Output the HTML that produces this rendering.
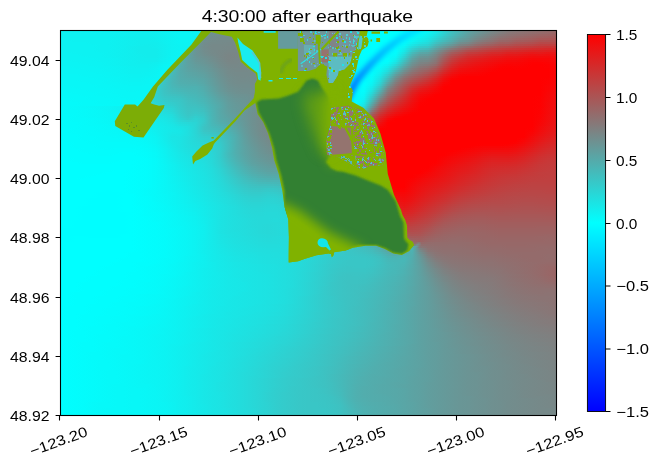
<!DOCTYPE html>
<html><head><meta charset="utf-8"><title>4:30:00 after earthquake</title>
<style>html,body{margin:0;padding:0;background:#fff}body{width:658px;height:469px;position:relative;overflow:hidden;font-family:"Liberation Sans", sans-serif}#w{position:absolute;left:60px;top:30px;width:497px;height:386px;overflow:hidden}#w i{display:block;height:2px;width:496px}</style></head><body>
<div id="w">
<i style="background:linear-gradient(90deg,#0ef1f1 0.0%,#0ef1f1 1.6%,#0ef1f1 3.2%,#0df2f2 4.8%,#0df2f2 6.5%,#0df2f2 8.1%,#0ef1f1 9.7%,#0ef1f1 11.3%,#0ff0f0 12.9%,#0ff0f0 14.5%,#10efef 16.1%,#10efef 17.7%,#0ff0f0 19.4%,#0df2f2 21.0%,#0bf4f4 22.6%,#09f6f6 24.2%,#09f6f6 25.8%,#0bf4f4 27.4%,#0ff0f0 29.0%,#10efef 29.4%,#6a9595 29.6%,#6d9292 30.6%,#708f8f 32.3%,#718e8e 33.9%,#718e8e 35.5%,#718e8e 37.1%,#718e8e 38.7%,#6f9090 40.3%,#6d9292 41.9%,#6a9595 43.5%,#669999 45.2%,#609f9f 46.8%,#58a7a7 48.4%,#4eb1b1 50.0%,#42bdbd 51.6%,#36c9c9 53.2%,#2ad5d5 54.8%,#1ee1e1 56.5%,#14ebeb 58.1%,#0bf4f4 59.7%,#05fafa 61.3%,#02fdfd 62.9%,#00ffff 64.5%,#00ffff 66.1%,#00ffff 67.7%,#00fdff 69.4%,#00ffff 71.0%,#02fdfd 72.6%,#08f7f7 74.2%,#15eaea 75.8%,#29d6d6 77.4%,#3cc3c3 79.0%,#4ab5b5 80.6%,#59a6a6 82.3%,#639c9c 83.9%,#6d9292 85.5%,#758a8a 87.1%,#7c8383 88.7%,#837c7c 90.3%,#867979 91.9%,#8a7575 93.5%,#8d7272 95.2%,#906f6f 96.8%,#936c6c 98.4%,#966969 100.0%)"></i>
<i style="background:linear-gradient(90deg,#0ef1f1 0.0%,#0ef1f1 1.6%,#0ef1f1 3.2%,#0ef1f1 4.8%,#0df2f2 6.5%,#0ef1f1 8.1%,#0ef1f1 9.7%,#0ef1f1 11.3%,#0ff0f0 12.9%,#10efef 14.5%,#10efef 16.1%,#10efef 17.7%,#0ff0f0 19.4%,#0df2f2 21.0%,#0bf4f4 22.6%,#0af5f5 24.2%,#0af5f5 25.8%,#0bf4f4 27.4%,#10efef 29.0%,#10efef 29.1%,#6b9494 29.3%,#6f9090 30.6%,#718e8e 32.3%,#728d8d 33.9%,#728d8d 35.5%,#728d8d 37.1%,#718e8e 38.7%,#708f8f 40.3%,#6e9191 41.9%,#6b9494 43.5%,#679898 45.2%,#619e9e 46.8%,#59a6a6 48.4%,#4fb0b0 50.0%,#43bcbc 51.6%,#36c9c9 53.2%,#2ad5d5 54.8%,#1ee1e1 56.5%,#13ecec 58.1%,#0bf4f4 59.7%,#05fafa 61.3%,#02fdfd 62.9%,#00ffff 64.5%,#00ffff 66.1%,#00ffff 67.7%,#00fdff 69.4%,#01fefe 71.0%,#04fbfb 72.6%,#0bf4f4 74.2%,#19e6e6 75.8%,#2dd2d2 77.4%,#40bfbf 79.0%,#4eb1b1 80.6%,#5da2a2 82.3%,#679898 83.9%,#708f8f 85.5%,#798686 87.1%,#807f7f 88.7%,#877878 90.3%,#8b7474 91.9%,#8e7171 93.5%,#916e6e 95.2%,#946b6b 96.8%,#976868 98.4%,#9a6565 100.0%)"></i>
<i style="background:linear-gradient(90deg,#0ef1f1 0.0%,#0ef1f1 1.6%,#0ef1f1 3.2%,#0ef1f1 4.8%,#0ef1f1 6.5%,#0ef1f1 8.1%,#0ef1f1 9.7%,#0ff0f0 11.3%,#0ff0f0 12.9%,#10efef 14.5%,#11eeee 16.1%,#11eeee 17.7%,#10efef 19.4%,#0ef1f1 21.0%,#0cf3f3 22.6%,#0af5f5 24.2%,#0af5f5 25.8%,#0cf3f3 27.4%,#0ff0f0 28.8%,#6b9494 29.0%,#6b9494 29.0%,#708f8f 30.6%,#728d8d 32.3%,#738c8c 33.9%,#738c8c 35.5%,#738c8c 37.1%,#728d8d 38.7%,#718e8e 40.3%,#6f9090 41.9%,#6c9393 43.5%,#689797 45.2%,#629d9d 46.8%,#5aa5a5 48.4%,#50afaf 50.0%,#44bbbb 51.6%,#37c8c8 53.2%,#2ad5d5 54.8%,#1ee1e1 56.5%,#13ecec 58.1%,#0af5f5 59.7%,#04fbfb 61.3%,#01fefe 62.9%,#00ffff 64.5%,#00ffff 66.1%,#00ffff 67.7%,#00feff 69.4%,#02fdfd 71.0%,#07f8f8 72.6%,#0ff0f0 74.2%,#1ee1e1 75.8%,#31cece 77.4%,#43bcbc 79.0%,#52adad 80.6%,#609f9f 82.3%,#6b9494 83.9%,#758a8a 85.5%,#7d8282 87.1%,#857a7a 88.7%,#8b7474 90.3%,#8f7070 91.9%,#926d6d 93.5%,#966969 95.2%,#9a6565 96.8%,#9c6363 98.4%,#9f6060 100.0%)"></i>
<i style="background:linear-gradient(90deg,#0ef1f1 0.0%,#0ef1f1 1.6%,#0ef1f1 3.2%,#0ef1f1 4.8%,#0ef1f1 6.5%,#0ef1f1 8.1%,#0ef1f1 9.7%,#0ff0f0 11.3%,#10efef 12.9%,#11eeee 14.5%,#11eeee 16.1%,#11eeee 17.7%,#10efef 19.4%,#0ef1f1 21.0%,#0cf3f3 22.6%,#0af5f5 24.2%,#0af5f5 25.8%,#0df2f2 27.4%,#0ff0f0 28.4%,#6b9494 28.7%,#6d9292 29.0%,#728d8d 30.6%,#738c8c 32.3%,#748b8b 33.9%,#748b8b 35.5%,#748b8b 37.1%,#738c8c 38.7%,#728d8d 40.3%,#708f8f 41.9%,#6e9191 43.5%,#699696 45.2%,#649b9b 46.8%,#5ba4a4 48.4%,#51aeae 50.0%,#45baba 51.6%,#37c8c8 53.2%,#2ad5d5 54.8%,#1ee1e1 56.5%,#13ecec 58.1%,#0af5f5 59.7%,#04fbfb 61.3%,#01fefe 62.9%,#00ffff 64.5%,#00ffff 66.1%,#00ffff 67.7%,#00feff 69.4%,#04fbfb 71.0%,#0af5f5 72.6%,#13ecec 74.2%,#24dbdb 75.8%,#37c8c8 77.4%,#48b7b7 79.0%,#57a8a8 80.6%,#639c9c 82.3%,#708f8f 83.9%,#798686 85.5%,#827d7d 87.1%,#8a7575 88.7%,#8f7070 90.3%,#946b6b 91.9%,#976868 93.5%,#9b6464 95.2%,#9f6060 96.8%,#a15e5e 98.4%,#a35c5c 100.0%)"></i>
<i style="background:linear-gradient(90deg,#0df2f2 0.0%,#0ef1f1 1.6%,#0ef1f1 3.2%,#0ef1f1 4.8%,#0ef1f1 6.5%,#0ef1f1 8.1%,#0ef1f1 9.7%,#0ff0f0 11.3%,#10efef 12.9%,#11eeee 14.5%,#12eded 16.1%,#12eded 17.7%,#11eeee 19.4%,#0ff0f0 21.0%,#0cf3f3 22.6%,#0bf4f4 24.2%,#0bf4f4 25.8%,#0df2f2 27.4%,#0ff0f0 28.1%,#6b9494 28.4%,#6f9090 29.0%,#738c8c 30.6%,#748b8b 32.3%,#748b8b 33.9%,#758a8a 35.5%,#758a8a 37.1%,#748b8b 38.7%,#738c8c 40.3%,#718e8e 41.9%,#6f9090 43.5%,#6b9494 45.2%,#659a9a 46.8%,#5da2a2 48.4%,#52adad 50.0%,#45baba 51.6%,#38c7c7 53.2%,#2ad5d5 54.8%,#1ee1e1 56.5%,#13ecec 58.1%,#0af5f5 59.7%,#04fbfb 61.3%,#01fefe 62.9%,#00ffff 64.5%,#00ffff 66.1%,#00ffff 67.7%,#00feff 69.4%,#06f9f9 71.0%,#0ff0f0 72.6%,#18e7e7 74.2%,#2bd4d4 75.8%,#3dc2c2 77.4%,#4db2b2 79.0%,#5ea1a1 80.6%,#689797 82.3%,#758a8a 83.9%,#7f8080 85.5%,#877878 87.1%,#906f6f 88.7%,#946b6b 90.3%,#9a6565 91.9%,#9d6262 93.5%,#a05f5f 95.2%,#a65959 96.8%,#a75858 98.4%,#a95656 100.0%)"></i>
<i style="background:linear-gradient(90deg,#0df2f2 0.0%,#0df2f2 1.6%,#0ef1f1 3.2%,#0ef1f1 4.8%,#0ef1f1 6.5%,#0ef1f1 8.1%,#0ef1f1 9.7%,#0ff0f0 11.3%,#10efef 12.9%,#11eeee 14.5%,#12eded 16.1%,#12eded 17.7%,#11eeee 19.4%,#0ff0f0 21.0%,#0df2f2 22.6%,#0bf4f4 24.2%,#0bf4f4 25.8%,#0ef1f1 27.4%,#0ff0f0 27.8%,#6a9595 28.0%,#708f8f 29.0%,#748b8b 30.6%,#758a8a 32.3%,#758a8a 33.9%,#758a8a 35.5%,#758a8a 37.1%,#758a8a 38.7%,#748b8b 40.3%,#728d8d 41.9%,#708f8f 43.5%,#6c9393 45.2%,#669999 46.8%,#5ea1a1 48.4%,#53acac 50.0%,#46b9b9 51.6%,#38c7c7 53.2%,#2ad5d5 54.8%,#1de2e2 56.5%,#12eded 58.1%,#09f6f6 59.7%,#03fcfc 61.3%,#00ffff 62.9%,#00ffff 64.5%,#00ffff 66.1%,#00ffff 67.7%,#00ffff 69.4%,#0af5f5 71.0%,#15eaea 72.6%,#1ee1e1 74.2%,#34cbcb 75.8%,#44bbbb 77.4%,#53acac 79.0%,#659a9a 80.6%,#6e9191 82.3%,#7d8282 83.9%,#867979 85.5%,#8d7272 87.1%,#976868 88.7%,#996666 90.3%,#a15e5e 91.9%,#a35c5c 93.5%,#a75858 95.2%,#ad5252 96.8%,#ae5151 98.4%,#af5050 100.0%)"></i>
<i style="background:linear-gradient(90deg,#0df2f2 0.0%,#0df2f2 1.6%,#0df2f2 3.2%,#0df2f2 4.8%,#0ef1f1 6.5%,#0ef1f1 8.1%,#0ef1f1 9.7%,#0ff0f0 11.3%,#10efef 12.9%,#11eeee 14.5%,#12eded 16.1%,#12eded 17.7%,#12eded 19.4%,#0ff0f0 21.0%,#0df2f2 22.6%,#0bf4f4 24.2%,#0cf3f3 25.8%,#0ff0f0 27.4%,#0ff0f0 27.4%,#699696 27.7%,#728d8d 29.0%,#758a8a 30.6%,#758a8a 32.3%,#768989 33.9%,#768989 35.5%,#768989 37.1%,#758a8a 38.7%,#748b8b 40.3%,#738c8c 41.9%,#718e8e 43.5%,#6d9292 45.2%,#679898 46.8%,#5fa0a0 48.4%,#54abab 50.0%,#47b8b8 51.6%,#38c7c7 53.2%,#2ad5d5 54.8%,#1de2e2 56.5%,#12eded 58.1%,#09f6f6 59.7%,#02fdfd 61.3%,#00ffff 62.9%,#00ffff 64.5%,#00feff 66.1%,#00ffff 67.7%,#02fdfd 69.4%,#10efef 71.0%,#1ce3e3 72.6%,#25dada 74.2%,#3dc2c2 75.8%,#4eb1b1 77.4%,#5ca3a3 79.0%,#6f9090 80.6%,#778888 82.3%,#867979 83.9%,#8f7070 85.5%,#966969 87.1%,#a05f5f 88.7%,#a15e5e 90.3%,#a95656 91.9%,#ac5353 93.5%,#af5050 95.2%,#b64949 96.8%,#b64949 98.4%,#b64949 100.0%)"></i>
<i style="background:linear-gradient(90deg,#0df2f2 0.0%,#0df2f2 1.6%,#0df2f2 3.2%,#0df2f2 4.8%,#0df2f2 6.5%,#0ef1f1 8.1%,#0ef1f1 9.7%,#0ff0f0 11.3%,#10efef 12.9%,#11eeee 14.5%,#12eded 16.1%,#13ecec 17.7%,#12eded 19.4%,#10efef 21.0%,#0df2f2 22.6%,#0cf3f3 24.2%,#0cf3f3 25.8%,#0ff0f0 27.0%,#669999 27.3%,#689797 27.4%,#728d8d 29.0%,#768989 30.6%,#768989 32.3%,#768989 33.9%,#778888 35.5%,#768989 37.1%,#768989 38.7%,#758a8a 40.3%,#748b8b 41.9%,#718e8e 43.5%,#6e9191 45.2%,#689797 46.8%,#609f9f 48.4%,#55aaaa 50.0%,#47b8b8 51.6%,#39c6c6 53.2%,#2ad5d5 54.8%,#1de2e2 56.5%,#11eeee 58.1%,#08f7f7 59.7%,#02fdfd 61.3%,#00ffff 62.9%,#00ffff 64.5%,#00feff 66.1%,#00feff 67.7%,#05fafa 69.4%,#18e7e7 71.0%,#26d9d9 72.6%,#2dd2d2 74.2%,#48b7b7 75.8%,#59a6a6 77.4%,#689797 79.0%,#7b8484 80.6%,#837c7c 82.3%,#916e6e 83.9%,#9a6565 85.5%,#a15e5e 87.1%,#aa5555 88.7%,#ac5353 90.3%,#b34c4c 91.9%,#b64949 93.5%,#b94646 95.2%,#bf4040 96.8%,#c03f3f 98.4%,#c03f3f 100.0%)"></i>
<i style="background:linear-gradient(90deg,#0df2f2 0.0%,#0df2f2 1.6%,#0df2f2 3.2%,#0df2f2 4.8%,#0df2f2 6.5%,#0ef1f1 8.1%,#0ef1f1 9.7%,#0ff0f0 11.3%,#10efef 12.9%,#12eded 14.5%,#13ecec 16.1%,#13ecec 17.7%,#12eded 19.4%,#10efef 21.0%,#0df2f2 22.6%,#0cf3f3 24.2%,#0df2f2 25.8%,#0ef1f1 26.6%,#649b9b 26.9%,#699696 27.4%,#738c8c 29.0%,#768989 30.6%,#768989 32.3%,#778888 33.9%,#778888 35.5%,#778888 37.1%,#768989 38.7%,#758a8a 40.3%,#748b8b 41.9%,#728d8d 43.5%,#6f9090 45.2%,#699696 46.8%,#619e9e 48.4%,#56a9a9 50.0%,#48b7b7 51.6%,#39c6c6 53.2%,#2ad5d5 54.8%,#1de2e2 56.5%,#11eeee 58.1%,#08f7f7 59.7%,#01fefe 61.3%,#00ffff 62.9%,#00ffff 64.5%,#00feff 66.1%,#00ffff 67.7%,#0af5f5 69.4%,#22dddd 71.0%,#32cdcd 72.6%,#38c7c7 74.2%,#52adad 75.8%,#659a9a 77.4%,#768989 79.0%,#887777 80.6%,#936c6c 82.3%,#9e6161 83.9%,#a75858 85.5%,#ae5151 87.1%,#b54a4a 88.7%,#b94646 90.3%,#be4141 91.9%,#c13e3e 93.5%,#c53a3a 95.2%,#c93636 96.8%,#cb3434 98.4%,#ca3535 100.0%)"></i>
<i style="background:linear-gradient(90deg,#0df2f2 0.0%,#0df2f2 1.6%,#0df2f2 3.2%,#0df2f2 4.8%,#0df2f2 6.5%,#0ef1f1 8.1%,#0ef1f1 9.7%,#0ff0f0 11.3%,#10efef 12.9%,#12eded 14.5%,#13ecec 16.1%,#13ecec 17.7%,#13ecec 19.4%,#10efef 21.0%,#0df2f2 22.6%,#0cf3f3 24.2%,#0df2f2 25.8%,#0ef1f1 26.2%,#619e9e 26.5%,#699696 27.4%,#728d8d 29.0%,#768989 30.6%,#768989 32.3%,#778888 33.9%,#788787 35.5%,#778888 37.1%,#768989 38.7%,#768989 40.3%,#758a8a 41.9%,#738c8c 43.5%,#708f8f 45.2%,#6a9595 46.8%,#629d9d 48.4%,#56a9a9 50.0%,#48b7b7 51.6%,#39c6c6 53.2%,#2ad5d5 54.8%,#1de2e2 56.5%,#11eeee 58.1%,#07f8f8 59.7%,#01fefe 61.3%,#00feff 62.9%,#00ffff 64.5%,#00fdff 66.1%,#00ffff 67.7%,#10efef 69.4%,#2dd2d2 71.0%,#3ec1c1 72.6%,#45baba 74.2%,#5ea1a1 75.8%,#728d8d 77.4%,#867979 79.0%,#956a6a 80.6%,#a35c5c 82.3%,#ac5353 83.9%,#b44b4b 85.5%,#bb4444 87.1%,#c13e3e 88.7%,#c63939 90.3%,#c93636 91.9%,#cd3232 93.5%,#d12e2e 95.2%,#d32c2c 96.8%,#d62929 98.4%,#d52a2a 100.0%)"></i>
<i style="background:linear-gradient(90deg,#0cf3f3 0.0%,#0df2f2 1.6%,#0df2f2 3.2%,#0df2f2 4.8%,#0df2f2 6.5%,#0ef1f1 8.1%,#0ef1f1 9.7%,#0ff0f0 11.3%,#10efef 12.9%,#11eeee 14.5%,#13ecec 16.1%,#13ecec 17.7%,#13ecec 19.4%,#10efef 21.0%,#0df2f2 22.6%,#0cf3f3 24.2%,#0ef1f1 25.8%,#0ef1f1 25.8%,#5ea1a1 26.1%,#6a9595 27.4%,#728d8d 29.0%,#758a8a 30.6%,#778888 32.3%,#788787 33.9%,#788787 35.5%,#778888 37.1%,#778888 38.7%,#768989 40.3%,#758a8a 41.9%,#738c8c 43.5%,#708f8f 45.2%,#6b9494 46.8%,#639c9c 48.4%,#57a8a8 50.0%,#49b6b6 51.6%,#39c6c6 53.2%,#2ad5d5 54.8%,#1ce3e3 56.5%,#10efef 58.1%,#07f8f8 59.7%,#01fefe 61.3%,#00feff 62.9%,#00ffff 64.5%,#00fdff 66.1%,#01fefe 67.7%,#16e9e9 69.4%,#38c7c7 71.0%,#4bb4b4 72.6%,#51aeae 74.2%,#689797 75.8%,#7f8080 77.4%,#956a6a 79.0%,#a35c5c 80.6%,#b34c4c 82.3%,#b94646 83.9%,#c13e3e 85.5%,#c83737 87.1%,#cc3333 88.7%,#d32c2c 90.3%,#d42b2b 91.9%,#d82727 93.5%,#dc2323 95.2%,#dd2222 96.8%,#e01f1f 98.4%,#df2020 100.0%)"></i>
<i style="background:linear-gradient(90deg,#0cf3f3 0.0%,#0cf3f3 1.6%,#0df2f2 3.2%,#0df2f2 4.8%,#0df2f2 6.5%,#0df2f2 8.1%,#0ef1f1 9.7%,#0ff0f0 11.3%,#10efef 12.9%,#11eeee 14.5%,#13ecec 16.1%,#13ecec 17.7%,#13ecec 19.4%,#10efef 21.0%,#0df2f2 22.6%,#0cf3f3 24.2%,#0df2f2 25.5%,#5ba4a4 25.7%,#5ca3a3 25.8%,#6a9595 27.4%,#718e8e 29.0%,#758a8a 30.6%,#778888 32.3%,#798686 33.9%,#798686 35.5%,#778888 37.1%,#778888 38.7%,#768989 40.3%,#768989 41.9%,#748b8b 43.5%,#718e8e 45.2%,#6c9393 46.8%,#649b9b 48.4%,#58a7a7 50.0%,#49b6b6 51.6%,#39c6c6 53.2%,#2ad5d5 54.8%,#1ce3e3 56.5%,#10efef 58.1%,#07f8f8 59.7%,#01fefe 61.3%,#00feff 62.9%,#00feff 64.5%,#00fcff 66.1%,#03fcfc 67.7%,#1de2e2 69.4%,#43bcbc 71.0%,#57a8a8 72.6%,#5ba4a4 74.2%,#718e8e 75.8%,#897676 77.4%,#a25d5d 79.0%,#af5050 80.6%,#c03f3f 82.3%,#c53a3a 83.9%,#cc3333 85.5%,#d42b2b 87.1%,#d62929 88.7%,#dd2222 90.3%,#de2121 91.9%,#e21d1d 93.5%,#e61919 95.2%,#e51a1a 96.8%,#e91616 98.4%,#e71818 100.0%)"></i>
<i style="background:linear-gradient(90deg,#0cf3f3 0.0%,#0cf3f3 1.6%,#0cf3f3 3.2%,#0df2f2 4.8%,#0df2f2 6.5%,#0df2f2 8.1%,#0ef1f1 9.7%,#0ff0f0 11.3%,#10efef 12.9%,#11eeee 14.5%,#12eded 16.1%,#13ecec 17.7%,#13ecec 19.4%,#10efef 21.0%,#0df2f2 22.6%,#0cf3f3 24.2%,#0df2f2 25.1%,#57a8a8 25.3%,#5da2a2 25.8%,#6a9595 27.4%,#708f8f 29.0%,#748b8b 30.6%,#778888 32.3%,#7a8585 33.9%,#798686 35.5%,#778888 37.1%,#778888 38.7%,#768989 40.3%,#768989 41.9%,#748b8b 43.5%,#728d8d 45.2%,#6d9292 46.8%,#659a9a 48.4%,#58a7a7 50.0%,#49b6b6 51.6%,#39c6c6 53.2%,#2ad5d5 54.8%,#1ce3e3 56.5%,#10efef 58.1%,#06f9f9 59.7%,#01fefe 61.3%,#00feff 62.9%,#00fdff 64.5%,#00fcff 66.1%,#05fafa 67.7%,#25dada 69.4%,#4cb3b3 71.0%,#609f9f 72.6%,#649b9b 74.2%,#788787 75.8%,#936c6c 77.4%,#ac5353 79.0%,#bb4444 80.6%,#ca3535 82.3%,#cf3030 83.9%,#d62929 85.5%,#dc2323 87.1%,#df2020 88.7%,#e61919 90.3%,#e61919 91.9%,#ea1515 93.5%,#ee1111 95.2%,#ed1212 96.8%,#ef1010 98.4%,#ec1313 100.0%)"></i>
<i style="background:linear-gradient(90deg,#0cf3f3 0.0%,#0cf3f3 1.6%,#0cf3f3 3.2%,#0cf3f3 4.8%,#0df2f2 6.5%,#0df2f2 8.1%,#0ef1f1 9.7%,#0ff0f0 11.3%,#10efef 12.9%,#11eeee 14.5%,#12eded 16.1%,#13ecec 17.7%,#13ecec 19.4%,#10efef 21.0%,#0cf3f3 22.6%,#0cf3f3 24.2%,#0df2f2 24.7%,#54abab 24.9%,#5da2a2 25.8%,#699696 27.4%,#6e9191 29.0%,#728d8d 30.6%,#778888 32.3%,#7a8585 33.9%,#798686 35.5%,#778888 37.1%,#778888 38.7%,#778888 40.3%,#768989 41.9%,#758a8a 43.5%,#728d8d 45.2%,#6d9292 46.8%,#659a9a 48.4%,#59a6a6 50.0%,#49b6b6 51.6%,#39c6c6 53.2%,#29d6d6 54.8%,#1be4e4 56.5%,#0ff0f0 58.1%,#06f9f9 59.7%,#01fefe 61.3%,#00feff 62.9%,#00fdff 64.5%,#00fcff 66.1%,#09f6f6 67.7%,#2cd3d3 69.4%,#54abab 71.0%,#689797 72.6%,#6c9393 74.2%,#7d8282 75.8%,#9b6464 77.4%,#b54a4a 79.0%,#c43b3b 80.6%,#d22d2d 82.3%,#d82727 83.9%,#dd2222 85.5%,#e41b1b 87.1%,#e71818 88.7%,#ec1313 90.3%,#ed1212 91.9%,#f00f0f 93.5%,#f30c0c 95.2%,#f30c0c 96.8%,#f40b0b 98.4%,#f00f0f 100.0%)"></i>
<i style="background:linear-gradient(90deg,#0bf4f4 0.0%,#0cf3f3 1.6%,#0cf3f3 3.2%,#0cf3f3 4.8%,#0cf3f3 6.5%,#0df2f2 8.1%,#0df2f2 9.7%,#0ef1f1 11.3%,#10efef 12.9%,#11eeee 14.5%,#12eded 16.1%,#12eded 17.7%,#12eded 19.4%,#0ff0f0 21.0%,#0cf3f3 22.6%,#0cf3f3 24.2%,#0cf3f3 24.3%,#50afaf 24.5%,#5da2a2 25.8%,#689797 27.4%,#6c9393 29.0%,#718e8e 30.6%,#768989 32.3%,#7a8585 33.9%,#788787 35.5%,#778888 37.1%,#778888 38.7%,#778888 40.3%,#768989 41.9%,#758a8a 43.5%,#728d8d 45.2%,#6e9191 46.8%,#669999 48.4%,#59a6a6 50.0%,#49b6b6 51.6%,#39c6c6 53.2%,#29d6d6 54.8%,#1be4e4 56.5%,#0ff0f0 58.1%,#06f9f9 59.7%,#01fefe 61.3%,#00ffff 62.9%,#00fdff 64.5%,#00feff 66.1%,#0ef1f1 67.7%,#35caca 69.4%,#5ca3a3 71.0%,#6f9090 72.6%,#728d8d 74.2%,#837c7c 75.8%,#a25d5d 77.4%,#bd4242 79.0%,#cd3232 80.6%,#d92626 82.3%,#df2020 83.9%,#e41b1b 85.5%,#e91616 87.1%,#ed1212 88.7%,#f10e0e 90.3%,#f20d0d 91.9%,#f50a0a 93.5%,#f80707 95.2%,#f80707 96.8%,#f80707 98.4%,#f30c0c 100.0%)"></i>
<i style="background:linear-gradient(90deg,#0bf4f4 0.0%,#0bf4f4 1.6%,#0cf3f3 3.2%,#0cf3f3 4.8%,#0cf3f3 6.5%,#0df2f2 8.1%,#0df2f2 9.7%,#0ef1f1 11.3%,#0ff0f0 12.9%,#10efef 14.5%,#11eeee 16.1%,#12eded 17.7%,#12eded 19.4%,#0ef1f1 21.0%,#0bf4f4 22.6%,#0cf3f3 23.9%,#4db2b2 24.1%,#4eb1b1 24.2%,#5ea1a1 25.8%,#679898 27.4%,#6a9595 29.0%,#708f8f 30.6%,#758a8a 32.3%,#798686 33.9%,#788787 35.5%,#778888 37.1%,#778888 38.7%,#778888 40.3%,#768989 41.9%,#758a8a 43.5%,#738c8c 45.2%,#6e9191 46.8%,#669999 48.4%,#59a6a6 50.0%,#49b6b6 51.6%,#39c6c6 53.2%,#29d6d6 54.8%,#1ae5e5 56.5%,#0ef1f1 58.1%,#06f9f9 59.7%,#01fefe 61.3%,#00ffff 62.9%,#00feff 64.5%,#02fdfd 66.1%,#16e9e9 67.7%,#3ec1c1 69.4%,#639c9c 71.0%,#758a8a 72.6%,#788787 74.2%,#887777 75.8%,#a95656 77.4%,#c43b3b 79.0%,#d42b2b 80.6%,#de2121 82.3%,#e41b1b 83.9%,#e91616 85.5%,#ee1111 87.1%,#f20d0d 88.7%,#f60909 90.3%,#f60909 91.9%,#f90606 93.5%,#fc0303 95.2%,#fb0404 96.8%,#fa0505 98.4%,#f50a0a 100.0%)"></i>
<i style="background:linear-gradient(90deg,#0bf4f4 0.0%,#0bf4f4 1.6%,#0bf4f4 3.2%,#0cf3f3 4.8%,#0cf3f3 6.5%,#0cf3f3 8.1%,#0df2f2 9.7%,#0ef1f1 11.3%,#0ff0f0 12.9%,#10efef 14.5%,#11eeee 16.1%,#11eeee 17.7%,#10efef 19.4%,#0df2f2 21.0%,#0bf4f4 22.6%,#0bf4f4 23.5%,#49b6b6 23.7%,#4fb0b0 24.2%,#5ea1a1 25.8%,#659a9a 27.4%,#699696 29.0%,#6e9191 30.6%,#748b8b 32.3%,#788787 33.9%,#788787 35.5%,#768989 37.1%,#768989 38.7%,#778888 40.3%,#768989 41.9%,#758a8a 43.5%,#738c8c 45.2%,#6e9191 46.8%,#669999 48.4%,#59a6a6 50.0%,#49b6b6 51.6%,#38c7c7 53.2%,#28d7d7 54.8%,#1ae5e5 56.5%,#0ef1f1 58.1%,#05fafa 59.7%,#01fefe 61.3%,#00ffff 62.9%,#00ffff 64.5%,#06f9f9 66.1%,#1ee1e1 67.7%,#47b8b8 69.4%,#6a9595 71.0%,#7a8585 72.6%,#7f8080 74.2%,#8d7272 75.8%,#b14e4e 77.4%,#cb3434 79.0%,#db2424 80.6%,#e31c1c 82.3%,#e91616 83.9%,#ee1111 85.5%,#f20d0d 87.1%,#f60909 88.7%,#f90606 90.3%,#f90606 91.9%,#fb0404 93.5%,#fe0101 95.2%,#fe0101 96.8%,#fc0303 98.4%,#f70808 100.0%)"></i>
<i style="background:linear-gradient(90deg,#0bf4f4 0.0%,#0bf4f4 1.6%,#0bf4f4 3.2%,#0bf4f4 4.8%,#0cf3f3 6.5%,#0cf3f3 8.1%,#0df2f2 9.7%,#0ef1f1 11.3%,#0ff0f0 12.9%,#10efef 14.5%,#10efef 16.1%,#10efef 17.7%,#0ff0f0 19.4%,#0bf4f4 21.0%,#0af5f5 22.6%,#0bf4f4 23.1%,#46b9b9 23.4%,#51aeae 24.2%,#5da2a2 25.8%,#639c9c 27.4%,#679898 29.0%,#6c9393 30.6%,#738c8c 32.3%,#778888 33.9%,#778888 35.5%,#768989 37.1%,#768989 38.7%,#768989 40.3%,#768989 41.9%,#758a8a 43.5%,#738c8c 45.2%,#6e9191 46.8%,#669999 48.4%,#59a6a6 50.0%,#49b6b6 51.6%,#38c7c7 53.2%,#28d7d7 54.8%,#19e6e6 56.5%,#0df2f2 58.1%,#05fafa 59.7%,#01fefe 61.3%,#00ffff 62.9%,#02fdfd 64.5%,#0cf3f3 66.1%,#28d7d7 67.7%,#50afaf 69.4%,#708f8f 71.0%,#807f7f 72.6%,#867979 74.2%,#956a6a 75.8%,#b84747 77.4%,#d22d2d 79.0%,#e11e1e 80.6%,#e81717 82.3%,#ed1212 83.9%,#f10e0e 85.5%,#f50a0a 87.1%,#fa0505 88.7%,#fc0303 90.3%,#fb0404 91.9%,#fd0202 93.5%,#ff0000 95.2%,#ff0000 96.8%,#fe0101 98.4%,#f80707 100.0%)"></i>
<i style="background:linear-gradient(90deg,#0af5f5 0.0%,#0af5f5 1.6%,#0bf4f4 3.2%,#0bf4f4 4.8%,#0bf4f4 6.5%,#0cf3f3 8.1%,#0cf3f3 9.7%,#0df2f2 11.3%,#0ef1f1 12.9%,#0ff0f0 14.5%,#10efef 16.1%,#10efef 17.7%,#0ef1f1 19.4%,#0af5f5 21.0%,#0af5f5 22.6%,#0af5f5 22.7%,#43bcbc 23.0%,#52adad 24.2%,#5da2a2 25.8%,#629d9d 27.4%,#659a9a 29.0%,#6b9494 30.6%,#728d8d 32.3%,#768989 33.9%,#778888 35.5%,#768989 37.1%,#768989 38.7%,#768989 40.3%,#768989 41.9%,#758a8a 43.5%,#738c8c 45.2%,#6e9191 46.8%,#659a9a 48.4%,#58a7a7 50.0%,#49b6b6 51.6%,#38c7c7 53.2%,#27d8d8 54.8%,#18e7e7 56.5%,#0df2f2 58.1%,#05fafa 59.7%,#00ffff 61.3%,#00ffff 62.9%,#04fbfb 64.5%,#13ecec 66.1%,#33cccc 67.7%,#5aa5a5 69.4%,#778888 71.0%,#877878 72.6%,#8e7171 74.2%,#9f6060 75.8%,#c03f3f 77.4%,#d82727 79.0%,#e61919 80.6%,#ec1313 82.3%,#f10e0e 83.9%,#f40b0b 85.5%,#f80707 87.1%,#fc0303 88.7%,#fe0101 90.3%,#fd0202 91.9%,#fe0101 93.5%,#ff0000 95.2%,#ff0000 96.8%,#fe0101 98.4%,#f90606 100.0%)"></i>
<i style="background:linear-gradient(90deg,#0af5f5 0.0%,#0af5f5 1.6%,#0af5f5 3.2%,#0bf4f4 4.8%,#0bf4f4 6.5%,#0bf4f4 8.1%,#0cf3f3 9.7%,#0df2f2 11.3%,#0ef1f1 12.9%,#0ff0f0 14.5%,#0ff0f0 16.1%,#0ff0f0 17.7%,#0df2f2 19.4%,#0af5f5 21.0%,#09f6f6 22.4%,#40bfbf 22.6%,#40bfbf 22.6%,#53acac 24.2%,#5ca3a3 25.8%,#609f9f 27.4%,#649b9b 29.0%,#699696 30.6%,#708f8f 32.3%,#758a8a 33.9%,#768989 35.5%,#768989 37.1%,#768989 38.7%,#768989 40.3%,#768989 41.9%,#758a8a 43.5%,#738c8c 45.2%,#6e9191 46.8%,#659a9a 48.4%,#58a7a7 50.0%,#48b7b7 51.6%,#37c8c8 53.2%,#27d8d8 54.8%,#18e7e7 56.5%,#0cf3f3 58.1%,#04fbfb 59.7%,#00ffff 61.3%,#00ffff 62.9%,#07f8f8 64.5%,#1ae5e5 66.1%,#3ec1c1 67.7%,#649b9b 69.4%,#7f8080 71.0%,#8e7171 72.6%,#966969 74.2%,#a95656 75.8%,#c83737 77.4%,#df2020 79.0%,#ec1313 80.6%,#f10e0e 82.3%,#f40b0b 83.9%,#f70808 85.5%,#fb0404 87.1%,#fe0101 88.7%,#ff0000 90.3%,#fe0101 91.9%,#ff0000 93.5%,#ff0000 95.2%,#ff0000 96.8%,#ff0000 98.4%,#f90606 100.0%)"></i>
<i style="background:linear-gradient(90deg,#0af5f5 0.0%,#0af5f5 1.6%,#0af5f5 3.2%,#0af5f5 4.8%,#0bf4f4 6.5%,#0bf4f4 8.1%,#0cf3f3 9.7%,#0cf3f3 11.3%,#0df2f2 12.9%,#0ef1f1 14.5%,#0ef1f1 16.1%,#0ef1f1 17.7%,#0cf3f3 19.4%,#09f6f6 21.0%,#09f6f6 22.0%,#3dc2c2 22.2%,#42bdbd 22.6%,#54abab 24.2%,#5ba4a4 25.8%,#5ea1a1 27.4%,#629d9d 29.0%,#689797 30.6%,#6f9090 32.3%,#748b8b 33.9%,#768989 35.5%,#768989 37.1%,#758a8a 38.7%,#768989 40.3%,#768989 41.9%,#758a8a 43.5%,#728d8d 45.2%,#6d9292 46.8%,#659a9a 48.4%,#58a7a7 50.0%,#48b7b7 51.6%,#37c8c8 53.2%,#26d9d9 54.8%,#17e8e8 56.5%,#0cf3f3 58.1%,#04fbfb 59.7%,#00ffff 61.3%,#01fefe 62.9%,#0bf4f4 64.5%,#22dddd 66.1%,#4ab5b5 67.7%,#6e9191 69.4%,#867979 71.0%,#956a6a 72.6%,#a05f5f 74.2%,#b34c4c 75.8%,#d12e2e 77.4%,#e61919 79.0%,#f10e0e 80.6%,#f50a0a 82.3%,#f70808 83.9%,#fa0505 85.5%,#fd0202 87.1%,#ff0000 88.7%,#ff0000 90.3%,#ff0000 91.9%,#ff0000 93.5%,#ff0000 95.2%,#ff0000 96.8%,#ff0000 98.4%,#fa0505 100.0%)"></i>
<i style="background:linear-gradient(90deg,#09f6f6 0.0%,#0af5f5 1.6%,#0af5f5 3.2%,#0af5f5 4.8%,#0af5f5 6.5%,#0bf4f4 8.1%,#0bf4f4 9.7%,#0cf3f3 11.3%,#0df2f2 12.9%,#0ef1f1 14.5%,#0ef1f1 16.1%,#0df2f2 17.7%,#0cf3f3 19.4%,#09f6f6 21.0%,#09f6f6 21.6%,#3bc4c4 21.9%,#44bbbb 22.6%,#54abab 24.2%,#59a6a6 25.8%,#5ca3a3 27.4%,#609f9f 29.0%,#669999 30.6%,#6e9191 32.3%,#748b8b 33.9%,#758a8a 35.5%,#758a8a 37.1%,#758a8a 38.7%,#768989 40.3%,#768989 41.9%,#758a8a 43.5%,#728d8d 45.2%,#6d9292 46.8%,#649b9b 48.4%,#57a8a8 50.0%,#48b7b7 51.6%,#36c9c9 53.2%,#25dada 54.8%,#17e8e8 56.5%,#0bf4f4 58.1%,#03fcfc 59.7%,#00ffff 61.3%,#01fefe 62.9%,#0ff0f0 64.5%,#2bd4d4 66.1%,#56a9a9 67.7%,#778888 69.4%,#8e7171 71.0%,#9c6363 72.6%,#a95656 74.2%,#be4141 75.8%,#d92626 77.4%,#ec1313 79.0%,#f50a0a 80.6%,#f80707 82.3%,#fa0505 83.9%,#fc0303 85.5%,#ff0000 87.1%,#ff0000 88.7%,#ff0000 90.3%,#ff0000 91.9%,#ff0000 93.5%,#ff0000 95.2%,#ff0000 96.8%,#ff0000 98.4%,#fa0505 100.0%)"></i>
<i style="background:linear-gradient(90deg,#09f6f6 0.0%,#09f6f6 1.6%,#09f6f6 3.2%,#0af5f5 4.8%,#0af5f5 6.5%,#0af5f5 8.1%,#0bf4f4 9.7%,#0cf3f3 11.3%,#0cf3f3 12.9%,#0df2f2 14.5%,#0df2f2 16.1%,#0df2f2 17.7%,#0bf4f4 19.4%,#09f6f6 21.0%,#09f6f6 21.2%,#39c6c6 21.5%,#45baba 22.6%,#53acac 24.2%,#58a7a7 25.8%,#5ba4a4 27.4%,#5ea1a1 29.0%,#659a9a 30.6%,#6d9292 32.3%,#738c8c 33.9%,#758a8a 35.5%,#758a8a 37.1%,#758a8a 38.7%,#758a8a 40.3%,#758a8a 41.9%,#758a8a 43.5%,#728d8d 45.2%,#6d9292 46.8%,#649b9b 48.4%,#57a8a8 50.0%,#47b8b8 51.6%,#36c9c9 53.2%,#25dada 54.8%,#16e9e9 56.5%,#0af5f5 58.1%,#03fcfc 59.7%,#00ffff 61.3%,#02fdfd 62.9%,#13ecec 64.5%,#35caca 66.1%,#619e9e 67.7%,#817e7e 69.4%,#966969 71.0%,#a45b5b 72.6%,#b24d4d 74.2%,#c73838 75.8%,#e21d1d 77.4%,#f20d0d 79.0%,#fa0505 80.6%,#fc0303 82.3%,#fc0303 83.9%,#fe0101 85.5%,#ff0000 87.1%,#ff0000 88.7%,#ff0000 90.3%,#ff0000 91.9%,#ff0000 93.5%,#ff0000 95.2%,#ff0000 96.8%,#ff0000 98.4%,#fa0505 100.0%)"></i>
<i style="background:linear-gradient(90deg,#09f6f6 0.0%,#09f6f6 1.6%,#09f6f6 3.2%,#09f6f6 4.8%,#0af5f5 6.5%,#0af5f5 8.1%,#0bf4f4 9.7%,#0bf4f4 11.3%,#0cf3f3 12.9%,#0df2f2 14.5%,#0df2f2 16.1%,#0cf3f3 17.7%,#0bf4f4 19.4%,#09f6f6 20.9%,#09f6f6 21.0%,#37c8c8 21.1%,#47b8b8 22.6%,#53acac 24.2%,#57a8a8 25.8%,#59a6a6 27.4%,#5da2a2 29.0%,#649b9b 30.6%,#6c9393 32.3%,#728d8d 33.9%,#748b8b 35.5%,#758a8a 37.1%,#748b8b 38.7%,#758a8a 40.3%,#758a8a 41.9%,#748b8b 43.5%,#728d8d 45.2%,#6c9393 46.8%,#639c9c 48.4%,#57a8a8 50.0%,#47b8b8 51.6%,#36c9c9 53.2%,#24dbdb 54.8%,#15eaea 56.5%,#0af5f5 58.1%,#02fdfd 59.7%,#00feff 61.3%,#04fbfb 62.9%,#18e7e7 64.5%,#3ec1c1 66.1%,#6b9494 67.7%,#8a7575 69.4%,#9e6161 71.0%,#ac5353 72.6%,#bb4444 74.2%,#d02f2f 75.8%,#e91616 77.4%,#f70808 79.0%,#fd0202 80.6%,#ff0000 82.3%,#ff0000 83.9%,#ff0000 85.5%,#ff0000 87.1%,#ff0000 88.7%,#ff0000 90.3%,#ff0000 91.9%,#ff0000 93.5%,#ff0000 95.2%,#ff0000 96.8%,#ff0000 98.4%,#f90606 100.0%)"></i>
<i style="background:linear-gradient(90deg,#08f7f7 0.0%,#09f6f6 1.6%,#09f6f6 3.2%,#09f6f6 4.8%,#09f6f6 6.5%,#0af5f5 8.1%,#0af5f5 9.7%,#0bf4f4 11.3%,#0cf3f3 12.9%,#0cf3f3 14.5%,#0cf3f3 16.1%,#0bf4f4 17.7%,#0af5f5 19.4%,#09f6f6 20.5%,#36c9c9 20.8%,#38c7c7 21.0%,#48b7b7 22.6%,#52adad 24.2%,#55aaaa 25.8%,#57a8a8 27.4%,#5ba4a4 29.0%,#629d9d 30.6%,#6b9494 32.3%,#718e8e 33.9%,#748b8b 35.5%,#748b8b 37.1%,#748b8b 38.7%,#758a8a 40.3%,#758a8a 41.9%,#748b8b 43.5%,#728d8d 45.2%,#6c9393 46.8%,#639c9c 48.4%,#56a9a9 50.0%,#47b8b8 51.6%,#35caca 53.2%,#24dbdb 54.8%,#15eaea 56.5%,#09f6f6 58.1%,#02fdfd 59.7%,#00feff 61.3%,#05fafa 62.9%,#1de2e2 64.5%,#48b7b7 66.1%,#748b8b 67.7%,#926d6d 69.4%,#a65959 71.0%,#b54a4a 72.6%,#c43b3b 74.2%,#d92626 75.8%,#ef1010 77.4%,#fc0303 79.0%,#ff0000 80.6%,#ff0000 82.3%,#ff0000 83.9%,#ff0000 85.5%,#ff0000 87.1%,#ff0000 88.7%,#ff0000 90.3%,#ff0000 91.9%,#ff0000 93.5%,#ff0000 95.2%,#ff0000 96.8%,#fe0101 98.4%,#f90606 100.0%)"></i>
<i style="background:linear-gradient(90deg,#08f7f7 0.0%,#08f7f7 1.6%,#08f7f7 3.2%,#09f6f6 4.8%,#09f6f6 6.5%,#09f6f6 8.1%,#0af5f5 9.7%,#0bf4f4 11.3%,#0bf4f4 12.9%,#0cf3f3 14.5%,#0cf3f3 16.1%,#0bf4f4 17.7%,#0af5f5 19.4%,#0af5f5 20.1%,#34cbcb 20.4%,#3ac5c5 21.0%,#49b6b6 22.6%,#51aeae 24.2%,#53acac 25.8%,#55aaaa 27.4%,#59a6a6 29.0%,#619e9e 30.6%,#6a9595 32.3%,#718e8e 33.9%,#738c8c 35.5%,#748b8b 37.1%,#738c8c 38.7%,#748b8b 40.3%,#758a8a 41.9%,#748b8b 43.5%,#718e8e 45.2%,#6c9393 46.8%,#639c9c 48.4%,#56a9a9 50.0%,#47b8b8 51.6%,#35caca 53.2%,#23dcdc 54.8%,#14ebeb 56.5%,#08f7f7 58.1%,#01fefe 59.7%,#00feff 61.3%,#07f8f8 62.9%,#22dddd 64.5%,#51aeae 66.1%,#7c8383 67.7%,#9a6565 69.4%,#af5050 71.0%,#be4141 72.6%,#cd3232 74.2%,#e01f1f 75.8%,#f40b0b 77.4%,#ff0000 79.0%,#ff0000 80.6%,#ff0000 82.3%,#ff0000 83.9%,#ff0000 85.5%,#ff0000 87.1%,#ff0000 88.7%,#ff0000 90.3%,#ff0000 91.9%,#ff0000 93.5%,#ff0000 95.2%,#ff0000 96.8%,#fd0202 98.4%,#f80707 100.0%)"></i>
<i style="background:linear-gradient(90deg,#08f7f7 0.0%,#08f7f7 1.6%,#08f7f7 3.2%,#08f7f7 4.8%,#09f6f6 6.5%,#09f6f6 8.1%,#0af5f5 9.7%,#0af5f5 11.3%,#0bf4f4 12.9%,#0bf4f4 14.5%,#0bf4f4 16.1%,#0bf4f4 17.7%,#0af5f5 19.4%,#0af5f5 19.8%,#32cdcd 20.0%,#3bc4c4 21.0%,#49b6b6 22.6%,#50afaf 24.2%,#52adad 25.8%,#53acac 27.4%,#58a7a7 29.0%,#609f9f 30.6%,#699696 32.3%,#708f8f 33.9%,#738c8c 35.5%,#738c8c 37.1%,#738c8c 38.7%,#748b8b 40.3%,#748b8b 41.9%,#748b8b 43.5%,#718e8e 45.2%,#6c9393 46.8%,#639c9c 48.4%,#56a9a9 50.0%,#47b8b8 51.6%,#35caca 53.2%,#23dcdc 54.8%,#13ecec 56.5%,#08f7f7 58.1%,#01fefe 59.7%,#00ffff 61.3%,#0af5f5 62.9%,#28d7d7 64.5%,#5ba4a4 66.1%,#847b7b 67.7%,#a15e5e 69.4%,#b74848 71.0%,#c73838 72.6%,#d52a2a 74.2%,#e61919 75.8%,#f90606 77.4%,#ff0000 79.0%,#ff0000 80.6%,#ff0000 82.3%,#ff0000 83.9%,#ff0000 85.5%,#ff0000 87.1%,#ff0000 88.7%,#ff0000 90.3%,#ff0000 91.9%,#ff0000 93.5%,#ff0000 95.2%,#ff0000 96.8%,#fd0202 98.4%,#f70808 100.0%)"></i>
<i style="background:linear-gradient(90deg,#07f8f8 0.0%,#08f7f7 1.6%,#08f7f7 3.2%,#08f7f7 4.8%,#08f7f7 6.5%,#09f6f6 8.1%,#09f6f6 9.7%,#0af5f5 11.3%,#0af5f5 12.9%,#0bf4f4 14.5%,#0bf4f4 16.1%,#0af5f5 17.7%,#0af5f5 19.4%,#0af5f5 19.4%,#31cece 19.6%,#3cc3c3 21.0%,#48b7b7 22.6%,#4eb1b1 24.2%,#50afaf 25.8%,#51aeae 27.4%,#56a9a9 29.0%,#5fa0a0 30.6%,#689797 32.3%,#6f9090 33.9%,#728d8d 35.5%,#728d8d 37.1%,#728d8d 38.7%,#738c8c 40.3%,#748b8b 41.9%,#748b8b 43.5%,#718e8e 45.2%,#6c9393 46.8%,#639c9c 48.4%,#56a9a9 50.0%,#47b8b8 51.6%,#35caca 53.2%,#23dcdc 54.8%,#13ecec 56.5%,#07f8f8 58.1%,#00ffff 59.7%,#00ffff 61.3%,#0df2f2 62.9%,#2fd0d0 64.5%,#659a9a 66.1%,#8b7474 67.7%,#a85757 69.4%,#c03f3f 71.0%,#d02f2f 72.6%,#dd2222 74.2%,#ec1313 75.8%,#fc0303 77.4%,#ff0000 79.0%,#ff0000 80.6%,#ff0000 82.3%,#ff0000 83.9%,#ff0000 85.5%,#ff0000 87.1%,#ff0000 88.7%,#ff0000 90.3%,#ff0000 91.9%,#ff0000 93.5%,#ff0000 95.2%,#ff0000 96.8%,#fc0303 98.4%,#f70808 100.0%)"></i>
<i style="background:linear-gradient(90deg,#07f8f8 0.0%,#07f8f8 1.6%,#08f7f7 3.2%,#08f7f7 4.8%,#08f7f7 6.5%,#09f6f6 8.1%,#09f6f6 9.7%,#0af5f5 11.3%,#0af5f5 12.9%,#0af5f5 14.5%,#0af5f5 16.1%,#0af5f5 17.7%,#0af5f5 19.1%,#2fd0d0 19.3%,#2fd0d0 19.4%,#3cc3c3 21.0%,#47b8b8 22.6%,#4cb3b3 24.2%,#4eb1b1 25.8%,#4eb1b1 27.4%,#54abab 29.0%,#5da2a2 30.6%,#679898 32.3%,#6e9191 33.9%,#718e8e 35.5%,#728d8d 37.1%,#728d8d 38.7%,#738c8c 40.3%,#748b8b 41.9%,#748b8b 43.5%,#718e8e 45.2%,#6c9393 46.8%,#639c9c 48.4%,#57a8a8 50.0%,#47b8b8 51.6%,#35caca 53.2%,#23dcdc 54.8%,#12eded 56.5%,#06f9f9 58.1%,#00ffff 59.7%,#01fefe 61.3%,#12eded 62.9%,#38c7c7 64.5%,#708f8f 66.1%,#926d6d 67.7%,#af5050 69.4%,#c83737 71.0%,#d92626 72.6%,#e41b1b 74.2%,#f10e0e 75.8%,#ff0000 77.4%,#ff0000 79.0%,#ff0000 80.6%,#ff0000 82.3%,#ff0000 83.9%,#ff0000 85.5%,#ff0000 87.1%,#ff0000 88.7%,#ff0000 90.3%,#ff0000 91.9%,#ff0000 93.5%,#ff0000 95.2%,#ff0000 96.8%,#fb0404 98.4%,#f60909 100.0%)"></i>
<i style="background:linear-gradient(90deg,#07f8f8 0.0%,#07f8f8 1.6%,#07f8f8 3.2%,#08f7f7 4.8%,#08f7f7 6.5%,#08f7f7 8.1%,#09f6f6 9.7%,#09f6f6 11.3%,#0af5f5 12.9%,#0af5f5 14.5%,#0af5f5 16.1%,#0af5f5 17.7%,#0af5f5 18.8%,#2ed1d1 19.1%,#30cfcf 19.4%,#3dc2c2 21.0%,#45baba 22.6%,#49b6b6 24.2%,#4cb3b3 25.8%,#4db2b2 27.4%,#53acac 29.0%,#5ca3a3 30.6%,#669999 32.3%,#6d9292 33.9%,#708f8f 35.5%,#718e8e 37.1%,#718e8e 38.7%,#738c8c 40.3%,#748b8b 41.9%,#748b8b 43.5%,#718e8e 45.2%,#6c9393 46.8%,#639c9c 48.4%,#57a8a8 50.0%,#48b7b7 51.6%,#36c9c9 53.2%,#23dcdc 54.8%,#12eded 56.5%,#05fafa 58.1%,#00feff 59.7%,#02fdfd 61.3%,#17e8e8 62.9%,#41bebe 64.5%,#7a8585 66.1%,#986767 67.7%,#b54a4a 69.4%,#d02f2f 71.0%,#e11e1e 72.6%,#ea1515 74.2%,#f50a0a 75.8%,#ff0000 77.4%,#ff0000 79.0%,#ff0000 80.6%,#ff0000 82.3%,#ff0000 83.9%,#ff0000 85.5%,#ff0000 87.1%,#ff0000 88.7%,#ff0000 90.3%,#ff0000 91.9%,#ff0000 93.5%,#ff0000 95.2%,#ff0000 96.8%,#fb0404 98.4%,#f50a0a 100.0%)"></i>
<i style="background:linear-gradient(90deg,#06f9f9 0.0%,#07f8f8 1.6%,#07f8f8 3.2%,#07f8f8 4.8%,#08f7f7 6.5%,#08f7f7 8.1%,#08f7f7 9.7%,#09f6f6 11.3%,#09f6f6 12.9%,#0af5f5 14.5%,#09f6f6 16.1%,#09f6f6 17.7%,#09f6f6 18.6%,#2dd2d2 18.9%,#31cece 19.4%,#3cc3c3 21.0%,#43bcbc 22.6%,#47b8b8 24.2%,#4ab5b5 25.8%,#4bb4b4 27.4%,#51aeae 29.0%,#5ba4a4 30.6%,#659a9a 32.3%,#6c9393 33.9%,#6f9090 35.5%,#708f8f 37.1%,#708f8f 38.7%,#728d8d 40.3%,#748b8b 41.9%,#748b8b 43.5%,#718e8e 45.2%,#6c9393 46.8%,#649b9b 48.4%,#58a7a7 50.0%,#48b7b7 51.6%,#36c9c9 53.2%,#23dcdc 54.8%,#12eded 56.5%,#05fafa 58.1%,#00fdff 59.7%,#03fcfc 61.3%,#1ee1e1 62.9%,#4cb3b3 64.5%,#827d7d 66.1%,#9f6060 67.7%,#bb4444 69.4%,#d72828 71.0%,#e81717 72.6%,#f00f0f 74.2%,#f90606 75.8%,#ff0000 77.4%,#ff0000 79.0%,#ff0000 80.6%,#ff0000 82.3%,#ff0000 83.9%,#ff0000 85.5%,#ff0000 87.1%,#ff0000 88.7%,#ff0000 90.3%,#ff0000 91.9%,#ff0000 93.5%,#ff0000 95.2%,#ff0000 96.8%,#fa0505 98.4%,#f40b0b 100.0%)"></i>
<i style="background:linear-gradient(90deg,#06f9f9 0.0%,#06f9f9 1.6%,#07f8f8 3.2%,#07f8f8 4.8%,#07f8f8 6.5%,#08f7f7 8.1%,#08f7f7 9.7%,#09f6f6 11.3%,#09f6f6 12.9%,#09f6f6 14.5%,#09f6f6 16.1%,#09f6f6 17.7%,#09f6f6 18.4%,#2bd4d4 18.6%,#31cece 19.4%,#3bc4c4 21.0%,#41bebe 22.6%,#44bbbb 24.2%,#48b7b7 25.8%,#4ab5b5 27.4%,#4fb0b0 29.0%,#59a6a6 30.6%,#639c9c 32.3%,#6a9595 33.9%,#6e9191 35.5%,#6f9090 37.1%,#708f8f 38.7%,#728d8d 40.3%,#738c8c 41.9%,#748b8b 43.5%,#718e8e 45.2%,#6c9393 46.8%,#649b9b 48.4%,#58a7a7 50.0%,#49b6b6 51.6%,#37c8c8 53.2%,#24dbdb 54.8%,#12eded 56.5%,#04fbfb 58.1%,#00fcff 59.7%,#05fafa 61.3%,#25dada 62.9%,#56a9a9 64.5%,#8a7575 66.1%,#a65959 67.7%,#c13e3e 69.4%,#dd2222 71.0%,#ee1111 72.6%,#f40b0b 74.2%,#fc0303 75.8%,#ff0000 77.4%,#ff0000 79.0%,#ff0000 80.6%,#ff0000 82.3%,#ff0000 83.9%,#ff0000 85.5%,#ff0000 87.1%,#ff0000 88.7%,#ff0000 90.3%,#ff0000 91.9%,#ff0000 93.5%,#ff0000 95.2%,#ff0000 96.8%,#f90606 98.4%,#f30c0c 100.0%)"></i>
<i style="background:linear-gradient(90deg,#06f9f9 0.0%,#06f9f9 1.6%,#06f9f9 3.2%,#07f8f8 4.8%,#07f8f8 6.5%,#08f7f7 8.1%,#08f7f7 9.7%,#08f7f7 11.3%,#09f6f6 12.9%,#09f6f6 14.5%,#09f6f6 16.1%,#09f6f6 17.7%,#09f6f6 18.2%,#29d6d6 18.4%,#30cfcf 19.4%,#3ac5c5 21.0%,#3ec1c1 22.6%,#41bebe 24.2%,#46b9b9 25.8%,#48b7b7 27.4%,#4eb1b1 29.0%,#57a8a8 30.6%,#619e9e 32.3%,#689797 33.9%,#6c9393 35.5%,#6d9292 37.1%,#6f9090 38.7%,#728d8d 40.3%,#738c8c 41.9%,#748b8b 43.5%,#728d8d 45.2%,#6d9292 46.8%,#659a9a 48.4%,#59a6a6 50.0%,#4ab5b5 51.6%,#38c7c7 53.2%,#25dada 54.8%,#12eded 56.5%,#03fcfc 58.1%,#00fbff 59.7%,#07f8f8 61.3%,#2dd2d2 62.9%,#619e9e 64.5%,#916e6e 66.1%,#ad5252 67.7%,#c83737 69.4%,#e21d1d 71.0%,#f30c0c 72.6%,#f90606 74.2%,#ff0000 75.8%,#ff0000 77.4%,#ff0000 79.0%,#ff0000 80.6%,#ff0000 82.3%,#ff0000 83.9%,#ff0000 85.5%,#ff0000 87.1%,#ff0000 88.7%,#ff0000 90.3%,#ff0000 91.9%,#ff0000 93.5%,#ff0000 95.2%,#ff0000 96.8%,#f80707 98.4%,#f20d0d 100.0%)"></i>
<i style="background:linear-gradient(90deg,#05fafa 0.0%,#06f9f9 1.6%,#06f9f9 3.2%,#06f9f9 4.8%,#07f8f8 6.5%,#07f8f8 8.1%,#08f7f7 9.7%,#08f7f7 11.3%,#09f6f6 12.9%,#09f6f6 14.5%,#09f6f6 16.1%,#09f6f6 17.7%,#09f6f6 17.9%,#27d8d8 18.2%,#2fd0d0 19.4%,#38c7c7 21.0%,#3bc4c4 22.6%,#3ec1c1 24.2%,#44bbbb 25.8%,#47b8b8 27.4%,#4cb3b3 29.0%,#55aaaa 30.6%,#5fa0a0 32.3%,#669999 33.9%,#6b9494 35.5%,#6c9393 37.1%,#6e9191 38.7%,#718e8e 40.3%,#738c8c 41.9%,#748b8b 43.5%,#728d8d 45.2%,#6d9292 46.8%,#669999 48.4%,#5aa5a5 50.0%,#4cb3b3 51.6%,#3ac5c5 53.2%,#26d9d9 54.8%,#13ecec 56.5%,#03fcfc 58.1%,#00faff 59.7%,#09f6f6 61.3%,#35caca 62.9%,#6b9494 64.5%,#996666 66.1%,#b54a4a 67.7%,#ce3131 69.4%,#e61919 71.0%,#f60909 72.6%,#fc0303 74.2%,#ff0000 75.8%,#ff0000 77.4%,#ff0000 79.0%,#ff0000 80.6%,#ff0000 82.3%,#ff0000 83.9%,#ff0000 85.5%,#ff0000 87.1%,#ff0000 88.7%,#ff0000 90.3%,#ff0000 91.9%,#ff0000 93.5%,#ff0000 95.2%,#fe0101 96.8%,#f80707 98.4%,#f10e0e 100.0%)"></i>
<i style="background:linear-gradient(90deg,#05fafa 0.0%,#05fafa 1.6%,#06f9f9 3.2%,#06f9f9 4.8%,#07f8f8 6.5%,#07f8f8 8.1%,#07f8f8 9.7%,#08f7f7 11.3%,#08f7f7 12.9%,#09f6f6 14.5%,#08f7f7 16.1%,#09f6f6 17.7%,#09f6f6 17.7%,#25dada 18.0%,#2ed1d1 19.4%,#36c9c9 21.0%,#39c6c6 22.6%,#3bc4c4 24.2%,#42bdbd 25.8%,#45baba 27.4%,#4ab5b5 29.0%,#53acac 30.6%,#5da2a2 32.3%,#659a9a 33.9%,#699696 35.5%,#6b9494 37.1%,#6e9191 38.7%,#718e8e 40.3%,#738c8c 41.9%,#748b8b 43.5%,#728d8d 45.2%,#6e9191 46.8%,#669999 48.4%,#5ca3a3 50.0%,#4db2b2 51.6%,#3cc3c3 53.2%,#28d7d7 54.8%,#15eaea 56.5%,#04fbfb 58.1%,#00fbff 59.7%,#0cf3f3 61.3%,#3dc2c2 62.9%,#768989 64.5%,#a15e5e 66.1%,#bc4343 67.7%,#d32c2c 69.4%,#ea1515 71.0%,#f90606 72.6%,#ff0000 74.2%,#ff0000 75.8%,#ff0000 77.4%,#ff0000 79.0%,#ff0000 80.6%,#ff0000 82.3%,#ff0000 83.9%,#ff0000 85.5%,#ff0000 87.1%,#ff0000 88.7%,#ff0000 90.3%,#ff0000 91.9%,#ff0000 93.5%,#ff0000 95.2%,#fe0101 96.8%,#f70808 98.4%,#f10e0e 100.0%)"></i>
<i style="background:linear-gradient(90deg,#05fafa 0.0%,#05fafa 1.6%,#06f9f9 3.2%,#06f9f9 4.8%,#06f9f9 6.5%,#07f8f8 8.1%,#07f8f8 9.7%,#08f7f7 11.3%,#08f7f7 12.9%,#08f7f7 14.5%,#08f7f7 16.1%,#09f6f6 17.6%,#23dcdc 17.7%,#24dbdb 17.8%,#2cd3d3 19.4%,#33cccc 21.0%,#36c9c9 22.6%,#39c6c6 24.2%,#40bfbf 25.8%,#44bbbb 27.4%,#49b6b6 29.0%,#51aeae 30.6%,#5aa5a5 32.3%,#639c9c 33.9%,#689797 35.5%,#6a9595 37.1%,#6d9292 38.7%,#718e8e 40.3%,#738c8c 41.9%,#748b8b 43.5%,#738c8c 45.2%,#6f9090 46.8%,#679898 48.4%,#5da2a2 50.0%,#4fb0b0 51.6%,#3ec1c1 53.2%,#2ad5d5 54.8%,#17e8e8 56.5%,#06f9f9 58.1%,#00fdff 59.7%,#10efef 61.3%,#46b9b9 62.9%,#817e7e 64.5%,#a95656 66.1%,#c33c3c 67.7%,#d92626 69.4%,#ed1212 71.0%,#fb0404 72.6%,#ff0000 74.2%,#ff0000 75.8%,#ff0000 77.4%,#ff0000 79.0%,#ff0000 80.6%,#ff0000 82.3%,#ff0000 83.9%,#ff0000 85.5%,#ff0000 87.1%,#ff0000 88.7%,#ff0000 90.3%,#ff0000 91.9%,#ff0000 93.5%,#ff0000 95.2%,#fe0101 96.8%,#f70808 98.4%,#f00f0f 100.0%)"></i>
<i style="background:linear-gradient(90deg,#05fafa 0.0%,#05fafa 1.6%,#05fafa 3.2%,#06f9f9 4.8%,#06f9f9 6.5%,#07f8f8 8.1%,#07f8f8 9.7%,#08f7f7 11.3%,#08f7f7 12.9%,#08f7f7 14.5%,#08f7f7 16.1%,#08f7f7 17.4%,#22dddd 17.7%,#22dddd 17.7%,#2ad5d5 19.4%,#30cfcf 21.0%,#33cccc 22.6%,#38c7c7 24.2%,#3fc0c0 25.8%,#42bdbd 27.4%,#47b8b8 29.0%,#50afaf 30.6%,#58a7a7 32.3%,#629d9d 33.9%,#679898 35.5%,#699696 37.1%,#6d9292 38.7%,#718e8e 40.3%,#748b8b 41.9%,#758a8a 43.5%,#738c8c 45.2%,#6f9090 46.8%,#699696 48.4%,#5fa0a0 50.0%,#51aeae 51.6%,#40bfbf 53.2%,#2dd2d2 54.8%,#19e6e6 56.5%,#09f6f6 58.1%,#01fefe 59.7%,#15eaea 61.3%,#50afaf 62.9%,#8c7373 64.5%,#b24d4d 66.1%,#ca3535 67.7%,#de2121 69.4%,#f00f0f 71.0%,#fd0202 72.6%,#ff0000 74.2%,#ff0000 75.8%,#ff0000 77.4%,#ff0000 79.0%,#ff0000 80.6%,#ff0000 82.3%,#ff0000 83.9%,#ff0000 85.5%,#ff0000 87.1%,#ff0000 88.7%,#ff0000 90.3%,#ff0000 91.9%,#ff0000 93.5%,#ff0000 95.2%,#fe0101 96.8%,#f60909 98.4%,#f00f0f 100.0%)"></i>
<i style="background:linear-gradient(90deg,#05fafa 0.0%,#05fafa 1.6%,#05fafa 3.2%,#06f9f9 4.8%,#06f9f9 6.5%,#06f9f9 8.1%,#07f8f8 9.7%,#07f8f8 11.3%,#08f7f7 12.9%,#08f7f7 14.5%,#08f7f7 16.1%,#08f7f7 17.3%,#20dfdf 17.5%,#20dfdf 17.7%,#28d7d7 19.4%,#2dd2d2 21.0%,#31cece 22.6%,#37c8c8 24.2%,#3ec1c1 25.8%,#40bfbf 27.4%,#45baba 29.0%,#4eb1b1 30.6%,#57a8a8 32.3%,#619e9e 33.9%,#669999 35.5%,#699696 37.1%,#6d9292 38.7%,#718e8e 40.3%,#748b8b 41.9%,#758a8a 43.5%,#748b8b 45.2%,#708f8f 46.8%,#6a9595 48.4%,#609f9f 50.0%,#54abab 51.6%,#43bcbc 53.2%,#30cfcf 54.8%,#1de2e2 56.5%,#0df2f2 58.1%,#06f9f9 59.7%,#1be4e4 61.3%,#5ba4a4 62.9%,#976868 64.5%,#ba4545 66.1%,#d12e2e 67.7%,#e31c1c 69.4%,#f30c0c 71.0%,#fe0101 72.6%,#ff0000 74.2%,#ff0000 75.8%,#ff0000 77.4%,#ff0000 79.0%,#ff0000 80.6%,#ff0000 82.3%,#ff0000 83.9%,#ff0000 85.5%,#ff0000 87.1%,#ff0000 88.7%,#ff0000 90.3%,#ff0000 91.9%,#ff0000 93.5%,#ff0000 95.2%,#fe0101 96.8%,#f60909 98.4%,#ef1010 100.0%)"></i>
<i style="background:linear-gradient(90deg,#04fbfb 0.0%,#05fafa 1.6%,#06f9f9 3.2%,#07f8f8 4.8%,#08f7f7 6.5%,#09f6f6 8.1%,#0af5f5 9.7%,#0cf3f3 11.3%,#0ff0f0 12.9%,#13ecec 14.5%,#19e6e6 16.1%,#1fe0e0 17.7%,#25dada 19.4%,#2ad5d5 21.0%,#2ed1d1 22.6%,#36c9c9 24.2%,#3dc2c2 25.8%,#3ec1c1 27.4%,#43bcbc 29.0%,#4db2b2 30.6%,#56a9a9 32.3%,#619e9e 33.9%,#669999 35.5%,#689797 37.1%,#6d9292 38.7%,#718e8e 40.3%,#748b8b 41.9%,#758a8a 43.5%,#748b8b 45.2%,#718e8e 46.8%,#6b9494 48.4%,#629d9d 50.0%,#56a9a9 51.6%,#46b9b9 53.2%,#34cbcb 54.8%,#21dede 56.5%,#12eded 58.1%,#0cf3f3 59.7%,#23dcdc 61.3%,#679898 62.9%,#a25d5d 64.5%,#c33c3c 66.1%,#d82727 67.7%,#e81717 69.4%,#f50a0a 71.0%,#ff0000 72.6%,#ff0000 74.2%,#ff0000 75.8%,#ff0000 77.4%,#ff0000 79.0%,#ff0000 80.6%,#ff0000 82.3%,#ff0000 83.9%,#ff0000 85.5%,#ff0000 87.1%,#ff0000 88.7%,#ff0000 90.3%,#ff0000 91.9%,#ff0000 93.5%,#ff0000 95.2%,#fe0101 96.8%,#f60909 98.4%,#ef1010 100.0%)"></i>
<i style="background:linear-gradient(90deg,#04fbfb 0.0%,#05fafa 1.6%,#06f9f9 3.2%,#06f9f9 4.8%,#07f8f8 6.5%,#09f6f6 8.1%,#0af5f5 9.7%,#0cf3f3 11.3%,#0ff0f0 12.9%,#13ecec 14.5%,#18e7e7 16.1%,#1de2e2 17.7%,#23dcdc 19.4%,#26d9d9 21.0%,#2bd4d4 22.6%,#35caca 24.2%,#3cc3c3 25.8%,#3cc3c3 27.4%,#41bebe 29.0%,#4cb3b3 30.6%,#57a8a8 32.3%,#609f9f 33.9%,#659a9a 35.5%,#689797 37.1%,#6d9292 38.7%,#718e8e 40.3%,#748b8b 41.9%,#768989 43.5%,#758a8a 45.2%,#728d8d 46.8%,#6c9393 48.4%,#649b9b 50.0%,#59a6a6 51.6%,#4ab5b5 53.2%,#38c7c7 54.8%,#26d9d9 56.5%,#18e7e7 58.1%,#14ebeb 59.7%,#2cd3d3 61.3%,#758a8a 62.9%,#ad5252 64.5%,#cc3333 66.1%,#df2020 67.7%,#ed1212 69.4%,#f80707 71.0%,#ff0000 72.6%,#ff0000 74.2%,#ff0000 75.8%,#ff0000 77.4%,#ff0000 79.0%,#ff0000 80.6%,#ff0000 82.3%,#ff0000 83.9%,#ff0000 85.5%,#ff0000 87.1%,#ff0000 88.7%,#ff0000 90.3%,#ff0000 91.9%,#ff0000 93.5%,#ff0000 95.2%,#fd0202 96.8%,#f50a0a 98.4%,#ee1111 100.0%)"></i>
<i style="background:linear-gradient(90deg,#04fbfb 0.0%,#05fafa 1.6%,#05fafa 3.2%,#06f9f9 4.8%,#07f8f8 6.5%,#08f7f7 8.1%,#0af5f5 9.7%,#0cf3f3 11.3%,#0ef1f1 12.9%,#12eded 14.5%,#16e9e9 16.1%,#1ce3e3 17.7%,#20dfdf 19.4%,#23dcdc 21.0%,#29d6d6 22.6%,#33cccc 24.2%,#3bc4c4 25.8%,#3ac5c5 27.4%,#3fc0c0 29.0%,#4bb4b4 30.6%,#57a8a8 32.3%,#609f9f 33.9%,#659a9a 35.5%,#689797 37.1%,#6d9292 38.7%,#728d8d 40.3%,#758a8a 41.9%,#768989 43.5%,#768989 45.2%,#738c8c 46.8%,#6e9191 48.4%,#669999 50.0%,#5ca3a3 51.6%,#4eb1b1 53.2%,#3dc2c2 54.8%,#2cd3d3 56.5%,#20dfdf 58.1%,#1fe0e0 59.7%,#38c7c7 61.3%,#857a7a 62.9%,#b84747 64.5%,#d52a2a 66.1%,#e61919 67.7%,#f20d0d 69.4%,#fb0404 71.0%,#ff0000 72.6%,#ff0000 74.2%,#ff0000 75.8%,#ff0000 77.4%,#ff0000 79.0%,#ff0000 80.6%,#ff0000 82.3%,#ff0000 83.9%,#ff0000 85.5%,#ff0000 87.1%,#ff0000 88.7%,#ff0000 90.3%,#ff0000 91.9%,#ff0000 93.5%,#ff0000 95.2%,#fd0202 96.8%,#f50a0a 98.4%,#ee1111 100.0%)"></i>
<i style="background:linear-gradient(90deg,#04fbfb 0.0%,#05fafa 1.6%,#05fafa 3.2%,#06f9f9 4.8%,#07f8f8 6.5%,#08f7f7 8.1%,#09f6f6 9.7%,#0bf4f4 11.3%,#0ef1f1 12.9%,#11eeee 14.5%,#15eaea 16.1%,#1ae5e5 17.7%,#1ee1e1 19.4%,#21dede 21.0%,#26d9d9 22.6%,#32cdcd 24.2%,#3ac5c5 25.8%,#38c7c7 27.4%,#3cc3c3 29.0%,#4ab5b5 30.6%,#57a8a8 32.3%,#5fa0a0 33.9%,#649b9b 35.5%,#689797 37.1%,#6e9191 38.7%,#728d8d 40.3%,#758a8a 41.9%,#778888 43.5%,#768989 45.2%,#748b8b 46.8%,#6f9090 48.4%,#699696 50.0%,#5fa0a0 51.6%,#52adad 53.2%,#42bdbd 54.8%,#32cdcd 56.5%,#28d7d7 58.1%,#2ad5d5 59.7%,#49b6b6 61.3%,#956a6a 62.9%,#c33c3c 64.5%,#dd2222 66.1%,#ed1212 67.7%,#f70808 69.4%,#fe0101 71.0%,#ff0000 72.6%,#ff0000 74.2%,#ff0000 75.8%,#ff0000 77.4%,#ff0000 79.0%,#ff0000 80.6%,#ff0000 82.3%,#ff0000 83.9%,#ff0000 85.5%,#ff0000 87.1%,#ff0000 88.7%,#ff0000 90.3%,#ff0000 91.9%,#ff0000 93.5%,#ff0000 95.2%,#fd0202 96.8%,#f50a0a 98.4%,#ed1212 100.0%)"></i>
<i style="background:linear-gradient(90deg,#04fbfb 0.0%,#04fbfb 1.6%,#05fafa 3.2%,#06f9f9 4.8%,#07f8f8 6.5%,#08f7f7 8.1%,#09f6f6 9.7%,#0bf4f4 11.3%,#0df2f2 12.9%,#10efef 14.5%,#14ebeb 16.1%,#18e7e7 17.7%,#1ce3e3 19.4%,#1ee1e1 21.0%,#23dcdc 22.6%,#30cfcf 24.2%,#39c6c6 25.8%,#35caca 27.4%,#3ac5c5 29.0%,#4ab5b5 30.6%,#56a9a9 32.3%,#5ea1a1 33.9%,#639c9c 35.5%,#689797 37.1%,#6e9191 38.7%,#728d8d 40.3%,#768989 41.9%,#778888 43.5%,#778888 45.2%,#758a8a 46.8%,#718e8e 48.4%,#6b9494 50.0%,#629d9d 51.6%,#56a9a9 53.2%,#47b8b8 54.8%,#39c6c6 56.5%,#31cece 58.1%,#37c8c8 59.7%,#5aa5a5 61.3%,#a35c5c 62.9%,#cd3232 64.5%,#e61919 66.1%,#f30c0c 67.7%,#fc0303 69.4%,#ff0000 71.0%,#ff0000 72.6%,#ff0000 74.2%,#ff0000 75.8%,#ff0000 77.4%,#ff0000 79.0%,#ff0000 80.6%,#ff0000 82.3%,#ff0000 83.9%,#ff0000 85.5%,#ff0000 87.1%,#ff0000 88.7%,#ff0000 90.3%,#ff0000 91.9%,#ff0000 93.5%,#ff0000 95.2%,#fc0303 96.8%,#f40b0b 98.4%,#ed1212 100.0%)"></i>
<i style="background:linear-gradient(90deg,#04fbfb 0.0%,#04fbfb 1.6%,#05fafa 3.2%,#06f9f9 4.8%,#07f8f8 6.5%,#08f7f7 8.1%,#09f6f6 9.7%,#0af5f5 11.3%,#0df2f2 12.9%,#0ff0f0 14.5%,#13ecec 16.1%,#16e9e9 17.7%,#19e6e6 19.4%,#1ce3e3 21.0%,#21dede 22.6%,#2ed1d1 24.2%,#37c8c8 25.8%,#31cece 27.4%,#38c7c7 29.0%,#49b6b6 30.6%,#56a9a9 32.3%,#5da2a2 33.9%,#629d9d 35.5%,#689797 37.1%,#6e9191 38.7%,#738c8c 40.3%,#768989 41.9%,#778888 43.5%,#778888 45.2%,#768989 46.8%,#728d8d 48.4%,#6d9292 50.0%,#659a9a 51.6%,#5aa5a5 53.2%,#4cb3b3 54.8%,#41bebe 56.5%,#3bc4c4 58.1%,#44bbbb 59.7%,#6b9494 61.3%,#ae5151 62.9%,#d62929 64.5%,#ed1212 66.1%,#fa0505 67.7%,#ff0000 69.4%,#ff0000 71.0%,#ff0000 72.6%,#ff0000 74.2%,#ff0000 75.8%,#ff0000 77.4%,#ff0000 79.0%,#ff0000 80.6%,#ff0000 82.3%,#ff0000 83.9%,#ff0000 85.5%,#ff0000 87.1%,#ff0000 88.7%,#ff0000 90.3%,#ff0000 91.9%,#ff0000 93.5%,#ff0000 95.2%,#fc0303 96.8%,#f30c0c 98.4%,#ec1313 100.0%)"></i>
<i style="background:linear-gradient(90deg,#04fbfb 0.0%,#04fbfb 1.6%,#05fafa 3.2%,#05fafa 4.8%,#06f9f9 6.5%,#07f8f8 8.1%,#09f6f6 9.7%,#0af5f5 11.3%,#0cf3f3 12.9%,#0ef1f1 14.5%,#11eeee 16.1%,#15eaea 17.7%,#18e7e7 19.4%,#1ae5e5 21.0%,#1fe0e0 22.6%,#2bd4d4 24.2%,#34cbcb 25.8%,#2ed1d1 27.4%,#36c9c9 29.0%,#49b6b6 30.6%,#55aaaa 32.3%,#5ba4a4 33.9%,#619e9e 35.5%,#689797 37.1%,#6e9191 38.7%,#738c8c 40.3%,#768989 41.9%,#788787 43.5%,#788787 45.2%,#778888 46.8%,#748b8b 48.4%,#6f9090 50.0%,#699696 51.6%,#5ea1a1 53.2%,#52adad 54.8%,#48b7b7 56.5%,#46b9b9 58.1%,#52adad 59.7%,#7a8585 61.3%,#b74848 62.9%,#de2121 64.5%,#f50a0a 66.1%,#ff0000 67.7%,#ff0000 69.4%,#ff0000 71.0%,#ff0000 72.6%,#ff0000 74.2%,#ff0000 75.8%,#ff0000 77.4%,#ff0000 79.0%,#ff0000 80.6%,#ff0000 82.3%,#ff0000 83.9%,#ff0000 85.5%,#ff0000 87.1%,#ff0000 88.7%,#ff0000 90.3%,#ff0000 91.9%,#ff0000 93.5%,#ff0000 95.2%,#fb0404 96.8%,#f30c0c 98.4%,#eb1414 100.0%)"></i>
<i style="background:linear-gradient(90deg,#03fcfc 0.0%,#04fbfb 1.6%,#05fafa 3.2%,#05fafa 4.8%,#06f9f9 6.5%,#07f8f8 8.1%,#08f7f7 9.7%,#0af5f5 11.3%,#0bf4f4 12.9%,#0ef1f1 14.5%,#10efef 16.1%,#13ecec 17.7%,#16e9e9 19.4%,#18e7e7 21.0%,#1de2e2 22.6%,#27d8d8 24.2%,#2dd2d2 25.8%,#2cd3d3 27.4%,#36c9c9 29.0%,#48b7b7 30.6%,#53acac 32.3%,#59a6a6 33.9%,#609f9f 35.5%,#679898 37.1%,#6e9191 38.7%,#738c8c 40.3%,#768989 41.9%,#788787 43.5%,#798686 45.2%,#778888 46.8%,#758a8a 48.4%,#718e8e 50.0%,#6b9494 51.6%,#639c9c 53.2%,#58a7a7 54.8%,#50afaf 56.5%,#50afaf 58.1%,#5fa0a0 59.7%,#887777 61.3%,#c03f3f 62.9%,#e61919 64.5%,#fc0303 66.1%,#ff0000 67.7%,#ff0000 69.4%,#ff0000 71.0%,#ff0000 72.6%,#ff0000 74.2%,#ff0000 75.8%,#ff0000 77.4%,#ff0000 79.0%,#ff0000 80.6%,#ff0000 82.3%,#ff0000 83.9%,#ff0000 85.5%,#ff0000 87.1%,#ff0000 88.7%,#ff0000 90.3%,#ff0000 91.9%,#ff0000 93.5%,#ff0000 95.2%,#fa0505 96.8%,#f20d0d 98.4%,#ea1515 100.0%)"></i>
<i style="background:linear-gradient(90deg,#03fcfc 0.0%,#04fbfb 1.6%,#04fbfb 3.2%,#05fafa 4.8%,#06f9f9 6.5%,#07f8f8 8.1%,#08f7f7 9.7%,#09f6f6 11.3%,#0bf4f4 12.9%,#0df2f2 14.5%,#0ff0f0 16.1%,#12eded 17.7%,#14ebeb 19.4%,#17e8e8 21.0%,#1be4e4 22.6%,#23dcdc 24.2%,#27d8d8 25.8%,#2ad5d5 27.4%,#37c8c8 29.0%,#47b8b8 30.6%,#51aeae 32.3%,#57a8a8 33.9%,#5ea1a1 35.5%,#669999 37.1%,#6e9191 38.7%,#738c8c 40.3%,#778888 41.9%,#788787 43.5%,#798686 45.2%,#788787 46.8%,#768989 48.4%,#738c8c 50.0%,#6e9191 51.6%,#679898 53.2%,#5ea1a1 54.8%,#58a7a7 56.5%,#5ba4a4 58.1%,#6c9393 59.7%,#946b6b 61.3%,#c83737 62.9%,#ed1212 64.5%,#ff0000 66.1%,#ff0000 67.7%,#ff0000 69.4%,#ff0000 71.0%,#ff0000 72.6%,#ff0000 74.2%,#ff0000 75.8%,#ff0000 77.4%,#ff0000 79.0%,#ff0000 80.6%,#ff0000 82.3%,#ff0000 83.9%,#ff0000 85.5%,#ff0000 87.1%,#ff0000 88.7%,#ff0000 90.3%,#ff0000 91.9%,#ff0000 93.5%,#ff0000 95.2%,#f90606 96.8%,#f10e0e 98.4%,#e91616 100.0%)"></i>
<i style="background:linear-gradient(90deg,#03fcfc 0.0%,#04fbfb 1.6%,#04fbfb 3.2%,#05fafa 4.8%,#06f9f9 6.5%,#06f9f9 8.1%,#07f8f8 9.7%,#09f6f6 11.3%,#0af5f5 12.9%,#0cf3f3 14.5%,#0ef1f1 16.1%,#10efef 17.7%,#13ecec 19.4%,#16e9e9 21.0%,#19e6e6 22.6%,#20dfdf 24.2%,#24dbdb 25.8%,#2ad5d5 27.4%,#39c6c6 29.0%,#46b9b9 30.6%,#4eb1b1 32.3%,#55aaaa 33.9%,#5ca3a3 35.5%,#669999 37.1%,#6e9191 38.7%,#738c8c 40.3%,#778888 41.9%,#798686 43.5%,#798686 45.2%,#798686 46.8%,#778888 48.4%,#758a8a 50.0%,#718e8e 51.6%,#6b9494 53.2%,#639c9c 54.8%,#609f9f 56.5%,#659a9a 58.1%,#788787 59.7%,#9f6060 61.3%,#cf3030 62.9%,#f30c0c 64.5%,#ff0000 66.1%,#ff0000 67.7%,#ff0000 69.4%,#ff0000 71.0%,#ff0000 72.6%,#ff0000 74.2%,#ff0000 75.8%,#ff0000 77.4%,#ff0000 79.0%,#ff0000 80.6%,#ff0000 82.3%,#ff0000 83.9%,#ff0000 85.5%,#ff0000 87.1%,#ff0000 88.7%,#ff0000 90.3%,#ff0000 91.9%,#ff0000 93.5%,#ff0000 95.2%,#f80707 96.8%,#f00f0f 98.4%,#e81717 100.0%)"></i>
<i style="background:linear-gradient(90deg,#03fcfc 0.0%,#04fbfb 1.6%,#04fbfb 3.2%,#05fafa 4.8%,#05fafa 6.5%,#06f9f9 8.1%,#07f8f8 9.7%,#08f7f7 11.3%,#09f6f6 12.9%,#0bf4f4 14.5%,#0df2f2 16.1%,#0ff0f0 17.7%,#12eded 19.4%,#15eaea 21.0%,#18e7e7 22.6%,#1ce3e3 24.2%,#21dede 25.8%,#2ad5d5 27.4%,#3bc4c4 29.0%,#44bbbb 30.6%,#4bb4b4 32.3%,#52adad 33.9%,#5ba4a4 35.5%,#659a9a 37.1%,#6d9292 38.7%,#738c8c 40.3%,#778888 41.9%,#798686 43.5%,#7a8585 45.2%,#798686 46.8%,#788787 48.4%,#768989 50.0%,#738c8c 51.6%,#6e9191 53.2%,#699696 54.8%,#689797 56.5%,#6f9090 58.1%,#847b7b 59.7%,#a95656 61.3%,#d62929 62.9%,#f90606 64.5%,#ff0000 66.1%,#ff0000 67.7%,#ff0000 69.4%,#ff0000 71.0%,#ff0000 72.6%,#ff0000 74.2%,#ff0000 75.8%,#ff0000 77.4%,#ff0000 79.0%,#ff0000 80.6%,#ff0000 82.3%,#ff0000 83.9%,#ff0000 85.5%,#ff0000 87.1%,#ff0000 88.7%,#ff0000 90.3%,#ff0000 91.9%,#ff0000 93.5%,#ff0000 95.2%,#f60909 96.8%,#ee1111 98.4%,#e71818 100.0%)"></i>
<i style="background:linear-gradient(90deg,#03fcfc 0.0%,#03fcfc 1.6%,#04fbfb 3.2%,#05fafa 4.8%,#05fafa 6.5%,#06f9f9 8.1%,#07f8f8 9.7%,#08f7f7 11.3%,#09f6f6 12.9%,#0af5f5 14.5%,#0bf4f4 16.1%,#0ef1f1 17.7%,#11eeee 19.4%,#15eaea 21.0%,#17e8e8 22.6%,#1ae5e5 24.2%,#20dfdf 25.8%,#2ad5d5 27.4%,#3bc4c4 29.0%,#42bdbd 30.6%,#48b7b7 32.3%,#50afaf 33.9%,#59a6a6 35.5%,#649b9b 37.1%,#6d9292 38.7%,#738c8c 40.3%,#778888 41.9%,#798686 43.5%,#7a8585 45.2%,#7a8585 46.8%,#798686 48.4%,#788787 50.0%,#758a8a 51.6%,#728d8d 53.2%,#6f9090 54.8%,#6f9090 56.5%,#798686 58.1%,#8f7070 59.7%,#b34c4c 61.3%,#dc2323 62.9%,#fe0101 64.5%,#ff0000 66.1%,#ff0000 67.7%,#ff0000 69.4%,#ff0000 71.0%,#ff0000 72.6%,#ff0000 74.2%,#ff0000 75.8%,#ff0000 77.4%,#ff0000 79.0%,#ff0000 80.6%,#ff0000 82.3%,#ff0000 83.9%,#ff0000 85.5%,#ff0000 87.1%,#ff0000 88.7%,#ff0000 90.3%,#ff0000 91.9%,#ff0000 93.5%,#fe0101 95.2%,#f50a0a 96.8%,#ed1212 98.4%,#e61919 100.0%)"></i>
<i style="background:linear-gradient(90deg,#03fcfc 0.0%,#03fcfc 1.6%,#04fbfb 3.2%,#04fbfb 4.8%,#05fafa 6.5%,#06f9f9 8.1%,#06f9f9 9.7%,#07f8f8 11.3%,#08f7f7 12.9%,#09f6f6 14.5%,#0af5f5 16.1%,#0cf3f3 17.7%,#10efef 19.4%,#14ebeb 21.0%,#17e8e8 22.6%,#19e6e6 24.2%,#20dfdf 25.8%,#2ad5d5 27.4%,#39c6c6 29.0%,#3ec1c1 30.6%,#45baba 32.3%,#4db2b2 33.9%,#57a8a8 35.5%,#639c9c 37.1%,#6c9393 38.7%,#738c8c 40.3%,#768989 41.9%,#798686 43.5%,#7a8585 45.2%,#7a8585 46.8%,#7a8585 48.4%,#798686 50.0%,#788787 51.6%,#758a8a 53.2%,#748b8b 54.8%,#778888 56.5%,#827d7d 58.1%,#986767 59.7%,#bb4444 61.3%,#e21d1d 62.9%,#ff0000 64.5%,#ff0000 66.1%,#ff0000 67.7%,#ff0000 69.4%,#ff0000 71.0%,#ff0000 72.6%,#ff0000 74.2%,#ff0000 75.8%,#ff0000 77.4%,#ff0000 79.0%,#ff0000 80.6%,#ff0000 82.3%,#ff0000 83.9%,#ff0000 85.5%,#ff0000 87.1%,#ff0000 88.7%,#ff0000 90.3%,#ff0000 91.9%,#ff0000 93.5%,#fc0303 95.2%,#f30c0c 96.8%,#eb1414 98.4%,#e41b1b 100.0%)"></i>
<i style="background:linear-gradient(90deg,#03fcfc 0.0%,#03fcfc 1.6%,#04fbfb 3.2%,#04fbfb 4.8%,#05fafa 6.5%,#05fafa 8.1%,#06f9f9 9.7%,#07f8f8 11.3%,#07f8f8 12.9%,#08f7f7 14.5%,#09f6f6 16.1%,#0bf4f4 17.7%,#0ff0f0 19.4%,#14ebeb 21.0%,#18e7e7 22.6%,#19e6e6 24.2%,#20dfdf 25.8%,#2ad5d5 27.4%,#36c9c9 29.0%,#3bc4c4 30.6%,#41bebe 32.3%,#4ab5b5 33.9%,#55aaaa 35.5%,#629d9d 37.1%,#6c9393 38.7%,#728d8d 40.3%,#768989 41.9%,#798686 43.5%,#7a8585 45.2%,#7b8484 46.8%,#7b8484 48.4%,#7a8585 50.0%,#7a8585 51.6%,#798686 53.2%,#798686 54.8%,#7d8282 56.5%,#8a7575 58.1%,#a15e5e 59.7%,#c33c3c 61.3%,#e71818 62.9%,#ff0000 64.5%,#ff0000 66.1%,#ff0000 67.7%,#ff0000 69.4%,#ff0000 71.0%,#ff0000 72.6%,#ff0000 74.2%,#ff0000 75.8%,#ff0000 77.4%,#ff0000 79.0%,#ff0000 80.6%,#ff0000 82.3%,#ff0000 83.9%,#ff0000 85.5%,#ff0000 87.1%,#ff0000 88.7%,#ff0000 90.3%,#ff0000 91.9%,#ff0000 93.5%,#fa0505 95.2%,#f10e0e 96.8%,#e91616 98.4%,#e21d1d 100.0%)"></i>
<i style="background:linear-gradient(90deg,#03fcfc 0.0%,#03fcfc 1.6%,#03fcfc 3.2%,#04fbfb 4.8%,#05fafa 6.5%,#05fafa 8.1%,#06f9f9 9.7%,#06f9f9 11.3%,#07f8f8 12.9%,#07f8f8 14.5%,#09f6f6 16.1%,#0af5f5 17.7%,#0ef1f1 19.4%,#14ebeb 21.0%,#19e6e6 22.6%,#1ae5e5 24.2%,#20dfdf 25.8%,#29d6d6 27.4%,#33cccc 29.0%,#37c8c8 30.6%,#3ec1c1 32.3%,#48b7b7 33.9%,#53acac 35.5%,#619e9e 37.1%,#6b9494 38.7%,#728d8d 40.3%,#768989 41.9%,#788787 43.5%,#7a8585 45.2%,#7b8484 46.8%,#7b8484 48.4%,#7b8484 50.0%,#7b8484 51.6%,#7c8383 53.2%,#7e8181 54.8%,#847b7b 56.5%,#926d6d 58.1%,#aa5555 59.7%,#ca3535 61.3%,#eb1414 62.9%,#ff0000 64.5%,#ff0000 66.1%,#ff0000 67.7%,#ff0000 69.4%,#ff0000 71.0%,#ff0000 72.6%,#ff0000 74.2%,#ff0000 75.8%,#ff0000 77.4%,#ff0000 79.0%,#ff0000 80.6%,#ff0000 82.3%,#ff0000 83.9%,#ff0000 85.5%,#ff0000 87.1%,#ff0000 88.7%,#ff0000 90.3%,#ff0000 91.9%,#ff0000 93.5%,#f80707 95.2%,#ef1010 96.8%,#e71818 98.4%,#e11e1e 100.0%)"></i>
<i style="background:linear-gradient(90deg,#02fdfd 0.0%,#03fcfc 1.6%,#03fcfc 3.2%,#04fbfb 4.8%,#04fbfb 6.5%,#05fafa 8.1%,#05fafa 9.7%,#06f9f9 11.3%,#06f9f9 12.9%,#07f8f8 14.5%,#08f7f7 16.1%,#09f6f6 17.7%,#0df2f2 19.4%,#13ecec 21.0%,#1ae5e5 22.6%,#1be4e4 24.2%,#21dede 25.8%,#29d6d6 27.4%,#30cfcf 29.0%,#33cccc 30.6%,#3bc4c4 32.3%,#46b9b9 33.9%,#52adad 35.5%,#609f9f 37.1%,#6a9595 38.7%,#718e8e 40.3%,#758a8a 41.9%,#788787 43.5%,#7a8585 45.2%,#7b8484 46.8%,#7c8383 48.4%,#7c8383 50.0%,#7d8282 51.6%,#7e8181 53.2%,#827d7d 54.8%,#8a7575 56.5%,#996666 58.1%,#b14e4e 59.7%,#d02f2f 61.3%,#ef1010 62.9%,#ff0000 64.5%,#ff0000 66.1%,#ff0000 67.7%,#ff0000 69.4%,#ff0000 71.0%,#ff0000 72.6%,#ff0000 74.2%,#ff0000 75.8%,#ff0000 77.4%,#ff0000 79.0%,#ff0000 80.6%,#ff0000 82.3%,#ff0000 83.9%,#ff0000 85.5%,#ff0000 87.1%,#ff0000 88.7%,#ff0000 90.3%,#ff0000 91.9%,#ff0000 93.5%,#f50a0a 95.2%,#ec1313 96.8%,#e51a1a 98.4%,#de2121 100.0%)"></i>
<i style="background:linear-gradient(90deg,#02fdfd 0.0%,#03fcfc 1.6%,#03fcfc 3.2%,#04fbfb 4.8%,#04fbfb 6.5%,#05fafa 8.1%,#05fafa 9.7%,#05fafa 11.3%,#06f9f9 12.9%,#06f9f9 14.5%,#07f8f8 16.1%,#09f6f6 17.7%,#0cf3f3 19.4%,#13ecec 21.0%,#19e6e6 22.6%,#1be4e4 24.2%,#21dede 25.8%,#28d7d7 27.4%,#2ed1d1 29.0%,#31cece 30.6%,#39c6c6 32.3%,#45baba 33.9%,#52adad 35.5%,#5fa0a0 37.1%,#699696 38.7%,#708f8f 40.3%,#748b8b 41.9%,#778888 43.5%,#798686 45.2%,#7b8484 46.8%,#7c8383 48.4%,#7d8282 50.0%,#7f8080 51.6%,#817e7e 53.2%,#867979 54.8%,#906f6f 56.5%,#a05f5f 58.1%,#b84747 59.7%,#d52a2a 61.3%,#f20d0d 62.9%,#ff0000 64.5%,#ff0000 66.1%,#ff0000 67.7%,#ff0000 69.4%,#ff0000 71.0%,#ff0000 72.6%,#ff0000 74.2%,#ff0000 75.8%,#ff0000 77.4%,#ff0000 79.0%,#ff0000 80.6%,#ff0000 82.3%,#ff0000 83.9%,#ff0000 85.5%,#ff0000 87.1%,#ff0000 88.7%,#ff0000 90.3%,#ff0000 91.9%,#fc0303 93.5%,#f30c0c 95.2%,#ea1515 96.8%,#e21d1d 98.4%,#dc2323 100.0%)"></i>
<i style="background:linear-gradient(90deg,#02fdfd 0.0%,#03fcfc 1.6%,#03fcfc 3.2%,#03fcfc 4.8%,#04fbfb 6.5%,#04fbfb 8.1%,#05fafa 9.7%,#05fafa 11.3%,#05fafa 12.9%,#05fafa 14.5%,#06f9f9 16.1%,#08f7f7 17.7%,#0bf4f4 19.4%,#12eded 21.0%,#19e6e6 22.6%,#1ce3e3 24.2%,#22dddd 25.8%,#27d8d8 27.4%,#2cd3d3 29.0%,#2fd0d0 30.6%,#37c8c8 32.3%,#43bcbc 33.9%,#51aeae 35.5%,#5ea1a1 37.1%,#689797 38.7%,#6f9090 40.3%,#748b8b 41.9%,#778888 43.5%,#798686 45.2%,#7a8585 46.8%,#7c8383 48.4%,#7d8282 50.0%,#807f7f 51.6%,#837c7c 53.2%,#8a7575 54.8%,#956a6a 56.5%,#a65959 58.1%,#be4141 59.7%,#da2525 61.3%,#f50a0a 62.9%,#ff0000 64.5%,#ff0000 66.1%,#ff0000 67.7%,#ff0000 69.4%,#ff0000 71.0%,#ff0000 72.6%,#ff0000 74.2%,#ff0000 75.8%,#ff0000 77.4%,#ff0000 79.0%,#ff0000 80.6%,#ff0000 82.3%,#ff0000 83.9%,#ff0000 85.5%,#ff0000 87.1%,#ff0000 88.7%,#ff0000 90.3%,#ff0000 91.9%,#f90606 93.5%,#f00f0f 95.2%,#e71818 96.8%,#e01f1f 98.4%,#da2525 100.0%)"></i>
<i style="background:linear-gradient(90deg,#02fdfd 0.0%,#02fdfd 1.6%,#03fcfc 3.2%,#03fcfc 4.8%,#04fbfb 6.5%,#04fbfb 8.1%,#04fbfb 9.7%,#04fbfb 11.3%,#04fbfb 12.9%,#05fafa 14.5%,#05fafa 16.1%,#07f8f8 17.7%,#0bf4f4 19.4%,#11eeee 21.0%,#18e7e7 22.6%,#1ce3e3 24.2%,#22dddd 25.8%,#26d9d9 27.4%,#2ad5d5 29.0%,#2dd2d2 30.6%,#35caca 32.3%,#43bcbc 33.9%,#51aeae 35.5%,#5ea1a1 37.1%,#679898 38.7%,#6e9191 40.3%,#738c8c 41.9%,#768989 43.5%,#788787 45.2%,#7a8585 46.8%,#7c8383 48.4%,#7e8181 50.0%,#817e7e 51.6%,#867979 53.2%,#8d7272 54.8%,#996666 56.5%,#ab5454 58.1%,#c33c3c 59.7%,#de2121 61.3%,#f70808 62.9%,#ff0000 64.5%,#ff0000 66.1%,#ff0000 67.7%,#ff0000 69.4%,#ff0000 71.0%,#ff0000 72.6%,#ff0000 74.2%,#ff0000 75.8%,#ff0000 77.4%,#ff0000 79.0%,#ff0000 80.6%,#ff0000 82.3%,#ff0000 83.9%,#ff0000 85.5%,#ff0000 87.1%,#ff0000 88.7%,#ff0000 90.3%,#fd0202 91.9%,#f60909 93.5%,#ed1212 95.2%,#e41b1b 96.8%,#dd2222 98.4%,#d82727 100.0%)"></i>
<i style="background:linear-gradient(90deg,#02fdfd 0.0%,#02fdfd 1.6%,#03fcfc 3.2%,#03fcfc 4.8%,#03fcfc 6.5%,#04fbfb 8.1%,#04fbfb 9.7%,#04fbfb 11.3%,#04fbfb 12.9%,#04fbfb 14.5%,#05fafa 16.1%,#06f9f9 17.7%,#0af5f5 19.4%,#10efef 21.0%,#17e8e8 22.6%,#1ce3e3 24.2%,#21dede 25.8%,#25dada 27.4%,#28d7d7 29.0%,#2cd3d3 30.6%,#34cbcb 32.3%,#42bdbd 33.9%,#51aeae 35.5%,#5da2a2 37.1%,#669999 38.7%,#6d9292 40.3%,#728d8d 41.9%,#758a8a 43.5%,#778888 45.2%,#798686 46.8%,#7b8484 48.4%,#7e8181 50.0%,#827d7d 51.6%,#877878 53.2%,#906f6f 54.8%,#9d6262 56.5%,#b04f4f 58.1%,#c83737 59.7%,#e21d1d 61.3%,#f90606 62.9%,#ff0000 64.5%,#ff0000 66.1%,#ff0000 67.7%,#ff0000 69.4%,#ff0000 71.0%,#ff0000 72.6%,#ff0000 74.2%,#ff0000 75.8%,#ff0000 77.4%,#ff0000 79.0%,#ff0000 80.6%,#ff0000 82.3%,#ff0000 83.9%,#fe0101 85.5%,#fe0101 87.1%,#fe0101 88.7%,#fd0202 90.3%,#f90606 91.9%,#f30c0c 93.5%,#ea1515 95.2%,#e11e1e 96.8%,#da2525 98.4%,#d62929 100.0%)"></i>
<i style="background:linear-gradient(90deg,#02fdfd 0.0%,#02fdfd 1.6%,#03fcfc 3.2%,#03fcfc 4.8%,#03fcfc 6.5%,#04fbfb 8.1%,#04fbfb 9.7%,#04fbfb 11.3%,#04fbfb 12.9%,#04fbfb 14.5%,#04fbfb 16.1%,#06f9f9 17.7%,#09f6f6 19.4%,#0ff0f0 21.0%,#16e9e9 22.6%,#1ce3e3 24.2%,#21dede 25.8%,#24dbdb 27.4%,#27d8d8 29.0%,#2bd4d4 30.6%,#33cccc 32.3%,#42bdbd 33.9%,#51aeae 35.5%,#5ca3a3 37.1%,#659a9a 38.7%,#6c9393 40.3%,#718e8e 41.9%,#748b8b 43.5%,#778888 45.2%,#798686 46.8%,#7b8484 48.4%,#7e8181 50.0%,#827d7d 51.6%,#897676 53.2%,#926d6d 54.8%,#a05f5f 56.5%,#b44b4b 58.1%,#cc3333 59.7%,#e51a1a 61.3%,#fa0505 62.9%,#ff0000 64.5%,#ff0000 66.1%,#ff0000 67.7%,#ff0000 69.4%,#ff0000 71.0%,#ff0000 72.6%,#ff0000 74.2%,#ff0000 75.8%,#ff0000 77.4%,#ff0000 79.0%,#ff0000 80.6%,#ff0000 82.3%,#fc0303 83.9%,#fa0505 85.5%,#fa0505 87.1%,#fa0505 88.7%,#f90606 90.3%,#f60909 91.9%,#ef1010 93.5%,#e71818 95.2%,#de2121 96.8%,#d82727 98.4%,#d32c2c 100.0%)"></i>
<i style="background:linear-gradient(90deg,#02fdfd 0.0%,#02fdfd 1.6%,#02fdfd 3.2%,#03fcfc 4.8%,#03fcfc 6.5%,#03fcfc 8.1%,#04fbfb 9.7%,#03fcfc 11.3%,#03fcfc 12.9%,#03fcfc 14.5%,#04fbfb 16.1%,#05fafa 17.7%,#08f7f7 19.4%,#0ef1f1 21.0%,#15eaea 22.6%,#1be4e4 24.2%,#20dfdf 25.8%,#23dcdc 27.4%,#26d9d9 29.0%,#2ad5d5 30.6%,#33cccc 32.3%,#42bdbd 33.9%,#51aeae 35.5%,#5ca3a3 37.1%,#649b9b 38.7%,#6b9494 40.3%,#708f8f 41.9%,#738c8c 43.5%,#768989 45.2%,#788787 46.8%,#7a8585 48.4%,#7e8181 50.0%,#837c7c 51.6%,#8a7575 53.2%,#946b6b 54.8%,#a35c5c 56.5%,#b74848 58.1%,#cf3030 59.7%,#e71818 61.3%,#fb0404 62.9%,#ff0000 64.5%,#ff0000 66.1%,#ff0000 67.7%,#ff0000 69.4%,#ff0000 71.0%,#ff0000 72.6%,#ff0000 74.2%,#ff0000 75.8%,#ff0000 77.4%,#ff0000 79.0%,#ff0000 80.6%,#fc0303 82.3%,#f90606 83.9%,#f70808 85.5%,#f60909 87.1%,#f60909 88.7%,#f50a0a 90.3%,#f20d0d 91.9%,#eb1414 93.5%,#e31c1c 95.2%,#db2424 96.8%,#d52a2a 98.4%,#d12e2e 100.0%)"></i>
<i style="background:linear-gradient(90deg,#02fdfd 0.0%,#02fdfd 1.6%,#02fdfd 3.2%,#03fcfc 4.8%,#03fcfc 6.5%,#03fcfc 8.1%,#03fcfc 9.7%,#03fcfc 11.3%,#03fcfc 12.9%,#03fcfc 14.5%,#03fcfc 16.1%,#05fafa 17.7%,#08f7f7 19.4%,#0df2f2 21.0%,#14ebeb 22.6%,#1ae5e5 24.2%,#1fe0e0 25.8%,#22dddd 27.4%,#25dada 29.0%,#2ad5d5 30.6%,#33cccc 32.3%,#43bcbc 33.9%,#51aeae 35.5%,#5ba4a4 37.1%,#639c9c 38.7%,#6a9595 40.3%,#6f9090 41.9%,#728d8d 43.5%,#748b8b 45.2%,#778888 46.8%,#798686 48.4%,#7d8282 50.0%,#837c7c 51.6%,#8b7474 53.2%,#966969 54.8%,#a65959 56.5%,#ba4545 58.1%,#d22d2d 59.7%,#e91616 61.3%,#fc0303 62.9%,#ff0000 64.5%,#ff0000 66.1%,#ff0000 67.7%,#ff0000 69.4%,#ff0000 71.0%,#ff0000 72.6%,#ff0000 74.2%,#ff0000 75.8%,#ff0000 77.4%,#ff0000 79.0%,#fc0303 80.6%,#f90606 82.3%,#f60909 83.9%,#f30c0c 85.5%,#f10e0e 87.1%,#f10e0e 88.7%,#f10e0e 90.3%,#ee1111 91.9%,#e81717 93.5%,#e01f1f 95.2%,#d82727 96.8%,#d22d2d 98.4%,#cf3030 100.0%)"></i>
<i style="background:linear-gradient(90deg,#02fdfd 0.0%,#02fdfd 1.6%,#02fdfd 3.2%,#02fdfd 4.8%,#03fcfc 6.5%,#03fcfc 8.1%,#03fcfc 9.7%,#03fcfc 11.3%,#02fdfd 12.9%,#02fdfd 14.5%,#03fcfc 16.1%,#04fbfb 17.7%,#07f8f8 19.4%,#0df2f2 21.0%,#13ecec 22.6%,#19e6e6 24.2%,#1ee1e1 25.8%,#21dede 27.4%,#24dbdb 29.0%,#29d6d6 30.6%,#33cccc 32.3%,#44bbbb 33.9%,#51aeae 35.5%,#5ba4a4 37.1%,#629d9d 38.7%,#699696 40.3%,#6e9191 41.9%,#718e8e 43.5%,#738c8c 45.2%,#758a8a 46.8%,#788787 48.4%,#7c8383 50.0%,#837c7c 51.6%,#8b7474 53.2%,#976868 54.8%,#a75858 56.5%,#bc4343 58.1%,#d32c2c 59.7%,#ea1515 61.3%,#fc0303 62.9%,#ff0000 64.5%,#ff0000 66.1%,#ff0000 67.7%,#ff0000 69.4%,#ff0000 71.0%,#ff0000 72.6%,#ff0000 74.2%,#ff0000 75.8%,#ff0000 77.4%,#fd0202 79.0%,#fa0505 80.6%,#f60909 82.3%,#f30c0c 83.9%,#ef1010 85.5%,#ed1212 87.1%,#ed1212 88.7%,#ed1212 90.3%,#ea1515 91.9%,#e41b1b 93.5%,#dc2323 95.2%,#d52a2a 96.8%,#d02f2f 98.4%,#cd3232 100.0%)"></i>
<i style="background:linear-gradient(90deg,#01fefe 0.0%,#02fdfd 1.6%,#02fdfd 3.2%,#02fdfd 4.8%,#02fdfd 6.5%,#03fcfc 8.1%,#03fcfc 9.7%,#02fdfd 11.3%,#02fdfd 12.9%,#02fdfd 14.5%,#03fcfc 16.1%,#04fbfb 17.7%,#07f8f8 19.4%,#0cf3f3 21.0%,#13ecec 22.6%,#18e7e7 24.2%,#1de2e2 25.8%,#20dfdf 27.4%,#23dcdc 29.0%,#28d7d7 30.6%,#33cccc 32.3%,#44bbbb 33.9%,#50afaf 35.5%,#5aa5a5 37.1%,#629d9d 38.7%,#689797 40.3%,#6c9393 41.9%,#6f9090 43.5%,#728d8d 45.2%,#748b8b 46.8%,#778888 48.4%,#7c8383 50.0%,#827d7d 51.6%,#8b7474 53.2%,#986767 54.8%,#a95656 56.5%,#bd4242 58.1%,#d52a2a 59.7%,#eb1414 61.3%,#fc0303 62.9%,#ff0000 64.5%,#ff0000 66.1%,#ff0000 67.7%,#ff0000 69.4%,#ff0000 71.0%,#ff0000 72.6%,#ff0000 74.2%,#ff0000 75.8%,#ff0000 77.4%,#fb0404 79.0%,#f70808 80.6%,#f40b0b 82.3%,#f00f0f 83.9%,#ec1313 85.5%,#e91616 87.1%,#e91616 88.7%,#e91616 90.3%,#e61919 91.9%,#e11e1e 93.5%,#d92626 95.2%,#d22d2d 96.8%,#cd3232 98.4%,#cb3434 100.0%)"></i>
<i style="background:linear-gradient(90deg,#01fefe 0.0%,#02fdfd 1.6%,#02fdfd 3.2%,#02fdfd 4.8%,#02fdfd 6.5%,#02fdfd 8.1%,#02fdfd 9.7%,#02fdfd 11.3%,#02fdfd 12.9%,#02fdfd 14.5%,#02fdfd 16.1%,#04fbfb 17.7%,#07f8f8 19.4%,#0cf3f3 21.0%,#12eded 22.6%,#18e7e7 24.2%,#1ce3e3 25.8%,#1fe0e0 27.4%,#22dddd 29.0%,#28d7d7 30.6%,#33cccc 32.3%,#43bcbc 33.9%,#4fb0b0 35.5%,#59a6a6 37.1%,#619e9e 38.7%,#679898 40.3%,#6b9494 41.9%,#6e9191 43.5%,#708f8f 45.2%,#728d8d 46.8%,#758a8a 48.4%,#7a8585 50.0%,#817e7e 51.6%,#8b7474 53.2%,#986767 54.8%,#a95656 56.5%,#be4141 58.1%,#d52a2a 59.7%,#eb1414 61.3%,#fc0303 62.9%,#ff0000 64.5%,#ff0000 66.1%,#ff0000 67.7%,#ff0000 69.4%,#ff0000 71.0%,#ff0000 72.6%,#ff0000 74.2%,#ff0000 75.8%,#fd0202 77.4%,#f80707 79.0%,#f50a0a 80.6%,#f10e0e 82.3%,#ed1212 83.9%,#e81717 85.5%,#e51a1a 87.1%,#e51a1a 88.7%,#e51a1a 90.3%,#e21d1d 91.9%,#dd2222 93.5%,#d62929 95.2%,#cf3030 96.8%,#cb3434 98.4%,#c93636 100.0%)"></i>
<i style="background:linear-gradient(90deg,#01fefe 0.0%,#01fefe 1.6%,#02fdfd 3.2%,#02fdfd 4.8%,#02fdfd 6.5%,#02fdfd 8.1%,#02fdfd 9.7%,#02fdfd 11.3%,#02fdfd 12.9%,#02fdfd 14.5%,#02fdfd 16.1%,#03fcfc 17.7%,#06f9f9 19.4%,#0bf4f4 21.0%,#11eeee 22.6%,#17e8e8 24.2%,#1be4e4 25.8%,#1ee1e1 27.4%,#22dddd 29.0%,#27d8d8 30.6%,#32cdcd 32.3%,#41bebe 33.9%,#4eb1b1 35.5%,#58a7a7 37.1%,#609f9f 38.7%,#659a9a 40.3%,#6a9595 41.9%,#6c9393 43.5%,#6e9191 45.2%,#708f8f 46.8%,#748b8b 48.4%,#798686 50.0%,#807f7f 51.6%,#8b7474 53.2%,#986767 54.8%,#aa5555 56.5%,#be4141 58.1%,#d52a2a 59.7%,#ea1515 61.3%,#fc0303 62.9%,#ff0000 64.5%,#ff0000 66.1%,#ff0000 67.7%,#ff0000 69.4%,#ff0000 71.0%,#ff0000 72.6%,#ff0000 74.2%,#ff0000 75.8%,#fb0404 77.4%,#f60909 79.0%,#f20d0d 80.6%,#ee1111 82.3%,#ea1515 83.9%,#e51a1a 85.5%,#e11e1e 87.1%,#e11e1e 88.7%,#e11e1e 90.3%,#df2020 91.9%,#da2525 93.5%,#d32c2c 95.2%,#cd3232 96.8%,#c93636 98.4%,#c73838 100.0%)"></i>
<i style="background:linear-gradient(90deg,#01fefe 0.0%,#01fefe 1.6%,#02fdfd 3.2%,#02fdfd 4.8%,#02fdfd 6.5%,#02fdfd 8.1%,#02fdfd 9.7%,#02fdfd 11.3%,#01fefe 12.9%,#01fefe 14.5%,#02fdfd 16.1%,#03fcfc 17.7%,#06f9f9 19.4%,#0bf4f4 21.0%,#11eeee 22.6%,#16e9e9 24.2%,#1ae5e5 25.8%,#1de2e2 27.4%,#21dede 29.0%,#26d9d9 30.6%,#31cece 32.3%,#40bfbf 33.9%,#4cb3b3 35.5%,#56a9a9 37.1%,#5ea1a1 38.7%,#649b9b 40.3%,#689797 41.9%,#6a9595 43.5%,#6c9393 45.2%,#6e9191 46.8%,#728d8d 48.4%,#778888 50.0%,#7f8080 51.6%,#8a7575 53.2%,#986767 54.8%,#a95656 56.5%,#be4141 58.1%,#d42b2b 59.7%,#e91616 61.3%,#fb0404 62.9%,#ff0000 64.5%,#ff0000 66.1%,#ff0000 67.7%,#ff0000 69.4%,#ff0000 71.0%,#ff0000 72.6%,#ff0000 74.2%,#ff0000 75.8%,#f80707 77.4%,#f40b0b 79.0%,#f00f0f 80.6%,#ec1313 82.3%,#e71818 83.9%,#e21d1d 85.5%,#de2121 87.1%,#de2121 88.7%,#de2121 90.3%,#db2424 91.9%,#d72828 93.5%,#d12e2e 95.2%,#cb3434 96.8%,#c73838 98.4%,#c63939 100.0%)"></i>
<i style="background:linear-gradient(90deg,#01fefe 0.0%,#01fefe 1.6%,#01fefe 3.2%,#02fdfd 4.8%,#02fdfd 6.5%,#02fdfd 8.1%,#02fdfd 9.7%,#01fefe 11.3%,#01fefe 12.9%,#01fefe 14.5%,#02fdfd 16.1%,#03fcfc 17.7%,#06f9f9 19.4%,#0bf4f4 21.0%,#10efef 22.6%,#15eaea 24.2%,#19e6e6 25.8%,#1de2e2 27.4%,#20dfdf 29.0%,#26d9d9 30.6%,#30cfcf 32.3%,#3ec1c1 33.9%,#4ab5b5 35.5%,#54abab 37.1%,#5da2a2 38.7%,#629d9d 40.3%,#669999 41.9%,#689797 43.5%,#6a9595 45.2%,#6c9393 46.8%,#708f8f 48.4%,#768989 50.0%,#7e8181 51.6%,#897676 53.2%,#976868 54.8%,#a95656 56.5%,#bd4242 58.1%,#d32c2c 59.7%,#e81717 61.3%,#fa0505 62.9%,#ff0000 64.5%,#ff0000 66.1%,#ff0000 67.7%,#ff0000 69.4%,#ff0000 71.0%,#ff0000 72.6%,#ff0000 74.2%,#fe0101 75.8%,#f70808 77.4%,#f20d0d 79.0%,#ee1111 80.6%,#e91616 82.3%,#e51a1a 83.9%,#df2020 85.5%,#db2424 87.1%,#db2424 88.7%,#da2525 90.3%,#d82727 91.9%,#d42b2b 93.5%,#ce3131 95.2%,#c93636 96.8%,#c63939 98.4%,#c43b3b 100.0%)"></i>
<i style="background:linear-gradient(90deg,#01fefe 0.0%,#01fefe 1.6%,#01fefe 3.2%,#01fefe 4.8%,#01fefe 6.5%,#01fefe 8.1%,#01fefe 9.7%,#01fefe 11.3%,#01fefe 12.9%,#01fefe 14.5%,#02fdfd 16.1%,#03fcfc 17.7%,#06f9f9 19.4%,#0af5f5 21.0%,#0ff0f0 22.6%,#14ebeb 24.2%,#19e6e6 25.8%,#1ce3e3 27.4%,#1fe0e0 29.0%,#25dada 30.6%,#2fd0d0 32.3%,#3cc3c3 33.9%,#48b7b7 35.5%,#52adad 37.1%,#5ba4a4 38.7%,#609f9f 40.3%,#649b9b 41.9%,#669999 43.5%,#679898 45.2%,#6a9595 46.8%,#6e9191 48.4%,#748b8b 50.0%,#7c8383 51.6%,#877878 53.2%,#966969 54.8%,#a85757 56.5%,#bc4343 58.1%,#d22d2d 59.7%,#e71818 61.3%,#f90606 62.9%,#ff0000 64.5%,#ff0000 66.1%,#ff0000 67.7%,#ff0000 69.4%,#ff0000 71.0%,#ff0000 72.6%,#ff0000 74.2%,#fc0303 75.8%,#f50a0a 77.4%,#f00f0f 79.0%,#eb1414 80.6%,#e71818 82.3%,#e21d1d 83.9%,#dd2222 85.5%,#d92626 87.1%,#d82727 88.7%,#d72828 90.3%,#d52a2a 91.9%,#d12e2e 93.5%,#cc3333 95.2%,#c73838 96.8%,#c53a3a 98.4%,#c33c3c 100.0%)"></i>
<i style="background:linear-gradient(90deg,#01fefe 0.0%,#01fefe 1.6%,#01fefe 3.2%,#01fefe 4.8%,#01fefe 6.5%,#01fefe 8.1%,#01fefe 9.7%,#01fefe 11.3%,#01fefe 12.9%,#01fefe 14.5%,#02fdfd 16.1%,#03fcfc 17.7%,#06f9f9 19.4%,#0af5f5 21.0%,#0ff0f0 22.6%,#14ebeb 24.2%,#18e7e7 25.8%,#1be4e4 27.4%,#1fe0e0 29.0%,#24dbdb 30.6%,#2ed1d1 32.3%,#3ac5c5 33.9%,#46b9b9 35.5%,#50afaf 37.1%,#58a7a7 38.7%,#5ea1a1 40.3%,#629d9d 41.9%,#649b9b 43.5%,#659a9a 45.2%,#679898 46.8%,#6b9494 48.4%,#718e8e 50.0%,#7a8585 51.6%,#867979 53.2%,#946b6b 54.8%,#a65959 56.5%,#bb4444 58.1%,#d02f2f 59.7%,#e51a1a 61.3%,#f70808 62.9%,#ff0000 64.5%,#ff0000 66.1%,#ff0000 67.7%,#ff0000 69.4%,#ff0000 71.0%,#ff0000 72.6%,#ff0000 74.2%,#f90606 75.8%,#f30c0c 77.4%,#ee1111 79.0%,#e91616 80.6%,#e51a1a 82.3%,#e01f1f 83.9%,#db2424 85.5%,#d72828 87.1%,#d52a2a 88.7%,#d42b2b 90.3%,#d22d2d 91.9%,#cf3030 93.5%,#ca3535 95.2%,#c63939 96.8%,#c43b3b 98.4%,#c33c3c 100.0%)"></i>
<i style="background:linear-gradient(90deg,#01fefe 0.0%,#01fefe 1.6%,#01fefe 3.2%,#01fefe 4.8%,#01fefe 6.5%,#01fefe 8.1%,#01fefe 9.7%,#01fefe 11.3%,#01fefe 12.9%,#01fefe 14.5%,#02fdfd 16.1%,#03fcfc 17.7%,#06f9f9 19.4%,#0af5f5 21.0%,#0ff0f0 22.6%,#13ecec 24.2%,#17e8e8 25.8%,#1be4e4 27.4%,#1ee1e1 29.0%,#23dcdc 30.6%,#2cd3d3 32.3%,#38c7c7 33.9%,#44bbbb 35.5%,#4eb1b1 37.1%,#56a9a9 38.7%,#5ca3a3 40.3%,#609f9f 41.9%,#619e9e 43.5%,#629d9d 45.2%,#649b9b 46.8%,#699696 48.4%,#6f9090 50.0%,#788787 51.6%,#847b7b 53.2%,#936c6c 54.8%,#a55a5a 56.5%,#b94646 58.1%,#ce3131 59.7%,#e31c1c 61.3%,#f50a0a 62.9%,#ff0000 64.5%,#ff0000 66.1%,#ff0000 67.7%,#ff0000 69.4%,#ff0000 71.0%,#ff0000 72.6%,#fe0101 74.2%,#f70808 75.8%,#f10e0e 77.4%,#ec1313 79.0%,#e71818 80.6%,#e31c1c 82.3%,#de2121 83.9%,#d82727 85.5%,#d42b2b 87.1%,#d32c2c 88.7%,#d12e2e 90.3%,#d02f2f 91.9%,#cc3333 93.5%,#c83737 95.2%,#c53a3a 96.8%,#c33c3c 98.4%,#c23d3d 100.0%)"></i>
<i style="background:linear-gradient(90deg,#01fefe 0.0%,#01fefe 1.6%,#01fefe 3.2%,#01fefe 4.8%,#01fefe 6.5%,#01fefe 8.1%,#01fefe 9.7%,#00ffff 11.3%,#00ffff 12.9%,#01fefe 14.5%,#02fdfd 16.1%,#03fcfc 17.7%,#06f9f9 19.4%,#0af5f5 21.0%,#0ef1f1 22.6%,#13ecec 24.2%,#17e8e8 25.8%,#1ae5e5 27.4%,#1ee1e1 29.0%,#22dddd 30.6%,#2bd4d4 32.3%,#36c9c9 33.9%,#41bebe 35.5%,#4bb4b4 37.1%,#53acac 38.7%,#59a6a6 40.3%,#5da2a2 41.9%,#5ea1a1 43.5%,#5fa0a0 45.2%,#619e9e 46.8%,#669999 48.4%,#6c9393 50.0%,#758a8a 51.6%,#817e7e 53.2%,#906f6f 54.8%,#a25d5d 56.5%,#b74848 58.1%,#cc3333 59.7%,#e11e1e 61.3%,#f30c0c 62.9%,#ff0000 64.5%,#ff0000 66.1%,#ff0000 67.7%,#ff0000 69.4%,#ff0000 71.0%,#ff0000 72.6%,#fc0303 74.2%,#f50a0a 75.8%,#ef1010 77.4%,#ea1515 79.0%,#e51a1a 80.6%,#e11e1e 82.3%,#dc2323 83.9%,#d62929 85.5%,#d22d2d 87.1%,#d02f2f 88.7%,#cf3030 90.3%,#cd3232 91.9%,#ca3535 93.5%,#c73838 95.2%,#c43b3b 96.8%,#c23d3d 98.4%,#c13e3e 100.0%)"></i>
<i style="background:linear-gradient(90deg,#01fefe 0.0%,#01fefe 1.6%,#01fefe 3.2%,#01fefe 4.8%,#01fefe 6.5%,#01fefe 8.1%,#00ffff 9.7%,#00ffff 11.3%,#00ffff 12.9%,#01fefe 14.5%,#02fdfd 16.1%,#03fcfc 17.7%,#06f9f9 19.4%,#0af5f5 21.0%,#0ef1f1 22.6%,#12eded 24.2%,#16e9e9 25.8%,#1ae5e5 27.4%,#1de2e2 29.0%,#22dddd 30.6%,#2ad5d5 32.3%,#35caca 33.9%,#3fc0c0 35.5%,#49b6b6 37.1%,#51aeae 38.7%,#56a9a9 40.3%,#5aa5a5 41.9%,#5ba4a4 43.5%,#5ca3a3 45.2%,#5ea1a1 46.8%,#639c9c 48.4%,#6a9595 50.0%,#738c8c 51.6%,#7f8080 53.2%,#8e7171 54.8%,#a05f5f 56.5%,#b44b4b 58.1%,#c93636 59.7%,#de2121 61.3%,#f10e0e 62.9%,#ff0000 64.5%,#ff0000 66.1%,#ff0000 67.7%,#ff0000 69.4%,#ff0000 71.0%,#ff0000 72.6%,#f90606 74.2%,#f30c0c 75.8%,#ee1111 77.4%,#e81717 79.0%,#e31c1c 80.6%,#df2020 82.3%,#da2525 83.9%,#d52a2a 85.5%,#d02f2f 87.1%,#ce3131 88.7%,#cd3232 90.3%,#cb3434 91.9%,#c83737 93.5%,#c53a3a 95.2%,#c23d3d 96.8%,#c13e3e 98.4%,#c13e3e 100.0%)"></i>
<i style="background:linear-gradient(90deg,#01fefe 0.0%,#01fefe 1.6%,#01fefe 3.2%,#01fefe 4.8%,#01fefe 6.5%,#00ffff 8.1%,#00ffff 9.7%,#00ffff 11.3%,#00ffff 12.9%,#01fefe 14.5%,#02fdfd 16.1%,#03fcfc 17.7%,#06f9f9 19.4%,#09f6f6 21.0%,#0ef1f1 22.6%,#12eded 24.2%,#16e9e9 25.8%,#19e6e6 27.4%,#1de2e2 29.0%,#21dede 30.6%,#29d6d6 32.3%,#33cccc 33.9%,#3dc2c2 35.5%,#46b9b9 37.1%,#4eb1b1 38.7%,#53acac 40.3%,#57a8a8 41.9%,#57a8a8 43.5%,#58a7a7 45.2%,#5ba4a4 46.8%,#609f9f 48.4%,#679898 50.0%,#708f8f 51.6%,#7c8383 53.2%,#8b7474 54.8%,#9d6262 56.5%,#b14e4e 58.1%,#c63939 59.7%,#db2424 61.3%,#ee1111 62.9%,#ff0000 64.5%,#ff0000 66.1%,#ff0000 67.7%,#ff0000 69.4%,#ff0000 71.0%,#fc0303 72.6%,#f70808 74.2%,#f20d0d 75.8%,#ec1313 77.4%,#e71818 79.0%,#e11e1e 80.6%,#dc2323 82.3%,#d82727 83.9%,#d32c2c 85.5%,#cf3030 87.1%,#cc3333 88.7%,#ca3535 90.3%,#c93636 91.9%,#c63939 93.5%,#c43b3b 95.2%,#c23d3d 96.8%,#c13e3e 98.4%,#c03f3f 100.0%)"></i>
<i style="background:linear-gradient(90deg,#01fefe 0.0%,#01fefe 1.6%,#01fefe 3.2%,#01fefe 4.8%,#00ffff 6.5%,#00ffff 8.1%,#00ffff 9.7%,#00ffff 11.3%,#00ffff 12.9%,#01fefe 14.5%,#02fdfd 16.1%,#03fcfc 17.7%,#06f9f9 19.4%,#09f6f6 21.0%,#0df2f2 22.6%,#11eeee 24.2%,#15eaea 25.8%,#19e6e6 27.4%,#1ce3e3 29.0%,#21dede 30.6%,#28d7d7 32.3%,#31cece 33.9%,#3bc4c4 35.5%,#43bcbc 37.1%,#4bb4b4 38.7%,#50afaf 40.3%,#53acac 41.9%,#54abab 43.5%,#55aaaa 45.2%,#58a7a7 46.8%,#5da2a2 48.4%,#649b9b 50.0%,#6d9292 51.6%,#798686 53.2%,#897676 54.8%,#9a6565 56.5%,#ae5151 58.1%,#c33c3c 59.7%,#d82727 61.3%,#eb1414 62.9%,#fc0303 64.5%,#ff0000 66.1%,#ff0000 67.7%,#ff0000 69.4%,#ff0000 71.0%,#fa0505 72.6%,#f50a0a 74.2%,#f00f0f 75.8%,#ea1515 77.4%,#e51a1a 79.0%,#df2020 80.6%,#da2525 82.3%,#d62929 83.9%,#d12e2e 85.5%,#cd3232 87.1%,#ca3535 88.7%,#c83737 90.3%,#c73838 91.9%,#c43b3b 93.5%,#c23d3d 95.2%,#c13e3e 96.8%,#c03f3f 98.4%,#c03f3f 100.0%)"></i>
<i style="background:linear-gradient(90deg,#00ffff 0.0%,#01fefe 1.6%,#01fefe 3.2%,#00ffff 4.8%,#00ffff 6.5%,#00ffff 8.1%,#00ffff 9.7%,#00ffff 11.3%,#00ffff 12.9%,#01fefe 14.5%,#02fdfd 16.1%,#03fcfc 17.7%,#06f9f9 19.4%,#09f6f6 21.0%,#0df2f2 22.6%,#11eeee 24.2%,#15eaea 25.8%,#19e6e6 27.4%,#1ce3e3 29.0%,#20dfdf 30.6%,#27d8d8 32.3%,#30cfcf 33.9%,#38c7c7 35.5%,#41bebe 37.1%,#48b7b7 38.7%,#4cb3b3 40.3%,#4fb0b0 41.9%,#50afaf 43.5%,#51aeae 45.2%,#55aaaa 46.8%,#5aa5a5 48.4%,#619e9e 50.0%,#6a9595 51.6%,#768989 53.2%,#857a7a 54.8%,#976868 56.5%,#ab5454 58.1%,#c03f3f 59.7%,#d42b2b 61.3%,#e81717 62.9%,#f90606 64.5%,#ff0000 66.1%,#ff0000 67.7%,#ff0000 69.4%,#fd0202 71.0%,#f70808 72.6%,#f20d0d 74.2%,#ed1212 75.8%,#e81717 77.4%,#e31c1c 79.0%,#dd2222 80.6%,#d82727 82.3%,#d42b2b 83.9%,#cf3030 85.5%,#cb3434 87.1%,#c83737 88.7%,#c63939 90.3%,#c53a3a 91.9%,#c33c3c 93.5%,#c13e3e 95.2%,#c03f3f 96.8%,#bf4040 98.4%,#bf4040 100.0%)"></i>
<i style="background:linear-gradient(90deg,#00ffff 0.0%,#00ffff 1.6%,#00ffff 3.2%,#00ffff 4.8%,#00ffff 6.5%,#00ffff 8.1%,#00ffff 9.7%,#00ffff 11.3%,#00ffff 12.9%,#01fefe 14.5%,#02fdfd 16.1%,#03fcfc 17.7%,#06f9f9 19.4%,#09f6f6 21.0%,#0df2f2 22.6%,#11eeee 24.2%,#15eaea 25.8%,#18e7e7 27.4%,#1ce3e3 29.0%,#20dfdf 30.6%,#26d9d9 32.3%,#2ed1d1 33.9%,#36c9c9 35.5%,#3ec1c1 37.1%,#44bbbb 38.7%,#49b6b6 40.3%,#4bb4b4 41.9%,#4bb4b4 43.5%,#4db2b2 45.2%,#51aeae 46.8%,#56a9a9 48.4%,#5da2a2 50.0%,#679898 51.6%,#738c8c 53.2%,#827d7d 54.8%,#946b6b 56.5%,#a75858 58.1%,#bc4343 59.7%,#d12e2e 61.3%,#e51a1a 62.9%,#f60909 64.5%,#ff0000 66.1%,#ff0000 67.7%,#ff0000 69.4%,#fb0404 71.0%,#f50a0a 72.6%,#f00f0f 74.2%,#eb1414 75.8%,#e71818 77.4%,#e11e1e 79.0%,#db2424 80.6%,#d62929 82.3%,#d22d2d 83.9%,#cd3232 85.5%,#c93636 87.1%,#c63939 88.7%,#c43b3b 90.3%,#c33c3c 91.9%,#c13e3e 93.5%,#c03f3f 95.2%,#bf4040 96.8%,#bf4040 98.4%,#bf4040 100.0%)"></i>
<i style="background:linear-gradient(90deg,#00ffff 0.0%,#00ffff 1.6%,#00ffff 3.2%,#00ffff 4.8%,#00ffff 6.5%,#00ffff 8.1%,#00ffff 9.7%,#00ffff 11.3%,#00ffff 12.9%,#01fefe 14.5%,#02fdfd 16.1%,#03fcfc 17.7%,#06f9f9 19.4%,#09f6f6 21.0%,#0df2f2 22.6%,#10efef 24.2%,#14ebeb 25.8%,#18e7e7 27.4%,#1ce3e3 29.0%,#20dfdf 30.6%,#25dada 32.3%,#2dd2d2 33.9%,#35caca 35.5%,#3cc3c3 37.1%,#41bebe 38.7%,#45baba 40.3%,#46b9b9 41.9%,#47b8b8 43.5%,#4ab5b5 45.2%,#4eb1b1 46.8%,#53acac 48.4%,#5aa5a5 50.0%,#649b9b 51.6%,#708f8f 53.2%,#7f8080 54.8%,#906f6f 56.5%,#a35c5c 58.1%,#b84747 59.7%,#cd3232 61.3%,#e11e1e 62.9%,#f30c0c 64.5%,#ff0000 66.1%,#ff0000 67.7%,#ff0000 69.4%,#f90606 71.0%,#f30c0c 72.6%,#ee1111 74.2%,#e91616 75.8%,#e41b1b 77.4%,#df2020 79.0%,#d92626 80.6%,#d42b2b 82.3%,#d02f2f 83.9%,#cb3434 85.5%,#c73838 87.1%,#c53a3a 88.7%,#c33c3c 90.3%,#c13e3e 91.9%,#c03f3f 93.5%,#be4141 95.2%,#be4141 96.8%,#be4141 98.4%,#be4141 100.0%)"></i>
<i style="background:linear-gradient(90deg,#00ffff 0.0%,#00ffff 1.6%,#00ffff 3.2%,#00ffff 4.8%,#00ffff 6.5%,#00ffff 8.1%,#00ffff 9.7%,#00ffff 11.3%,#00ffff 12.9%,#01fefe 14.5%,#02fdfd 16.1%,#03fcfc 17.7%,#06f9f9 19.4%,#09f6f6 21.0%,#0cf3f3 22.6%,#10efef 24.2%,#14ebeb 25.8%,#18e7e7 27.4%,#1be4e4 29.0%,#1fe0e0 30.6%,#25dada 32.3%,#2bd4d4 33.9%,#33cccc 35.5%,#39c6c6 37.1%,#3ec1c1 38.7%,#41bebe 40.3%,#41bebe 41.9%,#43bcbc 43.5%,#46b9b9 45.2%,#4ab5b5 46.8%,#50afaf 48.4%,#57a8a8 50.0%,#609f9f 51.6%,#6c9393 53.2%,#7b8484 54.8%,#8c7373 56.5%,#a05f5f 58.1%,#b44b4b 59.7%,#c83737 61.3%,#dd2222 62.9%,#ef1010 64.5%,#fd0202 66.1%,#ff0000 67.7%,#ff0000 69.4%,#f80707 71.0%,#f10e0e 72.6%,#ec1313 74.2%,#e71818 75.8%,#e21d1d 77.4%,#dc2323 79.0%,#d72828 80.6%,#d22d2d 82.3%,#cd3232 83.9%,#c93636 85.5%,#c63939 87.1%,#c33c3c 88.7%,#c13e3e 90.3%,#bf4040 91.9%,#be4141 93.5%,#bd4242 95.2%,#bd4242 96.8%,#bd4242 98.4%,#bd4242 100.0%)"></i>
<i style="background:linear-gradient(90deg,#00ffff 0.0%,#00ffff 1.6%,#00ffff 3.2%,#00ffff 4.8%,#00ffff 6.5%,#00ffff 8.1%,#00ffff 9.7%,#00ffff 11.3%,#00ffff 12.9%,#01fefe 14.5%,#02fdfd 16.1%,#03fcfc 17.7%,#06f9f9 19.4%,#09f6f6 21.0%,#0cf3f3 22.6%,#10efef 24.2%,#13ecec 25.8%,#17e8e8 27.4%,#1be4e4 29.0%,#1fe0e0 30.6%,#24dbdb 32.3%,#2ad5d5 33.9%,#31cece 35.5%,#37c8c8 37.1%,#3cc3c3 38.7%,#3dc2c2 40.3%,#3dc2c2 41.9%,#3ec1c1 43.5%,#42bdbd 45.2%,#47b8b8 46.8%,#4db2b2 48.4%,#54abab 50.0%,#5da2a2 51.6%,#699696 53.2%,#788787 54.8%,#897676 56.5%,#9b6464 58.1%,#af5050 59.7%,#c43b3b 61.3%,#d82727 62.9%,#eb1414 64.5%,#fa0505 66.1%,#ff0000 67.7%,#ff0000 69.4%,#f60909 71.0%,#ef1010 72.6%,#ea1515 74.2%,#e51a1a 75.8%,#e01f1f 77.4%,#da2525 79.0%,#d42b2b 80.6%,#cf3030 82.3%,#cb3434 83.9%,#c73838 85.5%,#c43b3b 87.1%,#c13e3e 88.7%,#bf4040 90.3%,#be4141 91.9%,#bd4242 93.5%,#bc4343 95.2%,#bc4343 96.8%,#bc4343 98.4%,#bc4343 100.0%)"></i>
<i style="background:linear-gradient(90deg,#00ffff 0.0%,#00ffff 1.6%,#00ffff 3.2%,#00ffff 4.8%,#00ffff 6.5%,#00ffff 8.1%,#00ffff 9.7%,#00ffff 11.3%,#00ffff 12.9%,#01fefe 14.5%,#02fdfd 16.1%,#04fbfb 17.7%,#06f9f9 19.4%,#09f6f6 21.0%,#0cf3f3 22.6%,#0ff0f0 24.2%,#13ecec 25.8%,#17e8e8 27.4%,#1ae5e5 29.0%,#1ee1e1 30.6%,#23dcdc 32.3%,#29d6d6 33.9%,#2fd0d0 35.5%,#35caca 37.1%,#39c6c6 38.7%,#3ac5c5 40.3%,#38c7c7 41.9%,#3ac5c5 43.5%,#3fc0c0 45.2%,#44bbbb 46.8%,#49b6b6 48.4%,#50afaf 50.0%,#59a6a6 51.6%,#659a9a 53.2%,#748b8b 54.8%,#857a7a 56.5%,#976868 58.1%,#ab5454 59.7%,#bf4040 61.3%,#d42b2b 62.9%,#e71818 64.5%,#f60909 66.1%,#fe0101 67.7%,#fd0202 69.4%,#f50a0a 71.0%,#ed1212 72.6%,#e81717 74.2%,#e21d1d 75.8%,#dd2222 77.4%,#d82727 79.0%,#d22d2d 80.6%,#cd3232 82.3%,#c93636 83.9%,#c53a3a 85.5%,#c23d3d 87.1%,#bf4040 88.7%,#be4141 90.3%,#bc4343 91.9%,#bb4444 93.5%,#bb4444 95.2%,#bb4444 96.8%,#bb4444 98.4%,#bb4444 100.0%)"></i>
<i style="background:linear-gradient(90deg,#00ffff 0.0%,#00ffff 1.6%,#00ffff 3.2%,#00ffff 4.8%,#00ffff 6.5%,#00ffff 8.1%,#00feff 9.7%,#00ffff 11.3%,#00ffff 12.9%,#01fefe 14.5%,#02fdfd 16.1%,#04fbfb 17.7%,#06f9f9 19.4%,#09f6f6 21.0%,#0cf3f3 22.6%,#0ff0f0 24.2%,#13ecec 25.8%,#16e9e9 27.4%,#1ae5e5 29.0%,#1de2e2 30.6%,#22dddd 32.3%,#28d7d7 33.9%,#2dd2d2 35.5%,#33cccc 37.1%,#36c9c9 38.7%,#37c8c8 40.3%,#35caca 41.9%,#37c8c8 43.5%,#3bc4c4 45.2%,#41bebe 46.8%,#46b9b9 48.4%,#4db2b2 50.0%,#56a9a9 51.6%,#629d9d 53.2%,#708f8f 54.8%,#817e7e 56.5%,#936c6c 58.1%,#a65959 59.7%,#ba4545 61.3%,#cf3030 62.9%,#e31c1c 64.5%,#f30c0c 66.1%,#fb0404 67.7%,#fb0404 69.4%,#f30c0c 71.0%,#ec1313 72.6%,#e51a1a 74.2%,#e01f1f 75.8%,#db2424 77.4%,#d52a2a 79.0%,#cf3030 80.6%,#ca3535 82.3%,#c63939 83.9%,#c33c3c 85.5%,#c03f3f 87.1%,#be4141 88.7%,#bc4343 90.3%,#bb4444 91.9%,#ba4545 93.5%,#b94646 95.2%,#b94646 96.8%,#ba4545 98.4%,#ba4545 100.0%)"></i>
<i style="background:linear-gradient(90deg,#00ffff 0.0%,#00ffff 1.6%,#00ffff 3.2%,#00ffff 4.8%,#00ffff 6.5%,#00feff 8.1%,#00feff 9.7%,#00feff 11.3%,#00ffff 12.9%,#01fefe 14.5%,#02fdfd 16.1%,#04fbfb 17.7%,#06f9f9 19.4%,#09f6f6 21.0%,#0bf4f4 22.6%,#0ff0f0 24.2%,#12eded 25.8%,#16e9e9 27.4%,#19e6e6 29.0%,#1de2e2 30.6%,#21dede 32.3%,#26d9d9 33.9%,#2cd3d3 35.5%,#31cece 37.1%,#34cbcb 38.7%,#34cbcb 40.3%,#32cdcd 41.9%,#34cbcb 43.5%,#38c7c7 45.2%,#3ec1c1 46.8%,#43bcbc 48.4%,#4ab5b5 50.0%,#53acac 51.6%,#5ea1a1 53.2%,#6c9393 54.8%,#7d8282 56.5%,#8e7171 58.1%,#a15e5e 59.7%,#b54a4a 61.3%,#ca3535 62.9%,#de2121 64.5%,#ef1010 66.1%,#f80707 67.7%,#f80707 69.4%,#f20d0d 71.0%,#ea1515 72.6%,#e31c1c 74.2%,#de2121 75.8%,#d82727 77.4%,#d22d2d 79.0%,#cc3333 80.6%,#c73838 82.3%,#c43b3b 83.9%,#c13e3e 85.5%,#be4141 87.1%,#bc4343 88.7%,#ba4545 90.3%,#b94646 91.9%,#b84747 93.5%,#b84747 95.2%,#b84747 96.8%,#b94646 98.4%,#b94646 100.0%)"></i>
<i style="background:linear-gradient(90deg,#00ffff 0.0%,#00ffff 1.6%,#00ffff 3.2%,#00ffff 4.8%,#00ffff 6.5%,#00feff 8.1%,#00feff 9.7%,#00feff 11.3%,#00ffff 12.9%,#00ffff 14.5%,#02fdfd 16.1%,#04fbfb 17.7%,#06f9f9 19.4%,#08f7f7 21.0%,#0bf4f4 22.6%,#0ef1f1 24.2%,#12eded 25.8%,#15eaea 27.4%,#19e6e6 29.0%,#1ce3e3 30.6%,#21dede 32.3%,#25dada 33.9%,#2ad5d5 35.5%,#2fd0d0 37.1%,#32cdcd 38.7%,#32cdcd 40.3%,#30cfcf 41.9%,#31cece 43.5%,#36c9c9 45.2%,#3bc4c4 46.8%,#40bfbf 48.4%,#47b8b8 50.0%,#4fb0b0 51.6%,#5ba4a4 53.2%,#699696 54.8%,#788787 56.5%,#8a7575 58.1%,#9c6363 59.7%,#b04f4f 61.3%,#c53a3a 62.9%,#d92626 64.5%,#eb1414 66.1%,#f50a0a 67.7%,#f60909 69.4%,#f00f0f 71.0%,#e81717 72.6%,#e11e1e 74.2%,#db2424 75.8%,#d52a2a 77.4%,#cf3030 79.0%,#c93636 80.6%,#c53a3a 82.3%,#c13e3e 83.9%,#bf4040 85.5%,#bc4343 87.1%,#ba4545 88.7%,#b94646 90.3%,#b84747 91.9%,#b74848 93.5%,#b74848 95.2%,#b74848 96.8%,#b74848 98.4%,#b74848 100.0%)"></i>
<i style="background:linear-gradient(90deg,#00ffff 0.0%,#00ffff 1.6%,#00ffff 3.2%,#00ffff 4.8%,#00ffff 6.5%,#00feff 8.1%,#00feff 9.7%,#00feff 11.3%,#00ffff 12.9%,#00ffff 14.5%,#02fdfd 16.1%,#03fcfc 17.7%,#06f9f9 19.4%,#08f7f7 21.0%,#0bf4f4 22.6%,#0ef1f1 24.2%,#11eeee 25.8%,#15eaea 27.4%,#18e7e7 29.0%,#1ce3e3 30.6%,#20dfdf 32.3%,#24dbdb 33.9%,#29d6d6 35.5%,#2dd2d2 37.1%,#30cfcf 38.7%,#30cfcf 40.3%,#2ed1d1 41.9%,#2fd0d0 43.5%,#33cccc 45.2%,#38c7c7 46.8%,#3ec1c1 48.4%,#44bbbb 50.0%,#4cb3b3 51.6%,#57a8a8 53.2%,#659a9a 54.8%,#748b8b 56.5%,#857a7a 58.1%,#976868 59.7%,#ab5454 61.3%,#c03f3f 62.9%,#d52a2a 64.5%,#e71818 66.1%,#f20d0d 67.7%,#f40b0b 69.4%,#ee1111 71.0%,#e61919 72.6%,#df2020 74.2%,#d82727 75.8%,#d32c2c 77.4%,#cc3333 79.0%,#c63939 80.6%,#c23d3d 82.3%,#bf4040 83.9%,#bc4343 85.5%,#ba4545 87.1%,#b94646 88.7%,#b74848 90.3%,#b64949 91.9%,#b64949 93.5%,#b54a4a 95.2%,#b64949 96.8%,#b64949 98.4%,#b64949 100.0%)"></i>
<i style="background:linear-gradient(90deg,#00ffff 0.0%,#00ffff 1.6%,#00ffff 3.2%,#00ffff 4.8%,#00feff 6.5%,#00feff 8.1%,#00feff 9.7%,#00feff 11.3%,#00ffff 12.9%,#00ffff 14.5%,#02fdfd 16.1%,#03fcfc 17.7%,#06f9f9 19.4%,#08f7f7 21.0%,#0bf4f4 22.6%,#0ef1f1 24.2%,#11eeee 25.8%,#14ebeb 27.4%,#18e7e7 29.0%,#1be4e4 30.6%,#1fe0e0 32.3%,#23dcdc 33.9%,#28d7d7 35.5%,#2cd3d3 37.1%,#2ed1d1 38.7%,#2ed1d1 40.3%,#2cd3d3 41.9%,#2dd2d2 43.5%,#31cece 45.2%,#36c9c9 46.8%,#3bc4c4 48.4%,#41bebe 50.0%,#49b6b6 51.6%,#54abab 53.2%,#619e9e 54.8%,#708f8f 56.5%,#817e7e 58.1%,#926d6d 59.7%,#a65959 61.3%,#ba4545 62.9%,#d02f2f 64.5%,#e21d1d 66.1%,#ef1010 67.7%,#f20d0d 69.4%,#ec1313 71.0%,#e31c1c 72.6%,#dc2323 74.2%,#d62929 75.8%,#d02f2f 77.4%,#c93636 79.0%,#c33c3c 80.6%,#bf4040 82.3%,#bc4343 83.9%,#ba4545 85.5%,#b84747 87.1%,#b74848 88.7%,#b64949 90.3%,#b54a4a 91.9%,#b44b4b 93.5%,#b44b4b 95.2%,#b44b4b 96.8%,#b54a4a 98.4%,#b54a4a 100.0%)"></i>
<i style="background:linear-gradient(90deg,#00ffff 0.0%,#00ffff 1.6%,#00ffff 3.2%,#00ffff 4.8%,#00feff 6.5%,#00feff 8.1%,#00feff 9.7%,#00feff 11.3%,#00ffff 12.9%,#00ffff 14.5%,#02fdfd 16.1%,#03fcfc 17.7%,#06f9f9 19.4%,#08f7f7 21.0%,#0af5f5 22.6%,#0df2f2 24.2%,#10efef 25.8%,#14ebeb 27.4%,#17e8e8 29.0%,#1be4e4 30.6%,#1fe0e0 32.3%,#22dddd 33.9%,#26d9d9 35.5%,#2ad5d5 37.1%,#2dd2d2 38.7%,#2dd2d2 40.3%,#2bd4d4 41.9%,#2cd3d3 43.5%,#2fd0d0 45.2%,#34cbcb 46.8%,#39c6c6 48.4%,#3fc0c0 50.0%,#46b9b9 51.6%,#51aeae 53.2%,#5ea1a1 54.8%,#6c9393 56.5%,#7c8383 58.1%,#8d7272 59.7%,#a05f5f 61.3%,#b54a4a 62.9%,#cb3434 64.5%,#de2121 66.1%,#ec1313 67.7%,#f00f0f 69.4%,#ea1515 71.0%,#e11e1e 72.6%,#da2525 74.2%,#d32c2c 75.8%,#cd3232 77.4%,#c63939 79.0%,#c03f3f 80.6%,#bc4343 82.3%,#b94646 83.9%,#b84747 85.5%,#b64949 87.1%,#b54a4a 88.7%,#b44b4b 90.3%,#b34c4c 91.9%,#b34c4c 93.5%,#b34c4c 95.2%,#b34c4c 96.8%,#b34c4c 98.4%,#b44b4b 100.0%)"></i>
<i style="background:linear-gradient(90deg,#00ffff 0.0%,#00ffff 1.6%,#00ffff 3.2%,#00ffff 4.8%,#00feff 6.5%,#00feff 8.1%,#00feff 9.7%,#00feff 11.3%,#00ffff 12.9%,#00ffff 14.5%,#02fdfd 16.1%,#03fcfc 17.7%,#05fafa 19.4%,#08f7f7 21.0%,#0af5f5 22.6%,#0df2f2 24.2%,#10efef 25.8%,#13ecec 27.4%,#16e9e9 29.0%,#1ae5e5 30.6%,#1ee1e1 32.3%,#22dddd 33.9%,#25dada 35.5%,#29d6d6 37.1%,#2bd4d4 38.7%,#2bd4d4 40.3%,#2ad5d5 41.9%,#2bd4d4 43.5%,#2dd2d2 45.2%,#32cdcd 46.8%,#37c8c8 48.4%,#3cc3c3 50.0%,#44bbbb 51.6%,#4eb1b1 53.2%,#5aa5a5 54.8%,#689797 56.5%,#788787 58.1%,#887777 59.7%,#9b6464 61.3%,#af5050 62.9%,#c53a3a 64.5%,#da2525 66.1%,#e81717 67.7%,#ed1212 69.4%,#e71818 71.0%,#de2121 72.6%,#d72828 74.2%,#d02f2f 75.8%,#ca3535 77.4%,#c33c3c 79.0%,#bd4242 80.6%,#b94646 82.3%,#b74848 83.9%,#b54a4a 85.5%,#b44b4b 87.1%,#b44b4b 88.7%,#b34c4c 90.3%,#b24d4d 91.9%,#b14e4e 93.5%,#b14e4e 95.2%,#b24d4d 96.8%,#b24d4d 98.4%,#b24d4d 100.0%)"></i>
<i style="background:linear-gradient(90deg,#00ffff 0.0%,#00ffff 1.6%,#00ffff 3.2%,#00ffff 4.8%,#00feff 6.5%,#00feff 8.1%,#00feff 9.7%,#00feff 11.3%,#00ffff 12.9%,#00ffff 14.5%,#02fdfd 16.1%,#03fcfc 17.7%,#05fafa 19.4%,#07f8f8 21.0%,#0af5f5 22.6%,#0cf3f3 24.2%,#0ff0f0 25.8%,#12eded 27.4%,#16e9e9 29.0%,#1ae5e5 30.6%,#1de2e2 32.3%,#21dede 33.9%,#24dbdb 35.5%,#28d7d7 37.1%,#2ad5d5 38.7%,#2ad5d5 40.3%,#29d6d6 41.9%,#29d6d6 43.5%,#2cd3d3 45.2%,#30cfcf 46.8%,#35caca 48.4%,#3ac5c5 50.0%,#41bebe 51.6%,#4bb4b4 53.2%,#57a8a8 54.8%,#659a9a 56.5%,#738c8c 58.1%,#837c7c 59.7%,#956a6a 61.3%,#aa5555 62.9%,#c03f3f 64.5%,#d52a2a 66.1%,#e51a1a 67.7%,#eb1414 69.4%,#e41b1b 71.0%,#dc2323 72.6%,#d42b2b 74.2%,#cd3232 75.8%,#c63939 77.4%,#bf4040 79.0%,#ba4545 80.6%,#b64949 82.3%,#b44b4b 83.9%,#b34c4c 85.5%,#b24d4d 87.1%,#b24d4d 88.7%,#b14e4e 90.3%,#b04f4f 91.9%,#b04f4f 93.5%,#b04f4f 95.2%,#b04f4f 96.8%,#b14e4e 98.4%,#b14e4e 100.0%)"></i>
<i style="background:linear-gradient(90deg,#00ffff 0.0%,#00ffff 1.6%,#00ffff 3.2%,#00feff 4.8%,#00feff 6.5%,#00feff 8.1%,#00feff 9.7%,#00feff 11.3%,#00ffff 12.9%,#00ffff 14.5%,#01fefe 16.1%,#03fcfc 17.7%,#05fafa 19.4%,#07f8f8 21.0%,#09f6f6 22.6%,#0cf3f3 24.2%,#0ff0f0 25.8%,#12eded 27.4%,#15eaea 29.0%,#19e6e6 30.6%,#1de2e2 32.3%,#20dfdf 33.9%,#23dcdc 35.5%,#27d8d8 37.1%,#29d6d6 38.7%,#29d6d6 40.3%,#28d7d7 41.9%,#28d7d7 43.5%,#2bd4d4 45.2%,#2ed1d1 46.8%,#33cccc 48.4%,#38c7c7 50.0%,#3fc0c0 51.6%,#48b7b7 53.2%,#54abab 54.8%,#619e9e 56.5%,#6f9090 58.1%,#7e8181 59.7%,#906f6f 61.3%,#a45b5b 62.9%,#bb4444 64.5%,#d12e2e 66.1%,#e11e1e 67.7%,#e81717 69.4%,#e11e1e 71.0%,#d92626 72.6%,#d12e2e 74.2%,#ca3535 75.8%,#c33c3c 77.4%,#bc4343 79.0%,#b74848 80.6%,#b44b4b 82.3%,#b24d4d 83.9%,#b14e4e 85.5%,#b04f4f 87.1%,#b04f4f 88.7%,#b04f4f 90.3%,#af5050 91.9%,#ae5151 93.5%,#ae5151 95.2%,#af5050 96.8%,#af5050 98.4%,#af5050 100.0%)"></i>
<i style="background:linear-gradient(90deg,#00ffff 0.0%,#00ffff 1.6%,#00ffff 3.2%,#00feff 4.8%,#00feff 6.5%,#00feff 8.1%,#00feff 9.7%,#00feff 11.3%,#00ffff 12.9%,#00ffff 14.5%,#01fefe 16.1%,#03fcfc 17.7%,#05fafa 19.4%,#07f8f8 21.0%,#09f6f6 22.6%,#0cf3f3 24.2%,#0ef1f1 25.8%,#11eeee 27.4%,#15eaea 29.0%,#19e6e6 30.6%,#1de2e2 32.3%,#20dfdf 33.9%,#23dcdc 35.5%,#26d9d9 37.1%,#28d7d7 38.7%,#28d7d7 40.3%,#27d8d8 41.9%,#28d7d7 43.5%,#29d6d6 45.2%,#2dd2d2 46.8%,#31cece 48.4%,#36c9c9 50.0%,#3dc2c2 51.6%,#46b9b9 53.2%,#51aeae 54.8%,#5da2a2 56.5%,#6b9494 58.1%,#7a8585 59.7%,#8a7575 61.3%,#9e6161 62.9%,#b54a4a 64.5%,#cc3333 66.1%,#dd2222 67.7%,#e41b1b 69.4%,#de2121 71.0%,#d62929 72.6%,#ce3131 74.2%,#c73838 75.8%,#c03f3f 77.4%,#b94646 79.0%,#b44b4b 80.6%,#b14e4e 82.3%,#af5050 83.9%,#af5050 85.5%,#ae5151 87.1%,#ae5151 88.7%,#ae5151 90.3%,#ad5252 91.9%,#ad5252 93.5%,#ad5252 95.2%,#ad5252 96.8%,#ae5151 98.4%,#ae5151 100.0%)"></i>
<i style="background:linear-gradient(90deg,#00ffff 0.0%,#00ffff 1.6%,#00ffff 3.2%,#00feff 4.8%,#00feff 6.5%,#00feff 8.1%,#00feff 9.7%,#00feff 11.3%,#00ffff 12.9%,#00ffff 14.5%,#01fefe 16.1%,#03fcfc 17.7%,#05fafa 19.4%,#07f8f8 21.0%,#09f6f6 22.6%,#0bf4f4 24.2%,#0ef1f1 25.8%,#11eeee 27.4%,#14ebeb 29.0%,#18e7e7 30.6%,#1ce3e3 32.3%,#1fe0e0 33.9%,#22dddd 35.5%,#25dada 37.1%,#27d8d8 38.7%,#28d7d7 40.3%,#27d8d8 41.9%,#27d8d8 43.5%,#28d7d7 45.2%,#2bd4d4 46.8%,#2fd0d0 48.4%,#35caca 50.0%,#3bc4c4 51.6%,#44bbbb 53.2%,#4eb1b1 54.8%,#5aa5a5 56.5%,#679898 58.1%,#758a8a 59.7%,#857a7a 61.3%,#986767 62.9%,#b04f4f 64.5%,#c73838 66.1%,#d92626 67.7%,#e01f1f 69.4%,#db2424 71.0%,#d32c2c 72.6%,#cb3434 74.2%,#c43b3b 75.8%,#bc4343 77.4%,#b64949 79.0%,#b14e4e 80.6%,#ae5151 82.3%,#ad5252 83.9%,#ac5353 85.5%,#ac5353 87.1%,#ad5252 88.7%,#ac5353 90.3%,#ac5353 91.9%,#ab5454 93.5%,#ab5454 95.2%,#ac5353 96.8%,#ac5353 98.4%,#ac5353 100.0%)"></i>
<i style="background:linear-gradient(90deg,#00ffff 0.0%,#00ffff 1.6%,#00ffff 3.2%,#00feff 4.8%,#00feff 6.5%,#00feff 8.1%,#00feff 9.7%,#00feff 11.3%,#00feff 12.9%,#00ffff 14.5%,#01fefe 16.1%,#03fcfc 17.7%,#04fbfb 19.4%,#06f9f9 21.0%,#08f7f7 22.6%,#0bf4f4 24.2%,#0df2f2 25.8%,#10efef 27.4%,#14ebeb 29.0%,#18e7e7 30.6%,#1ce3e3 32.3%,#1fe0e0 33.9%,#22dddd 35.5%,#25dada 37.1%,#27d8d8 38.7%,#27d8d8 40.3%,#26d9d9 41.9%,#26d9d9 43.5%,#28d7d7 45.2%,#2ad5d5 46.8%,#2ed1d1 48.4%,#33cccc 50.0%,#39c6c6 51.6%,#41bebe 53.2%,#4bb4b4 54.8%,#57a8a8 56.5%,#639c9c 58.1%,#708f8f 59.7%,#807f7f 61.3%,#936c6c 62.9%,#ab5454 64.5%,#c23d3d 66.1%,#d42b2b 67.7%,#dc2323 69.4%,#d82727 71.0%,#cf3030 72.6%,#c83737 74.2%,#c13e3e 75.8%,#b94646 77.4%,#b24d4d 79.0%,#ae5151 80.6%,#ac5353 82.3%,#aa5555 83.9%,#aa5555 85.5%,#aa5555 87.1%,#ab5454 88.7%,#aa5555 90.3%,#aa5555 91.9%,#aa5555 93.5%,#aa5555 95.2%,#aa5555 96.8%,#aa5555 98.4%,#ab5454 100.0%)"></i>
<i style="background:linear-gradient(90deg,#00ffff 0.0%,#00ffff 1.6%,#00ffff 3.2%,#00feff 4.8%,#00feff 6.5%,#00feff 8.1%,#00feff 9.7%,#00feff 11.3%,#00feff 12.9%,#00ffff 14.5%,#01fefe 16.1%,#03fcfc 17.7%,#04fbfb 19.4%,#06f9f9 21.0%,#08f7f7 22.6%,#0af5f5 24.2%,#0df2f2 25.8%,#10efef 27.4%,#14ebeb 29.0%,#18e7e7 30.6%,#1ce3e3 32.3%,#1fe0e0 33.9%,#22dddd 35.5%,#24dbdb 37.1%,#26d9d9 38.7%,#27d8d8 40.3%,#26d9d9 41.9%,#26d9d9 43.5%,#27d8d8 45.2%,#29d6d6 46.8%,#2dd2d2 48.4%,#31cece 50.0%,#37c8c8 51.6%,#3fc0c0 53.2%,#49b6b6 54.8%,#53acac 56.5%,#5fa0a0 58.1%,#6c9393 59.7%,#7b8484 61.3%,#8d7272 62.9%,#a55a5a 64.5%,#bd4242 66.1%,#d02f2f 67.7%,#d82727 69.4%,#d42b2b 71.0%,#cc3333 72.6%,#c53a3a 74.2%,#bd4242 75.8%,#b54a4a 77.4%,#af5050 79.0%,#ab5454 80.6%,#a95656 82.3%,#a85757 83.9%,#a85757 85.5%,#a95656 87.1%,#a95656 88.7%,#a95656 90.3%,#a85757 91.9%,#a85757 93.5%,#a85757 95.2%,#a85757 96.8%,#a95656 98.4%,#a95656 100.0%)"></i>
<i style="background:linear-gradient(90deg,#00ffff 0.0%,#00ffff 1.6%,#00ffff 3.2%,#00feff 4.8%,#00feff 6.5%,#00feff 8.1%,#00feff 9.7%,#00feff 11.3%,#00feff 12.9%,#00ffff 14.5%,#01fefe 16.1%,#02fdfd 17.7%,#04fbfb 19.4%,#06f9f9 21.0%,#08f7f7 22.6%,#0af5f5 24.2%,#0cf3f3 25.8%,#0ff0f0 27.4%,#13ecec 29.0%,#18e7e7 30.6%,#1ce3e3 32.3%,#1fe0e0 33.9%,#21dede 35.5%,#24dbdb 37.1%,#26d9d9 38.7%,#26d9d9 40.3%,#26d9d9 41.9%,#26d9d9 43.5%,#26d9d9 45.2%,#29d6d6 46.8%,#2cd3d3 48.4%,#30cfcf 50.0%,#36c9c9 51.6%,#3dc2c2 53.2%,#46b9b9 54.8%,#50afaf 56.5%,#5ca3a3 58.1%,#689797 59.7%,#768989 61.3%,#897676 62.9%,#a05f5f 64.5%,#b84747 66.1%,#cb3434 67.7%,#d42b2b 69.4%,#d02f2f 71.0%,#c93636 72.6%,#c23d3d 74.2%,#ba4545 75.8%,#b24d4d 77.4%,#ac5353 79.0%,#a95656 80.6%,#a75858 82.3%,#a65959 83.9%,#a65959 85.5%,#a75858 87.1%,#a75858 88.7%,#a75858 90.3%,#a75858 91.9%,#a75858 93.5%,#a75858 95.2%,#a75858 96.8%,#a75858 98.4%,#a75858 100.0%)"></i>
<i style="background:linear-gradient(90deg,#00ffff 0.0%,#00ffff 1.6%,#00ffff 3.2%,#00feff 4.8%,#00feff 6.5%,#00feff 8.1%,#00feff 9.7%,#00feff 11.3%,#00feff 12.9%,#00ffff 14.5%,#01fefe 16.1%,#02fdfd 17.7%,#04fbfb 19.4%,#06f9f9 21.0%,#08f7f7 22.6%,#0af5f5 24.2%,#0cf3f3 25.8%,#0ff0f0 27.4%,#13ecec 29.0%,#17e8e8 30.6%,#1ce3e3 32.3%,#1fe0e0 33.9%,#21dede 35.5%,#23dcdc 37.1%,#25dada 38.7%,#26d9d9 40.3%,#26d9d9 41.9%,#25dada 43.5%,#26d9d9 45.2%,#28d7d7 46.8%,#2bd4d4 48.4%,#2fd0d0 50.0%,#34cbcb 51.6%,#3bc4c4 53.2%,#44bbbb 54.8%,#4eb1b1 56.5%,#58a7a7 58.1%,#649b9b 59.7%,#728d8d 61.3%,#847b7b 62.9%,#9b6464 64.5%,#b34c4c 66.1%,#c63939 67.7%,#d02f2f 69.4%,#cc3333 71.0%,#c53a3a 72.6%,#be4141 74.2%,#b64949 75.8%,#ae5151 77.4%,#a95656 79.0%,#a65959 80.6%,#a55a5a 82.3%,#a45b5b 83.9%,#a45b5b 85.5%,#a55a5a 87.1%,#a65959 88.7%,#a65959 90.3%,#a55a5a 91.9%,#a55a5a 93.5%,#a55a5a 95.2%,#a55a5a 96.8%,#a65959 98.4%,#a65959 100.0%)"></i>
<i style="background:linear-gradient(90deg,#00ffff 0.0%,#00ffff 1.6%,#00feff 3.2%,#00feff 4.8%,#00feff 6.5%,#00feff 8.1%,#00feff 9.7%,#00feff 11.3%,#00feff 12.9%,#00ffff 14.5%,#01fefe 16.1%,#02fdfd 17.7%,#04fbfb 19.4%,#05fafa 21.0%,#07f8f8 22.6%,#09f6f6 24.2%,#0cf3f3 25.8%,#0ef1f1 27.4%,#12eded 29.0%,#17e8e8 30.6%,#1ce3e3 32.3%,#1fe0e0 33.9%,#21dede 35.5%,#23dcdc 37.1%,#25dada 38.7%,#26d9d9 40.3%,#26d9d9 41.9%,#25dada 43.5%,#26d9d9 45.2%,#27d8d8 46.8%,#2ad5d5 48.4%,#2ed1d1 50.0%,#33cccc 51.6%,#3ac5c5 53.2%,#42bdbd 54.8%,#4bb4b4 56.5%,#55aaaa 58.1%,#609f9f 59.7%,#6e9191 61.3%,#807f7f 62.9%,#966969 64.5%,#ad5252 66.1%,#c13e3e 67.7%,#cb3434 69.4%,#c83737 71.0%,#c13e3e 72.6%,#bb4444 74.2%,#b34c4c 75.8%,#ab5454 77.4%,#a75858 79.0%,#a45b5b 80.6%,#a25d5d 82.3%,#a25d5d 83.9%,#a25d5d 85.5%,#a35c5c 87.1%,#a45b5b 88.7%,#a45b5b 90.3%,#a45b5b 91.9%,#a45b5b 93.5%,#a45b5b 95.2%,#a45b5b 96.8%,#a45b5b 98.4%,#a45b5b 100.0%)"></i>
<i style="background:linear-gradient(90deg,#00ffff 0.0%,#00ffff 1.6%,#00feff 3.2%,#00feff 4.8%,#00feff 6.5%,#00feff 8.1%,#00feff 9.7%,#00feff 11.3%,#00feff 12.9%,#00ffff 14.5%,#01fefe 16.1%,#02fdfd 17.7%,#03fcfc 19.4%,#05fafa 21.0%,#07f8f8 22.6%,#09f6f6 24.2%,#0bf4f4 25.8%,#0ef1f1 27.4%,#12eded 29.0%,#17e8e8 30.6%,#1ce3e3 32.3%,#1fe0e0 33.9%,#21dede 35.5%,#23dcdc 37.1%,#25dada 38.7%,#26d9d9 40.3%,#26d9d9 41.9%,#26d9d9 43.5%,#26d9d9 45.2%,#27d8d8 46.8%,#29d6d6 48.4%,#2dd2d2 50.0%,#32cdcd 51.6%,#38c7c7 53.2%,#40bfbf 54.8%,#48b7b7 56.5%,#52adad 58.1%,#5da2a2 59.7%,#6a9595 61.3%,#7b8484 62.9%,#916e6e 64.5%,#a85757 66.1%,#bc4343 67.7%,#c73838 69.4%,#c33c3c 71.0%,#be4141 72.6%,#b84747 74.2%,#af5050 75.8%,#a85757 77.4%,#a45b5b 79.0%,#a25d5d 80.6%,#a15e5e 82.3%,#a05f5f 83.9%,#a15e5e 85.5%,#a25d5d 87.1%,#a25d5d 88.7%,#a25d5d 90.3%,#a25d5d 91.9%,#a25d5d 93.5%,#a25d5d 95.2%,#a25d5d 96.8%,#a25d5d 98.4%,#a35c5c 100.0%)"></i>
<i style="background:linear-gradient(90deg,#00ffff 0.0%,#00ffff 1.6%,#00feff 3.2%,#00feff 4.8%,#00feff 6.5%,#00feff 8.1%,#00feff 9.7%,#00feff 11.3%,#00feff 12.9%,#00ffff 14.5%,#01fefe 16.1%,#02fdfd 17.7%,#03fcfc 19.4%,#05fafa 21.0%,#07f8f8 22.6%,#09f6f6 24.2%,#0bf4f4 25.8%,#0ef1f1 27.4%,#11eeee 29.0%,#17e8e8 30.6%,#1ce3e3 32.3%,#1fe0e0 33.9%,#21dede 35.5%,#23dcdc 37.1%,#25dada 38.7%,#26d9d9 40.3%,#27d8d8 41.9%,#26d9d9 43.5%,#25dada 45.2%,#26d9d9 46.8%,#29d6d6 48.4%,#2cd3d3 50.0%,#31cece 51.6%,#37c8c8 53.2%,#3ec1c1 54.8%,#46b9b9 56.5%,#4fb0b0 58.1%,#59a6a6 59.7%,#669999 61.3%,#778888 62.9%,#8c7373 64.5%,#a35c5c 66.1%,#b74848 67.7%,#c33c3c 69.4%,#bf4040 71.0%,#ba4545 72.6%,#b44b4b 74.2%,#ac5353 75.8%,#a55a5a 77.4%,#a25d5d 79.0%,#a05f5f 80.6%,#9f6060 82.3%,#9f6060 83.9%,#9f6060 85.5%,#a05f5f 87.1%,#a15e5e 88.7%,#a15e5e 90.3%,#a15e5e 91.9%,#a15e5e 93.5%,#a15e5e 95.2%,#a15e5e 96.8%,#a15e5e 98.4%,#a15e5e 100.0%)"></i>
<i style="background:linear-gradient(90deg,#00feff 0.0%,#00ffff 1.6%,#00feff 3.2%,#00feff 4.8%,#00feff 6.5%,#00feff 8.1%,#00feff 9.7%,#00feff 11.3%,#00feff 12.9%,#00ffff 14.5%,#01fefe 16.1%,#02fdfd 17.7%,#03fcfc 19.4%,#05fafa 21.0%,#07f8f8 22.6%,#08f7f7 24.2%,#0bf4f4 25.8%,#0df2f2 27.4%,#11eeee 29.0%,#17e8e8 30.6%,#1ce3e3 32.3%,#1fe0e0 33.9%,#21dede 35.5%,#23dcdc 37.1%,#25dada 38.7%,#26d9d9 40.3%,#27d8d8 41.9%,#26d9d9 43.5%,#25dada 45.2%,#26d9d9 46.8%,#28d7d7 48.4%,#2bd4d4 50.0%,#30cfcf 51.6%,#36c9c9 53.2%,#3cc3c3 54.8%,#44bbbb 56.5%,#4cb3b3 58.1%,#56a9a9 59.7%,#629d9d 61.3%,#738c8c 62.9%,#877878 64.5%,#9d6262 66.1%,#b14e4e 67.7%,#be4141 69.4%,#bb4444 71.0%,#b74848 72.6%,#b14e4e 74.2%,#a85757 75.8%,#a35c5c 77.4%,#a05f5f 79.0%,#9e6161 80.6%,#9d6262 82.3%,#9d6262 83.9%,#9e6161 85.5%,#9f6060 87.1%,#a05f5f 88.7%,#a05f5f 90.3%,#a05f5f 91.9%,#a05f5f 93.5%,#a05f5f 95.2%,#9f6060 96.8%,#9f6060 98.4%,#a05f5f 100.0%)"></i>
<i style="background:linear-gradient(90deg,#00feff 0.0%,#00feff 1.6%,#00feff 3.2%,#00feff 4.8%,#00feff 6.5%,#00feff 8.1%,#00feff 9.7%,#00feff 11.3%,#00feff 12.9%,#00ffff 14.5%,#01fefe 16.1%,#02fdfd 17.7%,#03fcfc 19.4%,#05fafa 21.0%,#06f9f9 22.6%,#08f7f7 24.2%,#0bf4f4 25.8%,#0df2f2 27.4%,#11eeee 29.0%,#17e8e8 30.6%,#1ce3e3 32.3%,#1fe0e0 33.9%,#21dede 35.5%,#23dcdc 37.1%,#24dbdb 38.7%,#26d9d9 40.3%,#27d8d8 41.9%,#26d9d9 43.5%,#25dada 45.2%,#26d9d9 46.8%,#27d8d8 48.4%,#2bd4d4 50.0%,#2fd0d0 51.6%,#34cbcb 53.2%,#3bc4c4 54.8%,#42bdbd 56.5%,#4ab5b5 58.1%,#53acac 59.7%,#5fa0a0 61.3%,#6e9191 62.9%,#827d7d 64.5%,#986767 66.1%,#ab5454 67.7%,#b94646 69.4%,#b84747 71.0%,#b44b4b 72.6%,#ad5252 74.2%,#a55a5a 75.8%,#a05f5f 77.4%,#9e6161 79.0%,#9c6363 80.6%,#9b6464 82.3%,#9c6363 83.9%,#9d6262 85.5%,#9e6161 87.1%,#9e6161 88.7%,#9e6161 90.3%,#9e6161 91.9%,#9e6161 93.5%,#9e6161 95.2%,#9e6161 96.8%,#9e6161 98.4%,#9e6161 100.0%)"></i>
<i style="background:linear-gradient(90deg,#00feff 0.0%,#00feff 1.6%,#00feff 3.2%,#00feff 4.8%,#00feff 6.5%,#00feff 8.1%,#00feff 9.7%,#00feff 11.3%,#00feff 12.9%,#00ffff 14.5%,#01fefe 16.1%,#02fdfd 17.7%,#03fcfc 19.4%,#04fbfb 21.0%,#06f9f9 22.6%,#08f7f7 24.2%,#0af5f5 25.8%,#0df2f2 27.4%,#10efef 29.0%,#16e9e9 30.6%,#1ce3e3 32.3%,#1fe0e0 33.9%,#21dede 35.5%,#22dddd 37.1%,#24dbdb 38.7%,#26d9d9 40.3%,#27d8d8 41.9%,#26d9d9 43.5%,#25dada 45.2%,#25dada 46.8%,#27d8d8 48.4%,#2ad5d5 50.0%,#2ed1d1 51.6%,#33cccc 53.2%,#39c6c6 54.8%,#40bfbf 56.5%,#47b8b8 58.1%,#50afaf 59.7%,#5ba4a4 61.3%,#6a9595 62.9%,#7d8282 64.5%,#926d6d 66.1%,#a55a5a 67.7%,#b34c4c 69.4%,#b44b4b 71.0%,#b14e4e 72.6%,#aa5555 74.2%,#a25d5d 75.8%,#9e6161 77.4%,#9c6363 79.0%,#9a6565 80.6%,#9a6565 82.3%,#9b6464 83.9%,#9b6464 85.5%,#9c6363 87.1%,#9d6262 88.7%,#9d6262 90.3%,#9d6262 91.9%,#9d6262 93.5%,#9d6262 95.2%,#9d6262 96.8%,#9d6262 98.4%,#9d6262 100.0%)"></i>
<i style="background:linear-gradient(90deg,#00feff 0.0%,#00feff 1.6%,#00feff 3.2%,#00feff 4.8%,#00feff 6.5%,#00feff 8.1%,#00feff 9.7%,#00feff 11.3%,#00feff 12.9%,#00ffff 14.5%,#01fefe 16.1%,#02fdfd 17.7%,#03fcfc 19.4%,#04fbfb 21.0%,#06f9f9 22.6%,#08f7f7 24.2%,#0af5f5 25.8%,#0df2f2 27.4%,#10efef 29.0%,#16e9e9 30.6%,#1ce3e3 32.3%,#1fe0e0 33.9%,#20dfdf 35.5%,#22dddd 37.1%,#24dbdb 38.7%,#26d9d9 40.3%,#27d8d8 41.9%,#26d9d9 43.5%,#25dada 45.2%,#25dada 46.8%,#27d8d8 48.4%,#29d6d6 50.0%,#2ed1d1 51.6%,#32cdcd 53.2%,#38c7c7 54.8%,#3ec1c1 56.5%,#45baba 58.1%,#4db2b2 59.7%,#58a7a7 61.3%,#669999 62.9%,#788787 64.5%,#8c7373 66.1%,#9f6060 67.7%,#ad5252 69.4%,#b04f4f 71.0%,#ae5151 72.6%,#a65959 74.2%,#a05f5f 75.8%,#9c6363 77.4%,#9a6565 79.0%,#996666 80.6%,#996666 82.3%,#996666 83.9%,#9a6565 85.5%,#9b6464 87.1%,#9c6363 88.7%,#9c6363 90.3%,#9c6363 91.9%,#9c6363 93.5%,#9c6363 95.2%,#9c6363 96.8%,#9c6363 98.4%,#9c6363 100.0%)"></i>
<i style="background:linear-gradient(90deg,#00feff 0.0%,#00feff 1.6%,#00feff 3.2%,#00feff 4.8%,#00feff 6.5%,#00feff 8.1%,#00feff 9.7%,#00feff 11.3%,#00ffff 12.9%,#00ffff 14.5%,#01fefe 16.1%,#02fdfd 17.7%,#03fcfc 19.4%,#04fbfb 21.0%,#06f9f9 22.6%,#08f7f7 24.2%,#0af5f5 25.8%,#0df2f2 27.4%,#10efef 29.0%,#16e9e9 30.6%,#1be4e4 32.3%,#1ee1e1 33.9%,#20dfdf 35.5%,#22dddd 37.1%,#24dbdb 38.7%,#25dada 40.3%,#26d9d9 41.9%,#26d9d9 43.5%,#25dada 45.2%,#25dada 46.8%,#26d9d9 48.4%,#29d6d6 50.0%,#2dd2d2 51.6%,#32cdcd 53.2%,#37c8c8 54.8%,#3dc2c2 56.5%,#43bcbc 58.1%,#4bb4b4 59.7%,#54abab 61.3%,#629d9d 62.9%,#738c8c 64.5%,#867979 66.1%,#996666 67.7%,#a65959 69.4%,#ac5353 71.0%,#aa5555 72.6%,#a35c5c 74.2%,#9d6262 75.8%,#9a6565 77.4%,#986767 79.0%,#986767 80.6%,#986767 82.3%,#996666 83.9%,#996666 85.5%,#9a6565 87.1%,#9b6464 88.7%,#9b6464 90.3%,#9b6464 91.9%,#9b6464 93.5%,#9b6464 95.2%,#9b6464 96.8%,#9a6565 98.4%,#9b6464 100.0%)"></i>
<i style="background:linear-gradient(90deg,#00feff 0.0%,#00feff 1.6%,#00ffff 3.2%,#00ffff 4.8%,#00feff 6.5%,#00feff 8.1%,#00feff 9.7%,#00feff 11.3%,#00ffff 12.9%,#00ffff 14.5%,#01fefe 16.1%,#02fdfd 17.7%,#03fcfc 19.4%,#04fbfb 21.0%,#06f9f9 22.6%,#08f7f7 24.2%,#0af5f5 25.8%,#0df2f2 27.4%,#10efef 29.0%,#16e9e9 30.6%,#1be4e4 32.3%,#1ee1e1 33.9%,#20dfdf 35.5%,#21dede 37.1%,#23dcdc 38.7%,#25dada 40.3%,#26d9d9 41.9%,#25dada 43.5%,#24dbdb 45.2%,#24dbdb 46.8%,#26d9d9 48.4%,#29d6d6 50.0%,#2cd3d3 51.6%,#31cece 53.2%,#36c9c9 54.8%,#3cc3c3 56.5%,#41bebe 58.1%,#48b7b7 59.7%,#51aeae 61.3%,#5da2a2 62.9%,#6e9191 64.5%,#807f7f 66.1%,#936c6c 67.7%,#a05f5f 69.4%,#a65959 71.0%,#a55a5a 72.6%,#9f6060 74.2%,#9b6464 75.8%,#986767 77.4%,#976868 79.0%,#966969 80.6%,#976868 82.3%,#986767 83.9%,#996666 85.5%,#996666 87.1%,#9a6565 88.7%,#9a6565 90.3%,#9a6565 91.9%,#9a6565 93.5%,#9a6565 95.2%,#996666 96.8%,#996666 98.4%,#9a6565 100.0%)"></i>
<i style="background:linear-gradient(90deg,#00feff 0.0%,#00feff 1.6%,#00ffff 3.2%,#00ffff 4.8%,#00ffff 6.5%,#00ffff 8.1%,#00ffff 9.7%,#00ffff 11.3%,#00ffff 12.9%,#00ffff 14.5%,#01fefe 16.1%,#02fdfd 17.7%,#03fcfc 19.4%,#04fbfb 21.0%,#06f9f9 22.6%,#08f7f7 24.2%,#0af5f5 25.8%,#0df2f2 27.4%,#10efef 29.0%,#16e9e9 30.6%,#1be4e4 32.3%,#1de2e2 33.9%,#1fe0e0 35.5%,#21dede 37.1%,#23dcdc 38.7%,#24dbdb 40.3%,#25dada 41.9%,#25dada 43.5%,#24dbdb 45.2%,#24dbdb 46.8%,#26d9d9 48.4%,#28d7d7 50.0%,#2cd3d3 51.6%,#30cfcf 53.2%,#35caca 54.8%,#3ac5c5 56.5%,#40bfbf 58.1%,#46b9b9 59.7%,#4eb1b1 61.3%,#59a6a6 62.9%,#689797 64.5%,#7a8585 66.1%,#8c7373 67.7%,#996666 69.4%,#a05f5f 71.0%,#a15e5e 72.6%,#9c6363 74.2%,#986767 75.8%,#976868 77.4%,#956a6a 79.0%,#956a6a 80.6%,#966969 82.3%,#976868 83.9%,#986767 85.5%,#986767 87.1%,#996666 88.7%,#996666 90.3%,#996666 91.9%,#996666 93.5%,#996666 95.2%,#996666 96.8%,#986767 98.4%,#996666 100.0%)"></i>
<i style="background:linear-gradient(90deg,#00feff 0.0%,#00feff 1.6%,#00ffff 3.2%,#00ffff 4.8%,#00ffff 6.5%,#00ffff 8.1%,#00ffff 9.7%,#00ffff 11.3%,#00ffff 12.9%,#00ffff 14.5%,#01fefe 16.1%,#02fdfd 17.7%,#03fcfc 19.4%,#04fbfb 21.0%,#06f9f9 22.6%,#08f7f7 24.2%,#0af5f5 25.8%,#0df2f2 27.4%,#11eeee 29.0%,#15eaea 30.6%,#1ae5e5 32.3%,#1de2e2 33.9%,#1fe0e0 35.5%,#21dede 37.1%,#22dddd 38.7%,#24dbdb 40.3%,#25dada 41.9%,#24dbdb 43.5%,#24dbdb 45.2%,#24dbdb 46.8%,#25dada 48.4%,#28d7d7 50.0%,#2cd3d3 51.6%,#30cfcf 53.2%,#35caca 54.8%,#39c6c6 56.5%,#3ec1c1 58.1%,#44bbbb 59.7%,#4bb4b4 61.3%,#55aaaa 62.9%,#639c9c 64.5%,#758a8a 66.1%,#867979 67.7%,#936c6c 69.4%,#996666 71.0%,#9e6161 72.6%,#986767 74.2%,#966969 75.8%,#956a6a 77.4%,#946b6b 79.0%,#946b6b 80.6%,#956a6a 82.3%,#966969 83.9%,#976868 85.5%,#976868 87.1%,#986767 88.7%,#986767 90.3%,#986767 91.9%,#986767 93.5%,#986767 95.2%,#986767 96.8%,#976868 98.4%,#986767 100.0%)"></i>
<i style="background:linear-gradient(90deg,#00feff 0.0%,#00ffff 1.6%,#00ffff 3.2%,#00ffff 4.8%,#00ffff 6.5%,#00ffff 8.1%,#00ffff 9.7%,#00ffff 11.3%,#00ffff 12.9%,#00ffff 14.5%,#01fefe 16.1%,#02fdfd 17.7%,#03fcfc 19.4%,#04fbfb 21.0%,#06f9f9 22.6%,#08f7f7 24.2%,#0af5f5 25.8%,#0df2f2 27.4%,#11eeee 29.0%,#15eaea 30.6%,#1ae5e5 32.3%,#1de2e2 33.9%,#1fe0e0 35.5%,#20dfdf 37.1%,#22dddd 38.7%,#23dcdc 40.3%,#24dbdb 41.9%,#24dbdb 43.5%,#23dcdc 45.2%,#24dbdb 46.8%,#25dada 48.4%,#28d7d7 50.0%,#2bd4d4 51.6%,#30cfcf 53.2%,#34cbcb 54.8%,#38c7c7 56.5%,#3dc2c2 58.1%,#42bdbd 59.7%,#48b7b7 61.3%,#51aeae 62.9%,#5ea1a1 64.5%,#6f9090 66.1%,#7f8080 67.7%,#8c7373 69.4%,#926d6d 71.0%,#976868 72.6%,#946b6b 74.2%,#936c6c 75.8%,#936c6c 77.4%,#936c6c 79.0%,#936c6c 80.6%,#936c6c 82.3%,#956a6a 83.9%,#966969 85.5%,#976868 87.1%,#976868 88.7%,#976868 90.3%,#976868 91.9%,#976868 93.5%,#976868 95.2%,#976868 96.8%,#976868 98.4%,#976868 100.0%)"></i>
<i style="background:linear-gradient(90deg,#00feff 0.0%,#00ffff 1.6%,#00ffff 3.2%,#00ffff 4.8%,#00ffff 6.5%,#00ffff 8.1%,#00ffff 9.7%,#00ffff 11.3%,#00ffff 12.9%,#00ffff 14.5%,#01fefe 16.1%,#02fdfd 17.7%,#03fcfc 19.4%,#04fbfb 21.0%,#06f9f9 22.6%,#08f7f7 24.2%,#0af5f5 25.8%,#0df2f2 27.4%,#11eeee 29.0%,#15eaea 30.6%,#19e6e6 32.3%,#1ce3e3 33.9%,#1ee1e1 35.5%,#20dfdf 37.1%,#21dede 38.7%,#23dcdc 40.3%,#23dcdc 41.9%,#23dcdc 43.5%,#23dcdc 45.2%,#23dcdc 46.8%,#25dada 48.4%,#28d7d7 50.0%,#2bd4d4 51.6%,#2fd0d0 53.2%,#34cbcb 54.8%,#38c7c7 56.5%,#3cc3c3 58.1%,#40bfbf 59.7%,#45baba 61.3%,#4db2b2 62.9%,#59a6a6 64.5%,#699696 66.1%,#798686 67.7%,#857a7a 69.4%,#857a7a 71.0%,#906f6f 72.6%,#916e6e 74.2%,#926d6d 75.8%,#926d6d 77.4%,#916e6e 79.0%,#926d6d 80.6%,#936c6c 82.3%,#946b6b 83.9%,#956a6a 85.5%,#966969 87.1%,#966969 88.7%,#976868 90.3%,#976868 91.9%,#976868 93.5%,#966969 95.2%,#966969 96.8%,#966969 98.4%,#966969 100.0%)"></i>
<i style="background:linear-gradient(90deg,#00feff 0.0%,#00ffff 1.6%,#00ffff 3.2%,#00ffff 4.8%,#00ffff 6.5%,#00ffff 8.1%,#00ffff 9.7%,#00ffff 11.3%,#00ffff 12.9%,#00ffff 14.5%,#01fefe 16.1%,#02fdfd 17.7%,#03fcfc 19.4%,#04fbfb 21.0%,#06f9f9 22.6%,#08f7f7 24.2%,#0af5f5 25.8%,#0df2f2 27.4%,#11eeee 29.0%,#15eaea 30.6%,#19e6e6 32.3%,#1ce3e3 33.9%,#1ee1e1 35.5%,#1fe0e0 37.1%,#21dede 38.7%,#22dddd 40.3%,#23dcdc 41.9%,#23dcdc 43.5%,#22dddd 45.2%,#23dcdc 46.8%,#25dada 48.4%,#28d7d7 50.0%,#2bd4d4 51.6%,#2fd0d0 53.2%,#33cccc 54.8%,#37c8c8 56.5%,#3bc4c4 58.1%,#3ec1c1 59.7%,#43bcbc 61.3%,#4ab5b5 62.9%,#55aaaa 64.5%,#649b9b 66.1%,#738c8c 67.7%,#7d8282 69.4%,#52adad 71.0%,#877878 72.6%,#8f7070 74.2%,#906f6f 75.8%,#916e6e 77.4%,#916e6e 79.0%,#916e6e 80.6%,#926d6d 82.3%,#936c6c 83.9%,#946b6b 85.5%,#956a6a 87.1%,#956a6a 88.7%,#966969 90.3%,#966969 91.9%,#966969 93.5%,#966969 95.2%,#956a6a 96.8%,#956a6a 98.4%,#956a6a 100.0%)"></i>
<i style="background:linear-gradient(90deg,#00feff 0.0%,#00ffff 1.6%,#00ffff 3.2%,#00ffff 4.8%,#00ffff 6.5%,#00ffff 8.1%,#00ffff 9.7%,#00ffff 11.3%,#00ffff 12.9%,#00ffff 14.5%,#01fefe 16.1%,#02fdfd 17.7%,#03fcfc 19.4%,#04fbfb 21.0%,#06f9f9 22.6%,#08f7f7 24.2%,#0af5f5 25.8%,#0df2f2 27.4%,#11eeee 29.0%,#15eaea 30.6%,#18e7e7 32.3%,#1be4e4 33.9%,#1de2e2 35.5%,#1fe0e0 37.1%,#20dfdf 38.7%,#21dede 40.3%,#22dddd 41.9%,#22dddd 43.5%,#22dddd 45.2%,#23dcdc 46.8%,#25dada 48.4%,#28d7d7 50.0%,#2bd4d4 51.6%,#2fd0d0 53.2%,#33cccc 54.8%,#37c8c8 56.5%,#3ac5c5 58.1%,#3dc2c2 59.7%,#41bebe 61.3%,#46b9b9 62.9%,#50afaf 64.5%,#5fa0a0 66.1%,#6c9393 67.7%,#6d9292 69.4%,#49b6b6 71.0%,#7c8383 72.6%,#8c7373 74.2%,#8f7070 75.8%,#906f6f 77.4%,#906f6f 79.0%,#906f6f 80.6%,#916e6e 82.3%,#936c6c 83.9%,#936c6c 85.5%,#946b6b 87.1%,#946b6b 88.7%,#956a6a 90.3%,#956a6a 91.9%,#956a6a 93.5%,#956a6a 95.2%,#956a6a 96.8%,#946b6b 98.4%,#956a6a 100.0%)"></i>
<i style="background:linear-gradient(90deg,#00feff 0.0%,#00ffff 1.6%,#00ffff 3.2%,#00ffff 4.8%,#00ffff 6.5%,#00ffff 8.1%,#00ffff 9.7%,#00ffff 11.3%,#00ffff 12.9%,#00ffff 14.5%,#01fefe 16.1%,#02fdfd 17.7%,#03fcfc 19.4%,#04fbfb 21.0%,#06f9f9 22.6%,#08f7f7 24.2%,#0af5f5 25.8%,#0df2f2 27.4%,#11eeee 29.0%,#14ebeb 30.6%,#18e7e7 32.3%,#1be4e4 33.9%,#1de2e2 35.5%,#1ee1e1 37.1%,#20dfdf 38.7%,#21dede 40.3%,#21dede 41.9%,#22dddd 43.5%,#22dddd 45.2%,#23dcdc 46.8%,#25dada 48.4%,#28d7d7 50.0%,#2bd4d4 51.6%,#2fd0d0 53.2%,#33cccc 54.8%,#37c8c8 56.5%,#39c6c6 58.1%,#3cc3c3 59.7%,#3fc0c0 61.3%,#43bcbc 62.9%,#4cb3b3 64.5%,#59a6a6 66.1%,#639c9c 67.7%,#5da2a2 69.4%,#4cb3b3 71.0%,#748b8b 72.6%,#897676 74.2%,#8d7272 75.8%,#8f7070 77.4%,#8f7070 79.0%,#906f6f 80.6%,#906f6f 82.3%,#926d6d 83.9%,#936c6c 85.5%,#936c6c 87.1%,#946b6b 88.7%,#946b6b 90.3%,#956a6a 91.9%,#956a6a 93.5%,#956a6a 95.2%,#946b6b 96.8%,#946b6b 98.4%,#946b6b 100.0%)"></i>
<i style="background:linear-gradient(90deg,#00feff 0.0%,#00ffff 1.6%,#00ffff 3.2%,#00ffff 4.8%,#00ffff 6.5%,#00ffff 8.1%,#00ffff 9.7%,#00ffff 11.3%,#00ffff 12.9%,#01fefe 14.5%,#01fefe 16.1%,#02fdfd 17.7%,#03fcfc 19.4%,#04fbfb 21.0%,#06f9f9 22.6%,#08f7f7 24.2%,#0af5f5 25.8%,#0df2f2 27.4%,#11eeee 29.0%,#14ebeb 30.6%,#18e7e7 32.3%,#1ae5e5 33.9%,#1ce3e3 35.5%,#1ee1e1 37.1%,#1fe0e0 38.7%,#20dfdf 40.3%,#21dede 41.9%,#21dede 43.5%,#22dddd 45.2%,#23dcdc 46.8%,#25dada 48.4%,#28d7d7 50.0%,#2bd4d4 51.6%,#2fd0d0 53.2%,#33cccc 54.8%,#36c9c9 56.5%,#39c6c6 58.1%,#3bc4c4 59.7%,#3dc2c2 61.3%,#41bebe 62.9%,#48b7b7 64.5%,#54abab 66.1%,#5ba4a4 67.7%,#52adad 69.4%,#4eb1b1 71.0%,#6e9191 72.6%,#847b7b 74.2%,#8b7474 75.8%,#8e7171 77.4%,#8e7171 79.0%,#8f7070 80.6%,#906f6f 82.3%,#916e6e 83.9%,#926d6d 85.5%,#926d6d 87.1%,#936c6c 88.7%,#946b6b 90.3%,#946b6b 91.9%,#946b6b 93.5%,#946b6b 95.2%,#946b6b 96.8%,#946b6b 98.4%,#946b6b 100.0%)"></i>
<i style="background:linear-gradient(90deg,#00feff 0.0%,#00ffff 1.6%,#00ffff 3.2%,#00ffff 4.8%,#00ffff 6.5%,#00ffff 8.1%,#00ffff 9.7%,#00ffff 11.3%,#00ffff 12.9%,#01fefe 14.5%,#01fefe 16.1%,#02fdfd 17.7%,#03fcfc 19.4%,#04fbfb 21.0%,#06f9f9 22.6%,#08f7f7 24.2%,#0af5f5 25.8%,#0df2f2 27.4%,#10efef 29.0%,#14ebeb 30.6%,#17e8e8 32.3%,#1ae5e5 33.9%,#1ce3e3 35.5%,#1de2e2 37.1%,#1ee1e1 38.7%,#20dfdf 40.3%,#20dfdf 41.9%,#21dede 43.5%,#21dede 45.2%,#23dcdc 46.8%,#25dada 48.4%,#28d7d7 50.0%,#2bd4d4 51.6%,#2fd0d0 53.2%,#33cccc 54.8%,#36c9c9 56.5%,#39c6c6 58.1%,#3ac5c5 59.7%,#3bc4c4 61.3%,#3ec1c1 62.9%,#44bbbb 64.5%,#4fb0b0 66.1%,#54abab 67.7%,#4cb3b3 69.4%,#50afaf 71.0%,#699696 72.6%,#807f7f 74.2%,#897676 75.8%,#8c7373 77.4%,#8d7272 79.0%,#8e7171 80.6%,#8f7070 82.3%,#906f6f 83.9%,#916e6e 85.5%,#916e6e 87.1%,#926d6d 88.7%,#936c6c 90.3%,#936c6c 91.9%,#946b6b 93.5%,#946b6b 95.2%,#946b6b 96.8%,#936c6c 98.4%,#946b6b 100.0%)"></i>
<i style="background:linear-gradient(90deg,#00feff 0.0%,#00ffff 1.6%,#00ffff 3.2%,#00ffff 4.8%,#00ffff 6.5%,#00ffff 8.1%,#00ffff 9.7%,#00ffff 11.3%,#00ffff 12.9%,#01fefe 14.5%,#01fefe 16.1%,#02fdfd 17.7%,#03fcfc 19.4%,#04fbfb 21.0%,#06f9f9 22.6%,#08f7f7 24.2%,#0bf4f4 25.8%,#0df2f2 27.4%,#10efef 29.0%,#14ebeb 30.6%,#17e8e8 32.3%,#19e6e6 33.9%,#1be4e4 35.5%,#1de2e2 37.1%,#1ee1e1 38.7%,#1fe0e0 40.3%,#20dfdf 41.9%,#21dede 43.5%,#21dede 45.2%,#23dcdc 46.8%,#25dada 48.4%,#28d7d7 50.0%,#2cd3d3 51.6%,#30cfcf 53.2%,#33cccc 54.8%,#37c8c8 56.5%,#38c7c7 58.1%,#39c6c6 59.7%,#3ac5c5 61.3%,#3cc3c3 62.9%,#41bebe 64.5%,#4bb4b4 66.1%,#4eb1b1 67.7%,#49b6b6 69.4%,#51aeae 71.0%,#669999 72.6%,#7c8383 74.2%,#877878 75.8%,#8a7575 77.4%,#8c7373 79.0%,#8d7272 80.6%,#8e7171 82.3%,#8f7070 83.9%,#906f6f 85.5%,#906f6f 87.1%,#916e6e 88.7%,#926d6d 90.3%,#936c6c 91.9%,#946b6b 93.5%,#946b6b 95.2%,#946b6b 96.8%,#936c6c 98.4%,#936c6c 100.0%)"></i>
<i style="background:linear-gradient(90deg,#00feff 0.0%,#00ffff 1.6%,#00ffff 3.2%,#00ffff 4.8%,#00ffff 6.5%,#00ffff 8.1%,#00ffff 9.7%,#00ffff 11.3%,#01fefe 12.9%,#01fefe 14.5%,#01fefe 16.1%,#02fdfd 17.7%,#03fcfc 19.4%,#05fafa 21.0%,#06f9f9 22.6%,#08f7f7 24.2%,#0bf4f4 25.8%,#0df2f2 27.4%,#10efef 29.0%,#14ebeb 30.6%,#17e8e8 32.3%,#19e6e6 33.9%,#1be4e4 35.5%,#1ce3e3 37.1%,#1de2e2 38.7%,#1fe0e0 40.3%,#20dfdf 41.9%,#20dfdf 43.5%,#21dede 45.2%,#23dcdc 46.8%,#25dada 48.4%,#28d7d7 50.0%,#2cd3d3 51.6%,#30cfcf 53.2%,#34cbcb 54.8%,#37c8c8 56.5%,#38c7c7 58.1%,#39c6c6 59.7%,#39c6c6 61.3%,#3bc4c4 62.9%,#3fc0c0 64.5%,#48b7b7 66.1%,#4bb4b4 67.7%,#48b7b7 69.4%,#52adad 71.0%,#649b9b 72.6%,#788787 74.2%,#847b7b 75.8%,#897676 77.4%,#8b7474 79.0%,#8c7373 80.6%,#8d7272 82.3%,#8e7171 83.9%,#8f7070 85.5%,#8f7070 87.1%,#906f6f 88.7%,#916e6e 90.3%,#926d6d 91.9%,#936c6c 93.5%,#946b6b 95.2%,#946b6b 96.8%,#936c6c 98.4%,#946b6b 100.0%)"></i>
<i style="background:linear-gradient(90deg,#00feff 0.0%,#00ffff 1.6%,#00ffff 3.2%,#00ffff 4.8%,#00ffff 6.5%,#00ffff 8.1%,#00ffff 9.7%,#00ffff 11.3%,#01fefe 12.9%,#01fefe 14.5%,#01fefe 16.1%,#02fdfd 17.7%,#03fcfc 19.4%,#05fafa 21.0%,#06f9f9 22.6%,#08f7f7 24.2%,#0bf4f4 25.8%,#0df2f2 27.4%,#10efef 29.0%,#14ebeb 30.6%,#16e9e9 32.3%,#19e6e6 33.9%,#1be4e4 35.5%,#1ce3e3 37.1%,#1de2e2 38.7%,#1ee1e1 40.3%,#1fe0e0 41.9%,#20dfdf 43.5%,#21dede 45.2%,#23dcdc 46.8%,#25dada 48.4%,#28d7d7 50.0%,#2cd3d3 51.6%,#30cfcf 53.2%,#34cbcb 54.8%,#37c8c8 56.5%,#39c6c6 58.1%,#39c6c6 59.7%,#39c6c6 61.3%,#3ac5c5 62.9%,#3fc0c0 64.5%,#46b9b9 66.1%,#48b7b7 67.7%,#48b7b7 69.4%,#53acac 71.0%,#629d9d 72.6%,#758a8a 74.2%,#817e7e 75.8%,#877878 77.4%,#8a7575 79.0%,#8b7474 80.6%,#8c7373 82.3%,#8d7272 83.9%,#8e7171 85.5%,#8e7171 87.1%,#906f6f 88.7%,#916e6e 90.3%,#926d6d 91.9%,#936c6c 93.5%,#946b6b 95.2%,#946b6b 96.8%,#946b6b 98.4%,#946b6b 100.0%)"></i>
<i style="background:linear-gradient(90deg,#00feff 0.0%,#00ffff 1.6%,#00ffff 3.2%,#00ffff 4.8%,#00ffff 6.5%,#00ffff 8.1%,#00ffff 9.7%,#01fefe 11.3%,#01fefe 12.9%,#01fefe 14.5%,#02fdfd 16.1%,#02fdfd 17.7%,#03fcfc 19.4%,#05fafa 21.0%,#06f9f9 22.6%,#09f6f6 24.2%,#0bf4f4 25.8%,#0ef1f1 27.4%,#10efef 29.0%,#13ecec 30.6%,#16e9e9 32.3%,#18e7e7 33.9%,#1ae5e5 35.5%,#1be4e4 37.1%,#1de2e2 38.7%,#1ee1e1 40.3%,#1fe0e0 41.9%,#20dfdf 43.5%,#21dede 45.2%,#23dcdc 46.8%,#25dada 48.4%,#29d6d6 50.0%,#2cd3d3 51.6%,#30cfcf 53.2%,#34cbcb 54.8%,#37c8c8 56.5%,#39c6c6 58.1%,#39c6c6 59.7%,#39c6c6 61.3%,#3ac5c5 62.9%,#3ec1c1 64.5%,#45baba 66.1%,#47b8b8 67.7%,#49b6b6 69.4%,#53acac 71.0%,#619e9e 72.6%,#728d8d 74.2%,#7e8181 75.8%,#857a7a 77.4%,#897676 79.0%,#8a7575 80.6%,#8b7474 82.3%,#8c7373 83.9%,#8d7272 85.5%,#8d7272 87.1%,#8f7070 88.7%,#906f6f 90.3%,#916e6e 91.9%,#926d6d 93.5%,#936c6c 95.2%,#946b6b 96.8%,#956a6a 98.4%,#956a6a 100.0%)"></i>
<i style="background:linear-gradient(90deg,#00ffff 0.0%,#00ffff 1.6%,#00ffff 3.2%,#00ffff 4.8%,#00ffff 6.5%,#00ffff 8.1%,#00ffff 9.7%,#01fefe 11.3%,#01fefe 12.9%,#01fefe 14.5%,#02fdfd 16.1%,#02fdfd 17.7%,#04fbfb 19.4%,#05fafa 21.0%,#07f8f8 22.6%,#09f6f6 24.2%,#0bf4f4 25.8%,#0ef1f1 27.4%,#10efef 29.0%,#13ecec 30.6%,#16e9e9 32.3%,#18e7e7 33.9%,#1ae5e5 35.5%,#1be4e4 37.1%,#1ce3e3 38.7%,#1de2e2 40.3%,#1ee1e1 41.9%,#1fe0e0 43.5%,#21dede 45.2%,#23dcdc 46.8%,#25dada 48.4%,#29d6d6 50.0%,#2dd2d2 51.6%,#31cece 53.2%,#35caca 54.8%,#38c7c7 56.5%,#39c6c6 58.1%,#39c6c6 59.7%,#39c6c6 61.3%,#3ac5c5 62.9%,#3fc0c0 64.5%,#44bbbb 66.1%,#47b8b8 67.7%,#4ab5b5 69.4%,#54abab 71.0%,#609f9f 72.6%,#708f8f 74.2%,#7c8383 75.8%,#837c7c 77.4%,#877878 79.0%,#897676 80.6%,#8a7575 82.3%,#8b7474 83.9%,#8c7373 85.5%,#8d7272 87.1%,#8e7171 88.7%,#8f7070 90.3%,#916e6e 91.9%,#926d6d 93.5%,#936c6c 95.2%,#956a6a 96.8%,#966969 98.4%,#966969 100.0%)"></i>
<i style="background:linear-gradient(90deg,#00ffff 0.0%,#00ffff 1.6%,#00ffff 3.2%,#00ffff 4.8%,#00ffff 6.5%,#00ffff 8.1%,#01fefe 9.7%,#01fefe 11.3%,#01fefe 12.9%,#01fefe 14.5%,#02fdfd 16.1%,#03fcfc 17.7%,#04fbfb 19.4%,#05fafa 21.0%,#07f8f8 22.6%,#09f6f6 24.2%,#0bf4f4 25.8%,#0ef1f1 27.4%,#10efef 29.0%,#13ecec 30.6%,#16e9e9 32.3%,#18e7e7 33.9%,#1ae5e5 35.5%,#1be4e4 37.1%,#1ce3e3 38.7%,#1de2e2 40.3%,#1ee1e1 41.9%,#1fe0e0 43.5%,#21dede 45.2%,#23dcdc 46.8%,#26d9d9 48.4%,#29d6d6 50.0%,#2dd2d2 51.6%,#31cece 53.2%,#35caca 54.8%,#38c7c7 56.5%,#3ac5c5 58.1%,#39c6c6 59.7%,#39c6c6 61.3%,#3bc4c4 62.9%,#3fc0c0 64.5%,#44bbbb 66.1%,#47b8b8 67.7%,#4bb4b4 69.4%,#54abab 71.0%,#5fa0a0 72.6%,#6e9191 74.2%,#7a8585 75.8%,#817e7e 77.4%,#867979 79.0%,#887777 80.6%,#897676 82.3%,#8a7575 83.9%,#8b7474 85.5%,#8c7373 87.1%,#8d7272 88.7%,#8f7070 90.3%,#906f6f 91.9%,#926d6d 93.5%,#936c6c 95.2%,#956a6a 96.8%,#976868 98.4%,#986767 100.0%)"></i>
<i style="background:linear-gradient(90deg,#00ffff 0.0%,#00ffff 1.6%,#00ffff 3.2%,#00ffff 4.8%,#00ffff 6.5%,#00ffff 8.1%,#01fefe 9.7%,#01fefe 11.3%,#01fefe 12.9%,#01fefe 14.5%,#02fdfd 16.1%,#03fcfc 17.7%,#04fbfb 19.4%,#05fafa 21.0%,#07f8f8 22.6%,#09f6f6 24.2%,#0bf4f4 25.8%,#0ef1f1 27.4%,#11eeee 29.0%,#13ecec 30.6%,#16e9e9 32.3%,#18e7e7 33.9%,#19e6e6 35.5%,#1be4e4 37.1%,#1ce3e3 38.7%,#1de2e2 40.3%,#1ee1e1 41.9%,#1fe0e0 43.5%,#21dede 45.2%,#23dcdc 46.8%,#26d9d9 48.4%,#29d6d6 50.0%,#2dd2d2 51.6%,#31cece 53.2%,#36c9c9 54.8%,#39c6c6 56.5%,#3ac5c5 58.1%,#3ac5c5 59.7%,#3ac5c5 61.3%,#3cc3c3 62.9%,#40bfbf 64.5%,#45baba 66.1%,#47b8b8 67.7%,#4cb3b3 69.4%,#55aaaa 71.0%,#5fa0a0 72.6%,#6c9393 74.2%,#778888 75.8%,#7f8080 77.4%,#847b7b 79.0%,#877878 80.6%,#887777 82.3%,#897676 83.9%,#8a7575 85.5%,#8b7474 87.1%,#8c7373 88.7%,#8e7171 90.3%,#906f6f 91.9%,#916e6e 93.5%,#936c6c 95.2%,#956a6a 96.8%,#976868 98.4%,#996666 100.0%)"></i>
<i style="background:linear-gradient(90deg,#00ffff 0.0%,#00ffff 1.6%,#00ffff 3.2%,#00ffff 4.8%,#00ffff 6.5%,#01fefe 8.1%,#01fefe 9.7%,#01fefe 11.3%,#01fefe 12.9%,#01fefe 14.5%,#02fdfd 16.1%,#03fcfc 17.7%,#04fbfb 19.4%,#05fafa 21.0%,#07f8f8 22.6%,#09f6f6 24.2%,#0bf4f4 25.8%,#0ef1f1 27.4%,#11eeee 29.0%,#13ecec 30.6%,#16e9e9 32.3%,#17e8e8 33.9%,#19e6e6 35.5%,#1ae5e5 37.1%,#1be4e4 38.7%,#1de2e2 40.3%,#1ee1e1 41.9%,#1fe0e0 43.5%,#21dede 45.2%,#23dcdc 46.8%,#26d9d9 48.4%,#29d6d6 50.0%,#2dd2d2 51.6%,#32cdcd 53.2%,#36c9c9 54.8%,#39c6c6 56.5%,#3ac5c5 58.1%,#3ac5c5 59.7%,#3ac5c5 61.3%,#3cc3c3 62.9%,#41bebe 64.5%,#45baba 66.1%,#48b7b7 67.7%,#4db2b2 69.4%,#55aaaa 71.0%,#5ea1a1 72.6%,#6b9494 74.2%,#758a8a 75.8%,#7d8282 77.4%,#827d7d 79.0%,#867979 80.6%,#877878 82.3%,#887777 83.9%,#897676 85.5%,#8a7575 87.1%,#8b7474 88.7%,#8e7171 90.3%,#8f7070 91.9%,#916e6e 93.5%,#936c6c 95.2%,#956a6a 96.8%,#986767 98.4%,#9a6565 100.0%)"></i>
<i style="background:linear-gradient(90deg,#00ffff 0.0%,#00ffff 1.6%,#00ffff 3.2%,#00ffff 4.8%,#00ffff 6.5%,#01fefe 8.1%,#01fefe 9.7%,#01fefe 11.3%,#01fefe 12.9%,#02fdfd 14.5%,#02fdfd 16.1%,#03fcfc 17.7%,#04fbfb 19.4%,#05fafa 21.0%,#07f8f8 22.6%,#09f6f6 24.2%,#0cf3f3 25.8%,#0ef1f1 27.4%,#11eeee 29.0%,#13ecec 30.6%,#15eaea 32.3%,#17e8e8 33.9%,#19e6e6 35.5%,#1ae5e5 37.1%,#1be4e4 38.7%,#1ce3e3 40.3%,#1ee1e1 41.9%,#1fe0e0 43.5%,#21dede 45.2%,#23dcdc 46.8%,#26d9d9 48.4%,#2ad5d5 50.0%,#2ed1d1 51.6%,#32cdcd 53.2%,#36c9c9 54.8%,#3ac5c5 56.5%,#3bc4c4 58.1%,#3bc4c4 59.7%,#3bc4c4 61.3%,#3dc2c2 62.9%,#41bebe 64.5%,#46b9b9 66.1%,#48b7b7 67.7%,#4db2b2 69.4%,#55aaaa 71.0%,#5ea1a1 72.6%,#699696 74.2%,#748b8b 75.8%,#7c8383 77.4%,#817e7e 79.0%,#847b7b 80.6%,#867979 82.3%,#877878 83.9%,#887777 85.5%,#897676 87.1%,#8b7474 88.7%,#8d7272 90.3%,#8f7070 91.9%,#916e6e 93.5%,#936c6c 95.2%,#956a6a 96.8%,#986767 98.4%,#9a6565 100.0%)"></i>
<i style="background:linear-gradient(90deg,#00ffff 0.0%,#00ffff 1.6%,#00ffff 3.2%,#00ffff 4.8%,#00ffff 6.5%,#01fefe 8.1%,#01fefe 9.7%,#01fefe 11.3%,#01fefe 12.9%,#02fdfd 14.5%,#02fdfd 16.1%,#03fcfc 17.7%,#04fbfb 19.4%,#06f9f9 21.0%,#07f8f8 22.6%,#09f6f6 24.2%,#0cf3f3 25.8%,#0ef1f1 27.4%,#11eeee 29.0%,#13ecec 30.6%,#15eaea 32.3%,#17e8e8 33.9%,#19e6e6 35.5%,#1ae5e5 37.1%,#1be4e4 38.7%,#1ce3e3 40.3%,#1de2e2 41.9%,#1fe0e0 43.5%,#21dede 45.2%,#23dcdc 46.8%,#26d9d9 48.4%,#2ad5d5 50.0%,#2ed1d1 51.6%,#32cdcd 53.2%,#37c8c8 54.8%,#3ac5c5 56.5%,#3cc3c3 58.1%,#3bc4c4 59.7%,#3cc3c3 61.3%,#3ec1c1 62.9%,#42bdbd 64.5%,#46b9b9 66.1%,#49b6b6 67.7%,#4eb1b1 69.4%,#55aaaa 71.0%,#5ea1a1 72.6%,#689797 74.2%,#728d8d 75.8%,#7a8585 77.4%,#7f8080 79.0%,#837c7c 80.6%,#857a7a 82.3%,#867979 83.9%,#877878 85.5%,#887777 87.1%,#8a7575 88.7%,#8c7373 90.3%,#8e7171 91.9%,#906f6f 93.5%,#926d6d 95.2%,#956a6a 96.8%,#986767 98.4%,#9a6565 100.0%)"></i>
<i style="background:linear-gradient(90deg,#00ffff 0.0%,#00ffff 1.6%,#00ffff 3.2%,#00ffff 4.8%,#01fefe 6.5%,#01fefe 8.1%,#01fefe 9.7%,#01fefe 11.3%,#01fefe 12.9%,#02fdfd 14.5%,#02fdfd 16.1%,#03fcfc 17.7%,#04fbfb 19.4%,#06f9f9 21.0%,#07f8f8 22.6%,#0af5f5 24.2%,#0cf3f3 25.8%,#0ef1f1 27.4%,#11eeee 29.0%,#13ecec 30.6%,#15eaea 32.3%,#17e8e8 33.9%,#19e6e6 35.5%,#1ae5e5 37.1%,#1be4e4 38.7%,#1ce3e3 40.3%,#1de2e2 41.9%,#1fe0e0 43.5%,#21dede 45.2%,#23dcdc 46.8%,#26d9d9 48.4%,#2ad5d5 50.0%,#2ed1d1 51.6%,#33cccc 53.2%,#37c8c8 54.8%,#3bc4c4 56.5%,#3cc3c3 58.1%,#3cc3c3 59.7%,#3cc3c3 61.3%,#3fc0c0 62.9%,#43bcbc 64.5%,#47b8b8 66.1%,#4ab5b5 67.7%,#4fb0b0 69.4%,#56a9a9 71.0%,#5da2a2 72.6%,#679898 74.2%,#718e8e 75.8%,#788787 77.4%,#7e8181 79.0%,#827d7d 80.6%,#847b7b 82.3%,#867979 83.9%,#867979 85.5%,#877878 87.1%,#897676 88.7%,#8c7373 90.3%,#8e7171 91.9%,#906f6f 93.5%,#926d6d 95.2%,#946b6b 96.8%,#976868 98.4%,#996666 100.0%)"></i>
<i style="background:linear-gradient(90deg,#00ffff 0.0%,#00ffff 1.6%,#00ffff 3.2%,#00ffff 4.8%,#01fefe 6.5%,#01fefe 8.1%,#01fefe 9.7%,#01fefe 11.3%,#01fefe 12.9%,#02fdfd 14.5%,#02fdfd 16.1%,#03fcfc 17.7%,#04fbfb 19.4%,#06f9f9 21.0%,#08f7f7 22.6%,#0af5f5 24.2%,#0cf3f3 25.8%,#0ef1f1 27.4%,#11eeee 29.0%,#13ecec 30.6%,#15eaea 32.3%,#17e8e8 33.9%,#18e7e7 35.5%,#1ae5e5 37.1%,#1be4e4 38.7%,#1ce3e3 40.3%,#1de2e2 41.9%,#1fe0e0 43.5%,#21dede 45.2%,#23dcdc 46.8%,#26d9d9 48.4%,#2ad5d5 50.0%,#2ed1d1 51.6%,#33cccc 53.2%,#37c8c8 54.8%,#3bc4c4 56.5%,#3cc3c3 58.1%,#3cc3c3 59.7%,#3dc2c2 61.3%,#40bfbf 62.9%,#44bbbb 64.5%,#47b8b8 66.1%,#4ab5b5 67.7%,#4fb0b0 69.4%,#56a9a9 71.0%,#5da2a2 72.6%,#669999 74.2%,#6f9090 75.8%,#778888 77.4%,#7d8282 79.0%,#817e7e 80.6%,#837c7c 82.3%,#857a7a 83.9%,#857a7a 85.5%,#867979 87.1%,#897676 88.7%,#8b7474 90.3%,#8d7272 91.9%,#8f7070 93.5%,#916e6e 95.2%,#936c6c 96.8%,#966969 98.4%,#986767 100.0%)"></i>
<i style="background:linear-gradient(90deg,#00ffff 0.0%,#00ffff 1.6%,#00ffff 3.2%,#00ffff 4.8%,#01fefe 6.5%,#01fefe 8.1%,#01fefe 9.7%,#01fefe 11.3%,#02fdfd 12.9%,#02fdfd 14.5%,#03fcfc 16.1%,#03fcfc 17.7%,#05fafa 19.4%,#06f9f9 21.0%,#08f7f7 22.6%,#0af5f5 24.2%,#0cf3f3 25.8%,#0ff0f0 27.4%,#11eeee 29.0%,#13ecec 30.6%,#15eaea 32.3%,#17e8e8 33.9%,#18e7e7 35.5%,#1ae5e5 37.1%,#1be4e4 38.7%,#1ce3e3 40.3%,#1de2e2 41.9%,#1fe0e0 43.5%,#21dede 45.2%,#23dcdc 46.8%,#27d8d8 48.4%,#2ad5d5 50.0%,#2fd0d0 51.6%,#33cccc 53.2%,#37c8c8 54.8%,#3bc4c4 56.5%,#3dc2c2 58.1%,#3dc2c2 59.7%,#3ec1c1 61.3%,#40bfbf 62.9%,#44bbbb 64.5%,#48b7b7 66.1%,#4bb4b4 67.7%,#50afaf 69.4%,#56a9a9 71.0%,#5da2a2 72.6%,#659a9a 74.2%,#6e9191 75.8%,#768989 77.4%,#7b8484 79.0%,#7f8080 80.6%,#827d7d 82.3%,#847b7b 83.9%,#857a7a 85.5%,#867979 87.1%,#887777 88.7%,#8b7474 90.3%,#8d7272 91.9%,#8f7070 93.5%,#906f6f 95.2%,#926d6d 96.8%,#956a6a 98.4%,#966969 100.0%)"></i>
<i style="background:linear-gradient(90deg,#00ffff 0.0%,#00ffff 1.6%,#00ffff 3.2%,#01fefe 4.8%,#01fefe 6.5%,#01fefe 8.1%,#01fefe 9.7%,#01fefe 11.3%,#02fdfd 12.9%,#02fdfd 14.5%,#03fcfc 16.1%,#04fbfb 17.7%,#05fafa 19.4%,#06f9f9 21.0%,#08f7f7 22.6%,#0af5f5 24.2%,#0cf3f3 25.8%,#0ff0f0 27.4%,#11eeee 29.0%,#13ecec 30.6%,#15eaea 32.3%,#17e8e8 33.9%,#18e7e7 35.5%,#19e6e6 37.1%,#1be4e4 38.7%,#1ce3e3 40.3%,#1de2e2 41.9%,#1fe0e0 43.5%,#21dede 45.2%,#23dcdc 46.8%,#27d8d8 48.4%,#2bd4d4 50.0%,#2fd0d0 51.6%,#33cccc 53.2%,#38c7c7 54.8%,#3bc4c4 56.5%,#3dc2c2 58.1%,#3dc2c2 59.7%,#3ec1c1 61.3%,#41bebe 62.9%,#45baba 64.5%,#48b7b7 66.1%,#4cb3b3 67.7%,#50afaf 69.4%,#56a9a9 71.0%,#5da2a2 72.6%,#649b9b 74.2%,#6d9292 75.8%,#748b8b 77.4%,#7a8585 79.0%,#7e8181 80.6%,#817e7e 82.3%,#837c7c 83.9%,#847b7b 85.5%,#857a7a 87.1%,#887777 88.7%,#8a7575 90.3%,#8c7373 91.9%,#8e7171 93.5%,#906f6f 95.2%,#916e6e 96.8%,#936c6c 98.4%,#946b6b 100.0%)"></i>
<i style="background:linear-gradient(90deg,#00ffff 0.0%,#00ffff 1.6%,#00ffff 3.2%,#01fefe 4.8%,#01fefe 6.5%,#01fefe 8.1%,#01fefe 9.7%,#01fefe 11.3%,#02fdfd 12.9%,#02fdfd 14.5%,#03fcfc 16.1%,#04fbfb 17.7%,#05fafa 19.4%,#06f9f9 21.0%,#08f7f7 22.6%,#0af5f5 24.2%,#0cf3f3 25.8%,#0ff0f0 27.4%,#11eeee 29.0%,#13ecec 30.6%,#15eaea 32.3%,#17e8e8 33.9%,#18e7e7 35.5%,#19e6e6 37.1%,#1be4e4 38.7%,#1ce3e3 40.3%,#1de2e2 41.9%,#1fe0e0 43.5%,#21dede 45.2%,#23dcdc 46.8%,#27d8d8 48.4%,#2bd4d4 50.0%,#2fd0d0 51.6%,#33cccc 53.2%,#38c7c7 54.8%,#3bc4c4 56.5%,#3dc2c2 58.1%,#3ec1c1 59.7%,#3fc0c0 61.3%,#42bdbd 62.9%,#45baba 64.5%,#49b6b6 66.1%,#4cb3b3 67.7%,#51aeae 69.4%,#56a9a9 71.0%,#5da2a2 72.6%,#649b9b 74.2%,#6c9393 75.8%,#738c8c 77.4%,#798686 79.0%,#7d8282 80.6%,#807f7f 82.3%,#827d7d 83.9%,#837c7c 85.5%,#857a7a 87.1%,#877878 88.7%,#8a7575 90.3%,#8c7373 91.9%,#8d7272 93.5%,#8f7070 95.2%,#906f6f 96.8%,#916e6e 98.4%,#926d6d 100.0%)"></i>
<i style="background:linear-gradient(90deg,#00ffff 0.0%,#00ffff 1.6%,#00ffff 3.2%,#01fefe 4.8%,#01fefe 6.5%,#01fefe 8.1%,#01fefe 9.7%,#02fdfd 11.3%,#02fdfd 12.9%,#02fdfd 14.5%,#03fcfc 16.1%,#04fbfb 17.7%,#05fafa 19.4%,#07f8f8 21.0%,#08f7f7 22.6%,#0af5f5 24.2%,#0df2f2 25.8%,#0ff0f0 27.4%,#11eeee 29.0%,#13ecec 30.6%,#15eaea 32.3%,#17e8e8 33.9%,#18e7e7 35.5%,#19e6e6 37.1%,#1be4e4 38.7%,#1ce3e3 40.3%,#1de2e2 41.9%,#1fe0e0 43.5%,#21dede 45.2%,#23dcdc 46.8%,#27d8d8 48.4%,#2bd4d4 50.0%,#2fd0d0 51.6%,#34cbcb 53.2%,#38c7c7 54.8%,#3bc4c4 56.5%,#3dc2c2 58.1%,#3ec1c1 59.7%,#40bfbf 61.3%,#42bdbd 62.9%,#46b9b9 64.5%,#49b6b6 66.1%,#4db2b2 67.7%,#51aeae 69.4%,#57a8a8 71.0%,#5da2a2 72.6%,#639c9c 74.2%,#6b9494 75.8%,#728d8d 77.4%,#788787 79.0%,#7c8383 80.6%,#7f8080 82.3%,#817e7e 83.9%,#837c7c 85.5%,#847b7b 87.1%,#877878 88.7%,#897676 90.3%,#8b7474 91.9%,#8d7272 93.5%,#8e7171 95.2%,#8f7070 96.8%,#906f6f 98.4%,#906f6f 100.0%)"></i>
<i style="background:linear-gradient(90deg,#00ffff 0.0%,#00ffff 1.6%,#00ffff 3.2%,#01fefe 4.8%,#01fefe 6.5%,#01fefe 8.1%,#01fefe 9.7%,#02fdfd 11.3%,#02fdfd 12.9%,#03fcfc 14.5%,#03fcfc 16.1%,#04fbfb 17.7%,#05fafa 19.4%,#07f8f8 21.0%,#08f7f7 22.6%,#0bf4f4 24.2%,#0df2f2 25.8%,#0ff0f0 27.4%,#11eeee 29.0%,#14ebeb 30.6%,#15eaea 32.3%,#17e8e8 33.9%,#18e7e7 35.5%,#19e6e6 37.1%,#1be4e4 38.7%,#1ce3e3 40.3%,#1de2e2 41.9%,#1fe0e0 43.5%,#21dede 45.2%,#24dbdb 46.8%,#27d8d8 48.4%,#2bd4d4 50.0%,#2fd0d0 51.6%,#34cbcb 53.2%,#38c7c7 54.8%,#3bc4c4 56.5%,#3dc2c2 58.1%,#3ec1c1 59.7%,#40bfbf 61.3%,#43bcbc 62.9%,#46b9b9 64.5%,#49b6b6 66.1%,#4db2b2 67.7%,#51aeae 69.4%,#57a8a8 71.0%,#5da2a2 72.6%,#639c9c 74.2%,#6a9595 75.8%,#718e8e 77.4%,#778888 79.0%,#7b8484 80.6%,#7e8181 82.3%,#817e7e 83.9%,#827d7d 85.5%,#847b7b 87.1%,#867979 88.7%,#887777 90.3%,#8a7575 91.9%,#8c7373 93.5%,#8d7272 95.2%,#8e7171 96.8%,#8e7171 98.4%,#8f7070 100.0%)"></i>
<i style="background:linear-gradient(90deg,#00ffff 0.0%,#00ffff 1.6%,#00ffff 3.2%,#01fefe 4.8%,#01fefe 6.5%,#01fefe 8.1%,#02fdfd 9.7%,#02fdfd 11.3%,#02fdfd 12.9%,#03fcfc 14.5%,#03fcfc 16.1%,#04fbfb 17.7%,#05fafa 19.4%,#07f8f8 21.0%,#09f6f6 22.6%,#0bf4f4 24.2%,#0df2f2 25.8%,#0ff0f0 27.4%,#12eded 29.0%,#14ebeb 30.6%,#16e9e9 32.3%,#17e8e8 33.9%,#18e7e7 35.5%,#19e6e6 37.1%,#1be4e4 38.7%,#1ce3e3 40.3%,#1de2e2 41.9%,#1fe0e0 43.5%,#21dede 45.2%,#24dbdb 46.8%,#27d8d8 48.4%,#2bd4d4 50.0%,#2fd0d0 51.6%,#34cbcb 53.2%,#38c7c7 54.8%,#3bc4c4 56.5%,#3dc2c2 58.1%,#3fc0c0 59.7%,#40bfbf 61.3%,#43bcbc 62.9%,#47b8b8 64.5%,#4ab5b5 66.1%,#4eb1b1 67.7%,#52adad 69.4%,#57a8a8 71.0%,#5da2a2 72.6%,#629d9d 74.2%,#6a9595 75.8%,#708f8f 77.4%,#768989 79.0%,#7a8585 80.6%,#7d8282 82.3%,#807f7f 83.9%,#817e7e 85.5%,#837c7c 87.1%,#857a7a 88.7%,#887777 90.3%,#8a7575 91.9%,#8b7474 93.5%,#8d7272 95.2%,#8d7272 96.8%,#8d7272 98.4%,#8d7272 100.0%)"></i>
<i style="background:linear-gradient(90deg,#00ffff 0.0%,#00ffff 1.6%,#01fefe 3.2%,#01fefe 4.8%,#01fefe 6.5%,#01fefe 8.1%,#02fdfd 9.7%,#02fdfd 11.3%,#02fdfd 12.9%,#03fcfc 14.5%,#03fcfc 16.1%,#04fbfb 17.7%,#05fafa 19.4%,#07f8f8 21.0%,#09f6f6 22.6%,#0bf4f4 24.2%,#0df2f2 25.8%,#10efef 27.4%,#12eded 29.0%,#14ebeb 30.6%,#16e9e9 32.3%,#17e8e8 33.9%,#18e7e7 35.5%,#1ae5e5 37.1%,#1be4e4 38.7%,#1ce3e3 40.3%,#1de2e2 41.9%,#1fe0e0 43.5%,#21dede 45.2%,#24dbdb 46.8%,#27d8d8 48.4%,#2bd4d4 50.0%,#2fd0d0 51.6%,#34cbcb 53.2%,#38c7c7 54.8%,#3bc4c4 56.5%,#3dc2c2 58.1%,#3fc0c0 59.7%,#41bebe 61.3%,#44bbbb 62.9%,#47b8b8 64.5%,#4ab5b5 66.1%,#4eb1b1 67.7%,#52adad 69.4%,#57a8a8 71.0%,#5da2a2 72.6%,#629d9d 74.2%,#699696 75.8%,#6f9090 77.4%,#758a8a 79.0%,#798686 80.6%,#7c8383 82.3%,#7f8080 83.9%,#817e7e 85.5%,#837c7c 87.1%,#857a7a 88.7%,#877878 90.3%,#897676 91.9%,#8b7474 93.5%,#8c7373 95.2%,#8d7272 96.8%,#8c7373 98.4%,#8d7272 100.0%)"></i>
<i style="background:linear-gradient(90deg,#00ffff 0.0%,#00ffff 1.6%,#01fefe 3.2%,#01fefe 4.8%,#01fefe 6.5%,#01fefe 8.1%,#02fdfd 9.7%,#02fdfd 11.3%,#02fdfd 12.9%,#03fcfc 14.5%,#04fbfb 16.1%,#05fafa 17.7%,#06f9f9 19.4%,#07f8f8 21.0%,#09f6f6 22.6%,#0bf4f4 24.2%,#0df2f2 25.8%,#10efef 27.4%,#12eded 29.0%,#14ebeb 30.6%,#16e9e9 32.3%,#17e8e8 33.9%,#18e7e7 35.5%,#1ae5e5 37.1%,#1be4e4 38.7%,#1ce3e3 40.3%,#1de2e2 41.9%,#1fe0e0 43.5%,#21dede 45.2%,#24dbdb 46.8%,#27d8d8 48.4%,#2bd4d4 50.0%,#30cfcf 51.6%,#34cbcb 53.2%,#38c7c7 54.8%,#3bc4c4 56.5%,#3dc2c2 58.1%,#3fc0c0 59.7%,#41bebe 61.3%,#44bbbb 62.9%,#47b8b8 64.5%,#4bb4b4 66.1%,#4eb1b1 67.7%,#53acac 69.4%,#58a7a7 71.0%,#5da2a2 72.6%,#629d9d 74.2%,#689797 75.8%,#6e9191 77.4%,#748b8b 79.0%,#788787 80.6%,#7c8383 82.3%,#7e8181 83.9%,#807f7f 85.5%,#827d7d 87.1%,#847b7b 88.7%,#877878 90.3%,#887777 91.9%,#8a7575 93.5%,#8b7474 95.2%,#8c7373 96.8%,#8c7373 98.4%,#8c7373 100.0%)"></i>
<i style="background:linear-gradient(90deg,#00ffff 0.0%,#00ffff 1.6%,#01fefe 3.2%,#01fefe 4.8%,#01fefe 6.5%,#02fdfd 8.1%,#02fdfd 9.7%,#02fdfd 11.3%,#03fcfc 12.9%,#03fcfc 14.5%,#04fbfb 16.1%,#05fafa 17.7%,#06f9f9 19.4%,#07f8f8 21.0%,#09f6f6 22.6%,#0bf4f4 24.2%,#0ef1f1 25.8%,#10efef 27.4%,#12eded 29.0%,#14ebeb 30.6%,#16e9e9 32.3%,#17e8e8 33.9%,#19e6e6 35.5%,#1ae5e5 37.1%,#1be4e4 38.7%,#1ce3e3 40.3%,#1de2e2 41.9%,#1fe0e0 43.5%,#21dede 45.2%,#24dbdb 46.8%,#28d7d7 48.4%,#2cd3d3 50.0%,#30cfcf 51.6%,#34cbcb 53.2%,#37c8c8 54.8%,#3bc4c4 56.5%,#3dc2c2 58.1%,#3fc0c0 59.7%,#41bebe 61.3%,#44bbbb 62.9%,#48b7b7 64.5%,#4bb4b4 66.1%,#4fb0b0 67.7%,#53acac 69.4%,#58a7a7 71.0%,#5da2a2 72.6%,#629d9d 74.2%,#689797 75.8%,#6e9191 77.4%,#738c8c 79.0%,#778888 80.6%,#7b8484 82.3%,#7d8282 83.9%,#7f8080 85.5%,#817e7e 87.1%,#847b7b 88.7%,#867979 90.3%,#887777 91.9%,#897676 93.5%,#8a7575 95.2%,#8b7474 96.8%,#8b7474 98.4%,#8c7373 100.0%)"></i>
<i style="background:linear-gradient(90deg,#00ffff 0.0%,#00ffff 1.6%,#01fefe 3.2%,#01fefe 4.8%,#01fefe 6.5%,#02fdfd 8.1%,#02fdfd 9.7%,#02fdfd 11.3%,#03fcfc 12.9%,#03fcfc 14.5%,#04fbfb 16.1%,#05fafa 17.7%,#06f9f9 19.4%,#08f7f7 21.0%,#09f6f6 22.6%,#0cf3f3 24.2%,#0ef1f1 25.8%,#10efef 27.4%,#12eded 29.0%,#14ebeb 30.6%,#16e9e9 32.3%,#17e8e8 33.9%,#19e6e6 35.5%,#1ae5e5 37.1%,#1be4e4 38.7%,#1ce3e3 40.3%,#1de2e2 41.9%,#1fe0e0 43.5%,#21dede 45.2%,#24dbdb 46.8%,#28d7d7 48.4%,#2cd3d3 50.0%,#30cfcf 51.6%,#34cbcb 53.2%,#37c8c8 54.8%,#3bc4c4 56.5%,#3dc2c2 58.1%,#3fc0c0 59.7%,#42bdbd 61.3%,#45baba 62.9%,#48b7b7 64.5%,#4bb4b4 66.1%,#4fb0b0 67.7%,#53acac 69.4%,#58a7a7 71.0%,#5da2a2 72.6%,#629d9d 74.2%,#679898 75.8%,#6d9292 77.4%,#728d8d 79.0%,#768989 80.6%,#7a8585 82.3%,#7d8282 83.9%,#7f8080 85.5%,#817e7e 87.1%,#837c7c 88.7%,#857a7a 90.3%,#877878 91.9%,#897676 93.5%,#8a7575 95.2%,#8b7474 96.8%,#8b7474 98.4%,#8c7373 100.0%)"></i>
<i style="background:linear-gradient(90deg,#00ffff 0.0%,#00ffff 1.6%,#01fefe 3.2%,#01fefe 4.8%,#01fefe 6.5%,#02fdfd 8.1%,#02fdfd 9.7%,#02fdfd 11.3%,#03fcfc 12.9%,#03fcfc 14.5%,#04fbfb 16.1%,#05fafa 17.7%,#06f9f9 19.4%,#08f7f7 21.0%,#0af5f5 22.6%,#0cf3f3 24.2%,#0ef1f1 25.8%,#10efef 27.4%,#13ecec 29.0%,#15eaea 30.6%,#16e9e9 32.3%,#18e7e7 33.9%,#19e6e6 35.5%,#1ae5e5 37.1%,#1be4e4 38.7%,#1ce3e3 40.3%,#1ee1e1 41.9%,#1fe0e0 43.5%,#21dede 45.2%,#24dbdb 46.8%,#28d7d7 48.4%,#2cd3d3 50.0%,#30cfcf 51.6%,#34cbcb 53.2%,#37c8c8 54.8%,#3ac5c5 56.5%,#3dc2c2 58.1%,#3fc0c0 59.7%,#42bdbd 61.3%,#45baba 62.9%,#48b7b7 64.5%,#4cb3b3 66.1%,#4fb0b0 67.7%,#54abab 69.4%,#58a7a7 71.0%,#5da2a2 72.6%,#619e9e 74.2%,#679898 75.8%,#6c9393 77.4%,#718e8e 79.0%,#758a8a 80.6%,#798686 82.3%,#7c8383 83.9%,#7e8181 85.5%,#807f7f 87.1%,#827d7d 88.7%,#847b7b 90.3%,#867979 91.9%,#887777 93.5%,#897676 95.2%,#8a7575 96.8%,#8b7474 98.4%,#8c7373 100.0%)"></i>
<i style="background:linear-gradient(90deg,#00ffff 0.0%,#00ffff 1.6%,#01fefe 3.2%,#01fefe 4.8%,#01fefe 6.5%,#02fdfd 8.1%,#02fdfd 9.7%,#03fcfc 11.3%,#03fcfc 12.9%,#04fbfb 14.5%,#04fbfb 16.1%,#05fafa 17.7%,#06f9f9 19.4%,#08f7f7 21.0%,#0af5f5 22.6%,#0cf3f3 24.2%,#0ef1f1 25.8%,#10efef 27.4%,#13ecec 29.0%,#15eaea 30.6%,#16e9e9 32.3%,#18e7e7 33.9%,#19e6e6 35.5%,#1ae5e5 37.1%,#1be4e4 38.7%,#1ce3e3 40.3%,#1ee1e1 41.9%,#1fe0e0 43.5%,#21dede 45.2%,#24dbdb 46.8%,#28d7d7 48.4%,#2cd3d3 50.0%,#30cfcf 51.6%,#34cbcb 53.2%,#37c8c8 54.8%,#3ac5c5 56.5%,#3dc2c2 58.1%,#3fc0c0 59.7%,#42bdbd 61.3%,#45baba 62.9%,#48b7b7 64.5%,#4cb3b3 66.1%,#50afaf 67.7%,#54abab 69.4%,#58a7a7 71.0%,#5da2a2 72.6%,#619e9e 74.2%,#679898 75.8%,#6c9393 77.4%,#718e8e 79.0%,#758a8a 80.6%,#788787 82.3%,#7b8484 83.9%,#7d8282 85.5%,#7f8080 87.1%,#827d7d 88.7%,#847b7b 90.3%,#867979 91.9%,#877878 93.5%,#887777 95.2%,#897676 96.8%,#8a7575 98.4%,#8c7373 100.0%)"></i>
<i style="background:linear-gradient(90deg,#00ffff 0.0%,#00ffff 1.6%,#01fefe 3.2%,#01fefe 4.8%,#02fdfd 6.5%,#02fdfd 8.1%,#02fdfd 9.7%,#03fcfc 11.3%,#03fcfc 12.9%,#04fbfb 14.5%,#04fbfb 16.1%,#05fafa 17.7%,#07f8f8 19.4%,#08f7f7 21.0%,#0af5f5 22.6%,#0cf3f3 24.2%,#0ef1f1 25.8%,#11eeee 27.4%,#13ecec 29.0%,#15eaea 30.6%,#16e9e9 32.3%,#18e7e7 33.9%,#19e6e6 35.5%,#1ae5e5 37.1%,#1be4e4 38.7%,#1de2e2 40.3%,#1ee1e1 41.9%,#20dfdf 43.5%,#22dddd 45.2%,#25dada 46.8%,#28d7d7 48.4%,#2cd3d3 50.0%,#30cfcf 51.6%,#34cbcb 53.2%,#37c8c8 54.8%,#3ac5c5 56.5%,#3dc2c2 58.1%,#3fc0c0 59.7%,#42bdbd 61.3%,#45baba 62.9%,#49b6b6 64.5%,#4cb3b3 66.1%,#50afaf 67.7%,#54abab 69.4%,#58a7a7 71.0%,#5da2a2 72.6%,#619e9e 74.2%,#669999 75.8%,#6b9494 77.4%,#708f8f 79.0%,#748b8b 80.6%,#778888 82.3%,#7a8585 83.9%,#7d8282 85.5%,#7f8080 87.1%,#817e7e 88.7%,#837c7c 90.3%,#857a7a 91.9%,#867979 93.5%,#887777 95.2%,#897676 96.8%,#8a7575 98.4%,#8b7474 100.0%)"></i>
<i style="background:linear-gradient(90deg,#00ffff 0.0%,#01fefe 1.6%,#01fefe 3.2%,#01fefe 4.8%,#02fdfd 6.5%,#02fdfd 8.1%,#02fdfd 9.7%,#03fcfc 11.3%,#03fcfc 12.9%,#04fbfb 14.5%,#05fafa 16.1%,#06f9f9 17.7%,#07f8f8 19.4%,#08f7f7 21.0%,#0af5f5 22.6%,#0cf3f3 24.2%,#0ff0f0 25.8%,#11eeee 27.4%,#13ecec 29.0%,#15eaea 30.6%,#17e8e8 32.3%,#18e7e7 33.9%,#19e6e6 35.5%,#1ae5e5 37.1%,#1ce3e3 38.7%,#1de2e2 40.3%,#1ee1e1 41.9%,#20dfdf 43.5%,#22dddd 45.2%,#25dada 46.8%,#28d7d7 48.4%,#2cd3d3 50.0%,#30cfcf 51.6%,#34cbcb 53.2%,#37c8c8 54.8%,#3ac5c5 56.5%,#3dc2c2 58.1%,#40bfbf 59.7%,#42bdbd 61.3%,#45baba 62.9%,#49b6b6 64.5%,#4cb3b3 66.1%,#50afaf 67.7%,#54abab 69.4%,#59a6a6 71.0%,#5da2a2 72.6%,#619e9e 74.2%,#669999 75.8%,#6b9494 77.4%,#6f9090 79.0%,#738c8c 80.6%,#778888 82.3%,#798686 83.9%,#7c8383 85.5%,#7e8181 87.1%,#807f7f 88.7%,#827d7d 90.3%,#847b7b 91.9%,#867979 93.5%,#877878 95.2%,#887777 96.8%,#897676 98.4%,#8b7474 100.0%)"></i>
<i style="background:linear-gradient(90deg,#00ffff 0.0%,#01fefe 1.6%,#01fefe 3.2%,#01fefe 4.8%,#02fdfd 6.5%,#02fdfd 8.1%,#03fcfc 9.7%,#03fcfc 11.3%,#03fcfc 12.9%,#04fbfb 14.5%,#05fafa 16.1%,#06f9f9 17.7%,#07f8f8 19.4%,#09f6f6 21.0%,#0af5f5 22.6%,#0cf3f3 24.2%,#0ff0f0 25.8%,#11eeee 27.4%,#13ecec 29.0%,#15eaea 30.6%,#17e8e8 32.3%,#18e7e7 33.9%,#19e6e6 35.5%,#1be4e4 37.1%,#1ce3e3 38.7%,#1de2e2 40.3%,#1ee1e1 41.9%,#20dfdf 43.5%,#22dddd 45.2%,#25dada 46.8%,#29d6d6 48.4%,#2cd3d3 50.0%,#30cfcf 51.6%,#34cbcb 53.2%,#37c8c8 54.8%,#3ac5c5 56.5%,#3dc2c2 58.1%,#40bfbf 59.7%,#42bdbd 61.3%,#46b9b9 62.9%,#49b6b6 64.5%,#4db2b2 66.1%,#50afaf 67.7%,#54abab 69.4%,#59a6a6 71.0%,#5da2a2 72.6%,#619e9e 74.2%,#669999 75.8%,#6a9595 77.4%,#6f9090 79.0%,#738c8c 80.6%,#768989 82.3%,#798686 83.9%,#7b8484 85.5%,#7d8282 87.1%,#7f8080 88.7%,#827d7d 90.3%,#837c7c 91.9%,#857a7a 93.5%,#867979 95.2%,#887777 96.8%,#897676 98.4%,#8a7575 100.0%)"></i>
<i style="background:linear-gradient(90deg,#00ffff 0.0%,#01fefe 1.6%,#01fefe 3.2%,#01fefe 4.8%,#02fdfd 6.5%,#02fdfd 8.1%,#03fcfc 9.7%,#03fcfc 11.3%,#04fbfb 12.9%,#04fbfb 14.5%,#05fafa 16.1%,#06f9f9 17.7%,#07f8f8 19.4%,#09f6f6 21.0%,#0bf4f4 22.6%,#0df2f2 24.2%,#0ff0f0 25.8%,#11eeee 27.4%,#13ecec 29.0%,#15eaea 30.6%,#17e8e8 32.3%,#18e7e7 33.9%,#1ae5e5 35.5%,#1be4e4 37.1%,#1ce3e3 38.7%,#1de2e2 40.3%,#1fe0e0 41.9%,#20dfdf 43.5%,#23dcdc 45.2%,#26d9d9 46.8%,#29d6d6 48.4%,#2dd2d2 50.0%,#30cfcf 51.6%,#34cbcb 53.2%,#37c8c8 54.8%,#3ac5c5 56.5%,#3dc2c2 58.1%,#40bfbf 59.7%,#43bcbc 61.3%,#46b9b9 62.9%,#49b6b6 64.5%,#4db2b2 66.1%,#51aeae 67.7%,#55aaaa 69.4%,#59a6a6 71.0%,#5da2a2 72.6%,#619e9e 74.2%,#659a9a 75.8%,#6a9595 77.4%,#6e9191 79.0%,#728d8d 80.6%,#758a8a 82.3%,#788787 83.9%,#7a8585 85.5%,#7d8282 87.1%,#7f8080 88.7%,#817e7e 90.3%,#837c7c 91.9%,#847b7b 93.5%,#867979 95.2%,#877878 96.8%,#887777 98.4%,#897676 100.0%)"></i>
<i style="background:linear-gradient(90deg,#00ffff 0.0%,#01fefe 1.6%,#01fefe 3.2%,#01fefe 4.8%,#02fdfd 6.5%,#02fdfd 8.1%,#03fcfc 9.7%,#03fcfc 11.3%,#04fbfb 12.9%,#04fbfb 14.5%,#05fafa 16.1%,#06f9f9 17.7%,#07f8f8 19.4%,#09f6f6 21.0%,#0bf4f4 22.6%,#0df2f2 24.2%,#0ff0f0 25.8%,#11eeee 27.4%,#13ecec 29.0%,#15eaea 30.6%,#17e8e8 32.3%,#19e6e6 33.9%,#1ae5e5 35.5%,#1be4e4 37.1%,#1ce3e3 38.7%,#1ee1e1 40.3%,#1fe0e0 41.9%,#21dede 43.5%,#23dcdc 45.2%,#26d9d9 46.8%,#29d6d6 48.4%,#2dd2d2 50.0%,#31cece 51.6%,#34cbcb 53.2%,#37c8c8 54.8%,#3ac5c5 56.5%,#3dc2c2 58.1%,#40bfbf 59.7%,#43bcbc 61.3%,#46b9b9 62.9%,#49b6b6 64.5%,#4db2b2 66.1%,#51aeae 67.7%,#55aaaa 69.4%,#59a6a6 71.0%,#5da2a2 72.6%,#619e9e 74.2%,#659a9a 75.8%,#699696 77.4%,#6e9191 79.0%,#718e8e 80.6%,#748b8b 82.3%,#778888 83.9%,#7a8585 85.5%,#7c8383 87.1%,#7e8181 88.7%,#807f7f 90.3%,#827d7d 91.9%,#837c7c 93.5%,#857a7a 95.2%,#867979 96.8%,#887777 98.4%,#897676 100.0%)"></i>
<i style="background:linear-gradient(90deg,#00ffff 0.0%,#01fefe 1.6%,#01fefe 3.2%,#02fdfd 4.8%,#02fdfd 6.5%,#02fdfd 8.1%,#03fcfc 9.7%,#03fcfc 11.3%,#04fbfb 12.9%,#05fafa 14.5%,#05fafa 16.1%,#06f9f9 17.7%,#08f7f7 19.4%,#09f6f6 21.0%,#0bf4f4 22.6%,#0df2f2 24.2%,#0ff0f0 25.8%,#11eeee 27.4%,#14ebeb 29.0%,#16e9e9 30.6%,#17e8e8 32.3%,#19e6e6 33.9%,#1ae5e5 35.5%,#1be4e4 37.1%,#1de2e2 38.7%,#1ee1e1 40.3%,#1fe0e0 41.9%,#21dede 43.5%,#23dcdc 45.2%,#26d9d9 46.8%,#2ad5d5 48.4%,#2dd2d2 50.0%,#31cece 51.6%,#34cbcb 53.2%,#37c8c8 54.8%,#3ac5c5 56.5%,#3dc2c2 58.1%,#40bfbf 59.7%,#43bcbc 61.3%,#46b9b9 62.9%,#49b6b6 64.5%,#4db2b2 66.1%,#51aeae 67.7%,#55aaaa 69.4%,#59a6a6 71.0%,#5da2a2 72.6%,#619e9e 74.2%,#659a9a 75.8%,#699696 77.4%,#6d9292 79.0%,#718e8e 80.6%,#748b8b 82.3%,#768989 83.9%,#798686 85.5%,#7b8484 87.1%,#7d8282 88.7%,#7f8080 90.3%,#817e7e 91.9%,#837c7c 93.5%,#847b7b 95.2%,#857a7a 96.8%,#877878 98.4%,#887777 100.0%)"></i>
<i style="background:linear-gradient(90deg,#00ffff 0.0%,#01fefe 1.6%,#01fefe 3.2%,#02fdfd 4.8%,#02fdfd 6.5%,#03fcfc 8.1%,#03fcfc 9.7%,#04fbfb 11.3%,#04fbfb 12.9%,#05fafa 14.5%,#06f9f9 16.1%,#07f8f8 17.7%,#08f7f7 19.4%,#09f6f6 21.0%,#0bf4f4 22.6%,#0df2f2 24.2%,#0ff0f0 25.8%,#12eded 27.4%,#14ebeb 29.0%,#16e9e9 30.6%,#17e8e8 32.3%,#19e6e6 33.9%,#1ae5e5 35.5%,#1ce3e3 37.1%,#1de2e2 38.7%,#1ee1e1 40.3%,#20dfdf 41.9%,#22dddd 43.5%,#24dbdb 45.2%,#27d8d8 46.8%,#2ad5d5 48.4%,#2dd2d2 50.0%,#31cece 51.6%,#34cbcb 53.2%,#38c7c7 54.8%,#3ac5c5 56.5%,#3dc2c2 58.1%,#40bfbf 59.7%,#43bcbc 61.3%,#46b9b9 62.9%,#4ab5b5 64.5%,#4db2b2 66.1%,#51aeae 67.7%,#55aaaa 69.4%,#59a6a6 71.0%,#5da2a2 72.6%,#619e9e 74.2%,#659a9a 75.8%,#699696 77.4%,#6d9292 79.0%,#708f8f 80.6%,#738c8c 82.3%,#768989 83.9%,#788787 85.5%,#7a8585 87.1%,#7d8282 88.7%,#7f8080 90.3%,#807f7f 91.9%,#827d7d 93.5%,#837c7c 95.2%,#857a7a 96.8%,#867979 98.4%,#877878 100.0%)"></i>
<i style="background:linear-gradient(90deg,#00ffff 0.0%,#01fefe 1.6%,#01fefe 3.2%,#02fdfd 4.8%,#02fdfd 6.5%,#03fcfc 8.1%,#03fcfc 9.7%,#04fbfb 11.3%,#04fbfb 12.9%,#05fafa 14.5%,#06f9f9 16.1%,#07f8f8 17.7%,#08f7f7 19.4%,#0af5f5 21.0%,#0bf4f4 22.6%,#0df2f2 24.2%,#10efef 25.8%,#12eded 27.4%,#14ebeb 29.0%,#16e9e9 30.6%,#18e7e7 32.3%,#19e6e6 33.9%,#1be4e4 35.5%,#1ce3e3 37.1%,#1de2e2 38.7%,#1fe0e0 40.3%,#20dfdf 41.9%,#22dddd 43.5%,#24dbdb 45.2%,#27d8d8 46.8%,#2ad5d5 48.4%,#2ed1d1 50.0%,#31cece 51.6%,#35caca 53.2%,#38c7c7 54.8%,#3bc4c4 56.5%,#3dc2c2 58.1%,#40bfbf 59.7%,#43bcbc 61.3%,#46b9b9 62.9%,#4ab5b5 64.5%,#4db2b2 66.1%,#51aeae 67.7%,#55aaaa 69.4%,#59a6a6 71.0%,#5da2a2 72.6%,#619e9e 74.2%,#649b9b 75.8%,#689797 77.4%,#6c9393 79.0%,#6f9090 80.6%,#728d8d 82.3%,#758a8a 83.9%,#778888 85.5%,#7a8585 87.1%,#7c8383 88.7%,#7e8181 90.3%,#807f7f 91.9%,#817e7e 93.5%,#837c7c 95.2%,#847b7b 96.8%,#857a7a 98.4%,#867979 100.0%)"></i>
<i style="background:linear-gradient(90deg,#00ffff 0.0%,#01fefe 1.6%,#01fefe 3.2%,#02fdfd 4.8%,#02fdfd 6.5%,#03fcfc 8.1%,#03fcfc 9.7%,#04fbfb 11.3%,#04fbfb 12.9%,#05fafa 14.5%,#06f9f9 16.1%,#07f8f8 17.7%,#08f7f7 19.4%,#0af5f5 21.0%,#0cf3f3 22.6%,#0ef1f1 24.2%,#10efef 25.8%,#12eded 27.4%,#14ebeb 29.0%,#16e9e9 30.6%,#18e7e7 32.3%,#19e6e6 33.9%,#1be4e4 35.5%,#1ce3e3 37.1%,#1ee1e1 38.7%,#1fe0e0 40.3%,#21dede 41.9%,#23dcdc 43.5%,#25dada 45.2%,#28d7d7 46.8%,#2bd4d4 48.4%,#2ed1d1 50.0%,#31cece 51.6%,#35caca 53.2%,#38c7c7 54.8%,#3bc4c4 56.5%,#3dc2c2 58.1%,#40bfbf 59.7%,#43bcbc 61.3%,#46b9b9 62.9%,#4ab5b5 64.5%,#4eb1b1 66.1%,#51aeae 67.7%,#55aaaa 69.4%,#59a6a6 71.0%,#5da2a2 72.6%,#609f9f 74.2%,#649b9b 75.8%,#689797 77.4%,#6c9393 79.0%,#6f9090 80.6%,#728d8d 82.3%,#748b8b 83.9%,#778888 85.5%,#798686 87.1%,#7b8484 88.7%,#7d8282 90.3%,#7f8080 91.9%,#817e7e 93.5%,#827d7d 95.2%,#837c7c 96.8%,#847b7b 98.4%,#867979 100.0%)"></i>
<i style="background:linear-gradient(90deg,#00ffff 0.0%,#01fefe 1.6%,#01fefe 3.2%,#02fdfd 4.8%,#02fdfd 6.5%,#03fcfc 8.1%,#03fcfc 9.7%,#04fbfb 11.3%,#05fafa 12.9%,#05fafa 14.5%,#06f9f9 16.1%,#07f8f8 17.7%,#08f7f7 19.4%,#0af5f5 21.0%,#0cf3f3 22.6%,#0ef1f1 24.2%,#10efef 25.8%,#12eded 27.4%,#14ebeb 29.0%,#16e9e9 30.6%,#18e7e7 32.3%,#19e6e6 33.9%,#1be4e4 35.5%,#1ce3e3 37.1%,#1ee1e1 38.7%,#1fe0e0 40.3%,#21dede 41.9%,#23dcdc 43.5%,#25dada 45.2%,#28d7d7 46.8%,#2bd4d4 48.4%,#2ed1d1 50.0%,#32cdcd 51.6%,#35caca 53.2%,#38c7c7 54.8%,#3bc4c4 56.5%,#3dc2c2 58.1%,#40bfbf 59.7%,#43bcbc 61.3%,#47b8b8 62.9%,#4ab5b5 64.5%,#4eb1b1 66.1%,#51aeae 67.7%,#55aaaa 69.4%,#59a6a6 71.0%,#5da2a2 72.6%,#609f9f 74.2%,#649b9b 75.8%,#689797 77.4%,#6b9494 79.0%,#6e9191 80.6%,#718e8e 82.3%,#748b8b 83.9%,#768989 85.5%,#788787 87.1%,#7a8585 88.7%,#7c8383 90.3%,#7e8181 91.9%,#807f7f 93.5%,#817e7e 95.2%,#837c7c 96.8%,#847b7b 98.4%,#857a7a 100.0%)"></i>
<i style="background:linear-gradient(90deg,#00ffff 0.0%,#01fefe 1.6%,#01fefe 3.2%,#02fdfd 4.8%,#02fdfd 6.5%,#03fcfc 8.1%,#04fbfb 9.7%,#04fbfb 11.3%,#05fafa 12.9%,#05fafa 14.5%,#06f9f9 16.1%,#07f8f8 17.7%,#09f6f6 19.4%,#0af5f5 21.0%,#0cf3f3 22.6%,#0ef1f1 24.2%,#10efef 25.8%,#12eded 27.4%,#14ebeb 29.0%,#16e9e9 30.6%,#18e7e7 32.3%,#1ae5e5 33.9%,#1be4e4 35.5%,#1de2e2 37.1%,#1ee1e1 38.7%,#20dfdf 40.3%,#22dddd 41.9%,#24dbdb 43.5%,#26d9d9 45.2%,#29d6d6 46.8%,#2cd3d3 48.4%,#2fd0d0 50.0%,#32cdcd 51.6%,#35caca 53.2%,#38c7c7 54.8%,#3bc4c4 56.5%,#3ec1c1 58.1%,#40bfbf 59.7%,#43bcbc 61.3%,#47b8b8 62.9%,#4ab5b5 64.5%,#4eb1b1 66.1%,#52adad 67.7%,#55aaaa 69.4%,#59a6a6 71.0%,#5da2a2 72.6%,#609f9f 74.2%,#649b9b 75.8%,#679898 77.4%,#6b9494 79.0%,#6e9191 80.6%,#718e8e 82.3%,#738c8c 83.9%,#758a8a 85.5%,#788787 87.1%,#7a8585 88.7%,#7c8383 90.3%,#7e8181 91.9%,#7f8080 93.5%,#817e7e 95.2%,#827d7d 96.8%,#837c7c 98.4%,#847b7b 100.0%)"></i>
<i style="background:linear-gradient(90deg,#00ffff 0.0%,#01fefe 1.6%,#01fefe 3.2%,#02fdfd 4.8%,#03fcfc 6.5%,#03fcfc 8.1%,#04fbfb 9.7%,#04fbfb 11.3%,#05fafa 12.9%,#06f9f9 14.5%,#06f9f9 16.1%,#08f7f7 17.7%,#09f6f6 19.4%,#0af5f5 21.0%,#0cf3f3 22.6%,#0ef1f1 24.2%,#10efef 25.8%,#12eded 27.4%,#14ebeb 29.0%,#16e9e9 30.6%,#18e7e7 32.3%,#1ae5e5 33.9%,#1be4e4 35.5%,#1de2e2 37.1%,#1fe0e0 38.7%,#20dfdf 40.3%,#22dddd 41.9%,#24dbdb 43.5%,#26d9d9 45.2%,#29d6d6 46.8%,#2cd3d3 48.4%,#2fd0d0 50.0%,#32cdcd 51.6%,#35caca 53.2%,#38c7c7 54.8%,#3bc4c4 56.5%,#3ec1c1 58.1%,#41bebe 59.7%,#44bbbb 61.3%,#47b8b8 62.9%,#4ab5b5 64.5%,#4eb1b1 66.1%,#52adad 67.7%,#55aaaa 69.4%,#59a6a6 71.0%,#5da2a2 72.6%,#609f9f 74.2%,#649b9b 75.8%,#679898 77.4%,#6a9595 79.0%,#6d9292 80.6%,#708f8f 82.3%,#738c8c 83.9%,#758a8a 85.5%,#778888 87.1%,#798686 88.7%,#7b8484 90.3%,#7d8282 91.9%,#7e8181 93.5%,#807f7f 95.2%,#817e7e 96.8%,#827d7d 98.4%,#837c7c 100.0%)"></i>
<i style="background:linear-gradient(90deg,#00ffff 0.0%,#01fefe 1.6%,#01fefe 3.2%,#02fdfd 4.8%,#03fcfc 6.5%,#03fcfc 8.1%,#04fbfb 9.7%,#04fbfb 11.3%,#05fafa 12.9%,#06f9f9 14.5%,#07f8f8 16.1%,#08f7f7 17.7%,#09f6f6 19.4%,#0bf4f4 21.0%,#0cf3f3 22.6%,#0ef1f1 24.2%,#10efef 25.8%,#13ecec 27.4%,#15eaea 29.0%,#17e8e8 30.6%,#18e7e7 32.3%,#1ae5e5 33.9%,#1ce3e3 35.5%,#1de2e2 37.1%,#1fe0e0 38.7%,#21dede 40.3%,#22dddd 41.9%,#24dbdb 43.5%,#27d8d8 45.2%,#29d6d6 46.8%,#2cd3d3 48.4%,#2fd0d0 50.0%,#33cccc 51.6%,#36c9c9 53.2%,#39c6c6 54.8%,#3bc4c4 56.5%,#3ec1c1 58.1%,#41bebe 59.7%,#44bbbb 61.3%,#47b8b8 62.9%,#4bb4b4 64.5%,#4eb1b1 66.1%,#52adad 67.7%,#55aaaa 69.4%,#59a6a6 71.0%,#5da2a2 72.6%,#609f9f 74.2%,#639c9c 75.8%,#679898 77.4%,#6a9595 79.0%,#6d9292 80.6%,#708f8f 82.3%,#728d8d 83.9%,#748b8b 85.5%,#768989 87.1%,#788787 88.7%,#7a8585 90.3%,#7c8383 91.9%,#7e8181 93.5%,#7f8080 95.2%,#807f7f 96.8%,#817e7e 98.4%,#837c7c 100.0%)"></i>
<i style="background:linear-gradient(90deg,#00ffff 0.0%,#01fefe 1.6%,#02fdfd 3.2%,#02fdfd 4.8%,#03fcfc 6.5%,#03fcfc 8.1%,#04fbfb 9.7%,#05fafa 11.3%,#05fafa 12.9%,#06f9f9 14.5%,#07f8f8 16.1%,#08f7f7 17.7%,#09f6f6 19.4%,#0bf4f4 21.0%,#0df2f2 22.6%,#0ef1f1 24.2%,#11eeee 25.8%,#13ecec 27.4%,#15eaea 29.0%,#17e8e8 30.6%,#19e6e6 32.3%,#1ae5e5 33.9%,#1ce3e3 35.5%,#1ee1e1 37.1%,#1fe0e0 38.7%,#21dede 40.3%,#23dcdc 41.9%,#25dada 43.5%,#27d8d8 45.2%,#2ad5d5 46.8%,#2dd2d2 48.4%,#30cfcf 50.0%,#33cccc 51.6%,#36c9c9 53.2%,#39c6c6 54.8%,#3cc3c3 56.5%,#3ec1c1 58.1%,#41bebe 59.7%,#44bbbb 61.3%,#48b7b7 62.9%,#4bb4b4 64.5%,#4eb1b1 66.1%,#52adad 67.7%,#56a9a9 69.4%,#59a6a6 71.0%,#5da2a2 72.6%,#609f9f 74.2%,#639c9c 75.8%,#679898 77.4%,#6a9595 79.0%,#6d9292 80.6%,#6f9090 82.3%,#728d8d 83.9%,#748b8b 85.5%,#768989 87.1%,#788787 88.7%,#7a8585 90.3%,#7c8383 91.9%,#7d8282 93.5%,#7f8080 95.2%,#807f7f 96.8%,#817e7e 98.4%,#827d7d 100.0%)"></i>
<i style="background:linear-gradient(90deg,#00ffff 0.0%,#01fefe 1.6%,#02fdfd 3.2%,#02fdfd 4.8%,#03fcfc 6.5%,#03fcfc 8.1%,#04fbfb 9.7%,#05fafa 11.3%,#05fafa 12.9%,#06f9f9 14.5%,#07f8f8 16.1%,#08f7f7 17.7%,#09f6f6 19.4%,#0bf4f4 21.0%,#0df2f2 22.6%,#0ff0f0 24.2%,#11eeee 25.8%,#13ecec 27.4%,#15eaea 29.0%,#17e8e8 30.6%,#19e6e6 32.3%,#1be4e4 33.9%,#1ce3e3 35.5%,#1ee1e1 37.1%,#20dfdf 38.7%,#21dede 40.3%,#23dcdc 41.9%,#25dada 43.5%,#28d7d7 45.2%,#2ad5d5 46.8%,#2dd2d2 48.4%,#30cfcf 50.0%,#33cccc 51.6%,#36c9c9 53.2%,#39c6c6 54.8%,#3cc3c3 56.5%,#3fc0c0 58.1%,#42bdbd 59.7%,#45baba 61.3%,#48b7b7 62.9%,#4bb4b4 64.5%,#4fb0b0 66.1%,#52adad 67.7%,#56a9a9 69.4%,#59a6a6 71.0%,#5da2a2 72.6%,#609f9f 74.2%,#639c9c 75.8%,#669999 77.4%,#699696 79.0%,#6c9393 80.6%,#6f9090 82.3%,#718e8e 83.9%,#738c8c 85.5%,#758a8a 87.1%,#778888 88.7%,#798686 90.3%,#7b8484 91.9%,#7d8282 93.5%,#7e8181 95.2%,#7f8080 96.8%,#807f7f 98.4%,#817e7e 100.0%)"></i>
<i style="background:linear-gradient(90deg,#00ffff 0.0%,#01fefe 1.6%,#02fdfd 3.2%,#02fdfd 4.8%,#03fcfc 6.5%,#04fbfb 8.1%,#04fbfb 9.7%,#05fafa 11.3%,#05fafa 12.9%,#06f9f9 14.5%,#07f8f8 16.1%,#08f7f7 17.7%,#0af5f5 19.4%,#0bf4f4 21.0%,#0df2f2 22.6%,#0ff0f0 24.2%,#11eeee 25.8%,#13ecec 27.4%,#15eaea 29.0%,#17e8e8 30.6%,#19e6e6 32.3%,#1be4e4 33.9%,#1de2e2 35.5%,#1ee1e1 37.1%,#20dfdf 38.7%,#22dddd 40.3%,#24dbdb 41.9%,#26d9d9 43.5%,#28d7d7 45.2%,#2bd4d4 46.8%,#2ed1d1 48.4%,#31cece 50.0%,#34cbcb 51.6%,#37c8c8 53.2%,#3ac5c5 54.8%,#3cc3c3 56.5%,#3fc0c0 58.1%,#42bdbd 59.7%,#45baba 61.3%,#48b7b7 62.9%,#4cb3b3 64.5%,#4fb0b0 66.1%,#52adad 67.7%,#56a9a9 69.4%,#59a6a6 71.0%,#5da2a2 72.6%,#609f9f 74.2%,#639c9c 75.8%,#669999 77.4%,#699696 79.0%,#6c9393 80.6%,#6e9191 82.3%,#718e8e 83.9%,#738c8c 85.5%,#758a8a 87.1%,#778888 88.7%,#798686 90.3%,#7a8585 91.9%,#7c8383 93.5%,#7d8282 95.2%,#7e8181 96.8%,#7f8080 98.4%,#807f7f 100.0%)"></i>
<i style="background:linear-gradient(90deg,#00ffff 0.0%,#01fefe 1.6%,#02fdfd 3.2%,#02fdfd 4.8%,#03fcfc 6.5%,#04fbfb 8.1%,#04fbfb 9.7%,#05fafa 11.3%,#06f9f9 12.9%,#06f9f9 14.5%,#07f8f8 16.1%,#08f7f7 17.7%,#0af5f5 19.4%,#0bf4f4 21.0%,#0df2f2 22.6%,#0ff0f0 24.2%,#11eeee 25.8%,#13ecec 27.4%,#15eaea 29.0%,#17e8e8 30.6%,#19e6e6 32.3%,#1be4e4 33.9%,#1de2e2 35.5%,#1fe0e0 37.1%,#20dfdf 38.7%,#22dddd 40.3%,#24dbdb 41.9%,#27d8d8 43.5%,#29d6d6 45.2%,#2bd4d4 46.8%,#2ed1d1 48.4%,#31cece 50.0%,#34cbcb 51.6%,#37c8c8 53.2%,#3ac5c5 54.8%,#3dc2c2 56.5%,#3fc0c0 58.1%,#42bdbd 59.7%,#45baba 61.3%,#49b6b6 62.9%,#4cb3b3 64.5%,#4fb0b0 66.1%,#52adad 67.7%,#56a9a9 69.4%,#59a6a6 71.0%,#5da2a2 72.6%,#609f9f 74.2%,#639c9c 75.8%,#669999 77.4%,#699696 79.0%,#6b9494 80.6%,#6e9191 82.3%,#708f8f 83.9%,#728d8d 85.5%,#748b8b 87.1%,#768989 88.7%,#788787 90.3%,#7a8585 91.9%,#7b8484 93.5%,#7d8282 95.2%,#7e8181 96.8%,#7f8080 98.4%,#807f7f 100.0%)"></i>
<i style="background:linear-gradient(90deg,#00ffff 0.0%,#01fefe 1.6%,#02fdfd 3.2%,#02fdfd 4.8%,#03fcfc 6.5%,#04fbfb 8.1%,#04fbfb 9.7%,#05fafa 11.3%,#06f9f9 12.9%,#06f9f9 14.5%,#07f8f8 16.1%,#08f7f7 17.7%,#0af5f5 19.4%,#0bf4f4 21.0%,#0df2f2 22.6%,#0ff0f0 24.2%,#11eeee 25.8%,#13ecec 27.4%,#15eaea 29.0%,#17e8e8 30.6%,#19e6e6 32.3%,#1be4e4 33.9%,#1de2e2 35.5%,#1fe0e0 37.1%,#21dede 38.7%,#23dcdc 40.3%,#25dada 41.9%,#27d8d8 43.5%,#29d6d6 45.2%,#2cd3d3 46.8%,#2fd0d0 48.4%,#32cdcd 50.0%,#34cbcb 51.6%,#37c8c8 53.2%,#3ac5c5 54.8%,#3dc2c2 56.5%,#40bfbf 58.1%,#43bcbc 59.7%,#46b9b9 61.3%,#49b6b6 62.9%,#4cb3b3 64.5%,#4fb0b0 66.1%,#53acac 67.7%,#56a9a9 69.4%,#59a6a6 71.0%,#5da2a2 72.6%,#609f9f 74.2%,#639c9c 75.8%,#669999 77.4%,#689797 79.0%,#6b9494 80.6%,#6d9292 82.3%,#708f8f 83.9%,#728d8d 85.5%,#748b8b 87.1%,#768989 88.7%,#788787 90.3%,#798686 91.9%,#7b8484 93.5%,#7c8383 95.2%,#7d8282 96.8%,#7e8181 98.4%,#7f8080 100.0%)"></i>
<i style="background:linear-gradient(90deg,#00ffff 0.0%,#01fefe 1.6%,#02fdfd 3.2%,#02fdfd 4.8%,#03fcfc 6.5%,#04fbfb 8.1%,#04fbfb 9.7%,#05fafa 11.3%,#06f9f9 12.9%,#07f8f8 14.5%,#08f7f7 16.1%,#09f6f6 17.7%,#0af5f5 19.4%,#0cf3f3 21.0%,#0df2f2 22.6%,#0ff0f0 24.2%,#11eeee 25.8%,#13ecec 27.4%,#15eaea 29.0%,#18e7e7 30.6%,#1ae5e5 32.3%,#1be4e4 33.9%,#1de2e2 35.5%,#1fe0e0 37.1%,#21dede 38.7%,#23dcdc 40.3%,#25dada 41.9%,#28d7d7 43.5%,#2ad5d5 45.2%,#2cd3d3 46.8%,#2fd0d0 48.4%,#32cdcd 50.0%,#35caca 51.6%,#38c7c7 53.2%,#3bc4c4 54.8%,#3ec1c1 56.5%,#40bfbf 58.1%,#43bcbc 59.7%,#46b9b9 61.3%,#49b6b6 62.9%,#4db2b2 64.5%,#50afaf 66.1%,#53acac 67.7%,#56a9a9 69.4%,#59a6a6 71.0%,#5da2a2 72.6%,#609f9f 74.2%,#639c9c 75.8%,#659a9a 77.4%,#689797 79.0%,#6b9494 80.6%,#6d9292 82.3%,#6f9090 83.9%,#718e8e 85.5%,#738c8c 87.1%,#758a8a 88.7%,#778888 90.3%,#798686 91.9%,#7a8585 93.5%,#7c8383 95.2%,#7d8282 96.8%,#7e8181 98.4%,#7f8080 100.0%)"></i>
<i style="background:linear-gradient(90deg,#00ffff 0.0%,#01fefe 1.6%,#02fdfd 3.2%,#03fcfc 4.8%,#03fcfc 6.5%,#04fbfb 8.1%,#05fafa 9.7%,#05fafa 11.3%,#06f9f9 12.9%,#07f8f8 14.5%,#08f7f7 16.1%,#09f6f6 17.7%,#0af5f5 19.4%,#0cf3f3 21.0%,#0df2f2 22.6%,#0ff0f0 24.2%,#11eeee 25.8%,#14ebeb 27.4%,#16e9e9 29.0%,#18e7e7 30.6%,#1ae5e5 32.3%,#1ce3e3 33.9%,#1ee1e1 35.5%,#20dfdf 37.1%,#22dddd 38.7%,#24dbdb 40.3%,#26d9d9 41.9%,#28d7d7 43.5%,#2ad5d5 45.2%,#2dd2d2 46.8%,#30cfcf 48.4%,#32cdcd 50.0%,#35caca 51.6%,#38c7c7 53.2%,#3bc4c4 54.8%,#3ec1c1 56.5%,#41bebe 58.1%,#44bbbb 59.7%,#47b8b8 61.3%,#4ab5b5 62.9%,#4db2b2 64.5%,#50afaf 66.1%,#53acac 67.7%,#56a9a9 69.4%,#59a6a6 71.0%,#5da2a2 72.6%,#609f9f 74.2%,#629d9d 75.8%,#659a9a 77.4%,#689797 79.0%,#6b9494 80.6%,#6d9292 82.3%,#6f9090 83.9%,#718e8e 85.5%,#738c8c 87.1%,#758a8a 88.7%,#778888 90.3%,#788787 91.9%,#7a8585 93.5%,#7b8484 95.2%,#7c8383 96.8%,#7d8282 98.4%,#7e8181 100.0%)"></i>
<i style="background:linear-gradient(90deg,#00ffff 0.0%,#01fefe 1.6%,#02fdfd 3.2%,#03fcfc 4.8%,#03fcfc 6.5%,#04fbfb 8.1%,#05fafa 9.7%,#05fafa 11.3%,#06f9f9 12.9%,#07f8f8 14.5%,#08f7f7 16.1%,#09f6f6 17.7%,#0af5f5 19.4%,#0cf3f3 21.0%,#0ef1f1 22.6%,#0ff0f0 24.2%,#12eded 25.8%,#14ebeb 27.4%,#16e9e9 29.0%,#18e7e7 30.6%,#1ae5e5 32.3%,#1ce3e3 33.9%,#1ee1e1 35.5%,#20dfdf 37.1%,#22dddd 38.7%,#24dbdb 40.3%,#26d9d9 41.9%,#29d6d6 43.5%,#2bd4d4 45.2%,#2dd2d2 46.8%,#30cfcf 48.4%,#33cccc 50.0%,#36c9c9 51.6%,#39c6c6 53.2%,#3bc4c4 54.8%,#3ec1c1 56.5%,#41bebe 58.1%,#44bbbb 59.7%,#47b8b8 61.3%,#4ab5b5 62.9%,#4db2b2 64.5%,#50afaf 66.1%,#53acac 67.7%,#56a9a9 69.4%,#5aa5a5 71.0%,#5da2a2 72.6%,#609f9f 74.2%,#629d9d 75.8%,#659a9a 77.4%,#689797 79.0%,#6a9595 80.6%,#6d9292 82.3%,#6f9090 83.9%,#718e8e 85.5%,#728d8d 87.1%,#748b8b 88.7%,#768989 90.3%,#788787 91.9%,#798686 93.5%,#7b8484 95.2%,#7c8383 96.8%,#7d8282 98.4%,#7e8181 100.0%)"></i>
<i style="background:linear-gradient(90deg,#00ffff 0.0%,#01fefe 1.6%,#02fdfd 3.2%,#03fcfc 4.8%,#03fcfc 6.5%,#04fbfb 8.1%,#05fafa 9.7%,#05fafa 11.3%,#06f9f9 12.9%,#07f8f8 14.5%,#08f7f7 16.1%,#09f6f6 17.7%,#0af5f5 19.4%,#0cf3f3 21.0%,#0ef1f1 22.6%,#10efef 24.2%,#12eded 25.8%,#14ebeb 27.4%,#16e9e9 29.0%,#18e7e7 30.6%,#1ae5e5 32.3%,#1ce3e3 33.9%,#1ee1e1 35.5%,#20dfdf 37.1%,#22dddd 38.7%,#24dbdb 40.3%,#27d8d8 41.9%,#29d6d6 43.5%,#2cd3d3 45.2%,#2ed1d1 46.8%,#31cece 48.4%,#33cccc 50.0%,#36c9c9 51.6%,#39c6c6 53.2%,#3cc3c3 54.8%,#3fc0c0 56.5%,#42bdbd 58.1%,#45baba 59.7%,#48b7b7 61.3%,#4bb4b4 62.9%,#4eb1b1 64.5%,#51aeae 66.1%,#54abab 67.7%,#57a8a8 69.4%,#5aa5a5 71.0%,#5da2a2 72.6%,#609f9f 74.2%,#629d9d 75.8%,#659a9a 77.4%,#689797 79.0%,#6a9595 80.6%,#6c9393 82.3%,#6e9191 83.9%,#708f8f 85.5%,#728d8d 87.1%,#748b8b 88.7%,#768989 90.3%,#788787 91.9%,#798686 93.5%,#7a8585 95.2%,#7b8484 96.8%,#7c8383 98.4%,#7e8181 100.0%)"></i>
<i style="background:linear-gradient(90deg,#00ffff 0.0%,#01fefe 1.6%,#02fdfd 3.2%,#03fcfc 4.8%,#03fcfc 6.5%,#04fbfb 8.1%,#05fafa 9.7%,#06f9f9 11.3%,#06f9f9 12.9%,#07f8f8 14.5%,#08f7f7 16.1%,#09f6f6 17.7%,#0af5f5 19.4%,#0cf3f3 21.0%,#0ef1f1 22.6%,#10efef 24.2%,#12eded 25.8%,#14ebeb 27.4%,#16e9e9 29.0%,#18e7e7 30.6%,#1ae5e5 32.3%,#1ce3e3 33.9%,#1ee1e1 35.5%,#21dede 37.1%,#23dcdc 38.7%,#25dada 40.3%,#27d8d8 41.9%,#2ad5d5 43.5%,#2cd3d3 45.2%,#2fd0d0 46.8%,#31cece 48.4%,#34cbcb 50.0%,#37c8c8 51.6%,#39c6c6 53.2%,#3cc3c3 54.8%,#3fc0c0 56.5%,#42bdbd 58.1%,#45baba 59.7%,#48b7b7 61.3%,#4bb4b4 62.9%,#4eb1b1 64.5%,#51aeae 66.1%,#54abab 67.7%,#57a8a8 69.4%,#5aa5a5 71.0%,#5da2a2 72.6%,#609f9f 74.2%,#629d9d 75.8%,#659a9a 77.4%,#679898 79.0%,#6a9595 80.6%,#6c9393 82.3%,#6e9191 83.9%,#708f8f 85.5%,#728d8d 87.1%,#748b8b 88.7%,#768989 90.3%,#778888 91.9%,#798686 93.5%,#7a8585 95.2%,#7b8484 96.8%,#7c8383 98.4%,#7d8282 100.0%)"></i>
<i style="background:linear-gradient(90deg,#00ffff 0.0%,#01fefe 1.6%,#02fdfd 3.2%,#03fcfc 4.8%,#03fcfc 6.5%,#04fbfb 8.1%,#05fafa 9.7%,#06f9f9 11.3%,#06f9f9 12.9%,#07f8f8 14.5%,#08f7f7 16.1%,#09f6f6 17.7%,#0bf4f4 19.4%,#0cf3f3 21.0%,#0ef1f1 22.6%,#10efef 24.2%,#12eded 25.8%,#14ebeb 27.4%,#16e9e9 29.0%,#18e7e7 30.6%,#1be4e4 32.3%,#1de2e2 33.9%,#1fe0e0 35.5%,#21dede 37.1%,#23dcdc 38.7%,#25dada 40.3%,#28d7d7 41.9%,#2ad5d5 43.5%,#2dd2d2 45.2%,#2fd0d0 46.8%,#32cdcd 48.4%,#34cbcb 50.0%,#37c8c8 51.6%,#3ac5c5 53.2%,#3dc2c2 54.8%,#40bfbf 56.5%,#43bcbc 58.1%,#46b9b9 59.7%,#49b6b6 61.3%,#4cb3b3 62.9%,#4fb0b0 64.5%,#51aeae 66.1%,#54abab 67.7%,#57a8a8 69.4%,#5aa5a5 71.0%,#5da2a2 72.6%,#609f9f 74.2%,#629d9d 75.8%,#659a9a 77.4%,#679898 79.0%,#6a9595 80.6%,#6c9393 82.3%,#6e9191 83.9%,#708f8f 85.5%,#728d8d 87.1%,#738c8c 88.7%,#758a8a 90.3%,#778888 91.9%,#788787 93.5%,#7a8585 95.2%,#7b8484 96.8%,#7c8383 98.4%,#7d8282 100.0%)"></i>
<i style="background:linear-gradient(90deg,#00ffff 0.0%,#01fefe 1.6%,#02fdfd 3.2%,#03fcfc 4.8%,#04fbfb 6.5%,#04fbfb 8.1%,#05fafa 9.7%,#06f9f9 11.3%,#06f9f9 12.9%,#07f8f8 14.5%,#08f7f7 16.1%,#09f6f6 17.7%,#0bf4f4 19.4%,#0cf3f3 21.0%,#0ef1f1 22.6%,#10efef 24.2%,#12eded 25.8%,#14ebeb 27.4%,#16e9e9 29.0%,#19e6e6 30.6%,#1be4e4 32.3%,#1de2e2 33.9%,#1fe0e0 35.5%,#21dede 37.1%,#23dcdc 38.7%,#26d9d9 40.3%,#28d7d7 41.9%,#2bd4d4 43.5%,#2dd2d2 45.2%,#30cfcf 46.8%,#32cdcd 48.4%,#35caca 50.0%,#37c8c8 51.6%,#3ac5c5 53.2%,#3dc2c2 54.8%,#40bfbf 56.5%,#43bcbc 58.1%,#47b8b8 59.7%,#4ab5b5 61.3%,#4cb3b3 62.9%,#4fb0b0 64.5%,#52adad 66.1%,#54abab 67.7%,#57a8a8 69.4%,#5aa5a5 71.0%,#5da2a2 72.6%,#609f9f 74.2%,#629d9d 75.8%,#659a9a 77.4%,#679898 79.0%,#6a9595 80.6%,#6c9393 82.3%,#6e9191 83.9%,#708f8f 85.5%,#718e8e 87.1%,#738c8c 88.7%,#758a8a 90.3%,#768989 91.9%,#788787 93.5%,#798686 95.2%,#7a8585 96.8%,#7b8484 98.4%,#7d8282 100.0%)"></i>
<i style="background:linear-gradient(90deg,#00ffff 0.0%,#01fefe 1.6%,#02fdfd 3.2%,#03fcfc 4.8%,#04fbfb 6.5%,#04fbfb 8.1%,#05fafa 9.7%,#06f9f9 11.3%,#07f8f8 12.9%,#07f8f8 14.5%,#08f7f7 16.1%,#09f6f6 17.7%,#0bf4f4 19.4%,#0cf3f3 21.0%,#0ef1f1 22.6%,#10efef 24.2%,#12eded 25.8%,#14ebeb 27.4%,#17e8e8 29.0%,#19e6e6 30.6%,#1be4e4 32.3%,#1de2e2 33.9%,#1fe0e0 35.5%,#21dede 37.1%,#24dbdb 38.7%,#26d9d9 40.3%,#29d6d6 41.9%,#2bd4d4 43.5%,#2ed1d1 45.2%,#30cfcf 46.8%,#32cdcd 48.4%,#35caca 50.0%,#38c7c7 51.6%,#3bc4c4 53.2%,#3ec1c1 54.8%,#41bebe 56.5%,#44bbbb 58.1%,#47b8b8 59.7%,#4ab5b5 61.3%,#4db2b2 62.9%,#50afaf 64.5%,#52adad 66.1%,#55aaaa 67.7%,#57a8a8 69.4%,#5aa5a5 71.0%,#5da2a2 72.6%,#609f9f 74.2%,#629d9d 75.8%,#659a9a 77.4%,#679898 79.0%,#699696 80.6%,#6b9494 82.3%,#6d9292 83.9%,#6f9090 85.5%,#718e8e 87.1%,#738c8c 88.7%,#758a8a 90.3%,#768989 91.9%,#788787 93.5%,#798686 95.2%,#7a8585 96.8%,#7b8484 98.4%,#7c8383 100.0%)"></i>
<i style="background:linear-gradient(90deg,#00ffff 0.0%,#01fefe 1.6%,#02fdfd 3.2%,#03fcfc 4.8%,#04fbfb 6.5%,#04fbfb 8.1%,#05fafa 9.7%,#06f9f9 11.3%,#07f8f8 12.9%,#07f8f8 14.5%,#08f7f7 16.1%,#09f6f6 17.7%,#0bf4f4 19.4%,#0cf3f3 21.0%,#0ef1f1 22.6%,#10efef 24.2%,#12eded 25.8%,#14ebeb 27.4%,#17e8e8 29.0%,#19e6e6 30.6%,#1be4e4 32.3%,#1de2e2 33.9%,#1fe0e0 35.5%,#22dddd 37.1%,#24dbdb 38.7%,#27d8d8 40.3%,#29d6d6 41.9%,#2cd3d3 43.5%,#2ed1d1 45.2%,#30cfcf 46.8%,#33cccc 48.4%,#35caca 50.0%,#38c7c7 51.6%,#3bc4c4 53.2%,#3ec1c1 54.8%,#41bebe 56.5%,#45baba 58.1%,#48b7b7 59.7%,#4bb4b4 61.3%,#4db2b2 62.9%,#50afaf 64.5%,#52adad 66.1%,#55aaaa 67.7%,#58a7a7 69.4%,#5aa5a5 71.0%,#5da2a2 72.6%,#609f9f 74.2%,#629d9d 75.8%,#659a9a 77.4%,#679898 79.0%,#699696 80.6%,#6b9494 82.3%,#6d9292 83.9%,#6f9090 85.5%,#718e8e 87.1%,#738c8c 88.7%,#748b8b 90.3%,#768989 91.9%,#778888 93.5%,#798686 95.2%,#7a8585 96.8%,#7b8484 98.4%,#7c8383 100.0%)"></i>
<i style="background:linear-gradient(90deg,#00ffff 0.0%,#01fefe 1.6%,#02fdfd 3.2%,#03fcfc 4.8%,#04fbfb 6.5%,#04fbfb 8.1%,#05fafa 9.7%,#06f9f9 11.3%,#07f8f8 12.9%,#07f8f8 14.5%,#08f7f7 16.1%,#09f6f6 17.7%,#0bf4f4 19.4%,#0cf3f3 21.0%,#0ef1f1 22.6%,#10efef 24.2%,#12eded 25.8%,#14ebeb 27.4%,#17e8e8 29.0%,#19e6e6 30.6%,#1be4e4 32.3%,#1de2e2 33.9%,#20dfdf 35.5%,#22dddd 37.1%,#24dbdb 38.7%,#27d8d8 40.3%,#29d6d6 41.9%,#2cd3d3 43.5%,#2fd0d0 45.2%,#31cece 46.8%,#33cccc 48.4%,#36c9c9 50.0%,#38c7c7 51.6%,#3bc4c4 53.2%,#3ec1c1 54.8%,#42bdbd 56.5%,#45baba 58.1%,#48b7b7 59.7%,#4bb4b4 61.3%,#4eb1b1 62.9%,#50afaf 64.5%,#53acac 66.1%,#55aaaa 67.7%,#58a7a7 69.4%,#5aa5a5 71.0%,#5da2a2 72.6%,#609f9f 74.2%,#629d9d 75.8%,#659a9a 77.4%,#679898 79.0%,#699696 80.6%,#6b9494 82.3%,#6d9292 83.9%,#6f9090 85.5%,#718e8e 87.1%,#728d8d 88.7%,#748b8b 90.3%,#768989 91.9%,#778888 93.5%,#788787 95.2%,#7a8585 96.8%,#7b8484 98.4%,#7c8383 100.0%)"></i>
<i style="background:linear-gradient(90deg,#00ffff 0.0%,#01fefe 1.6%,#02fdfd 3.2%,#03fcfc 4.8%,#04fbfb 6.5%,#05fafa 8.1%,#05fafa 9.7%,#06f9f9 11.3%,#07f8f8 12.9%,#08f7f7 14.5%,#08f7f7 16.1%,#0af5f5 17.7%,#0bf4f4 19.4%,#0cf3f3 21.0%,#0ef1f1 22.6%,#10efef 24.2%,#12eded 25.8%,#15eaea 27.4%,#17e8e8 29.0%,#19e6e6 30.6%,#1be4e4 32.3%,#1ee1e1 33.9%,#20dfdf 35.5%,#22dddd 37.1%,#25dada 38.7%,#27d8d8 40.3%,#2ad5d5 41.9%,#2cd3d3 43.5%,#2fd0d0 45.2%,#31cece 46.8%,#34cbcb 48.4%,#36c9c9 50.0%,#39c6c6 51.6%,#3cc3c3 53.2%,#3fc0c0 54.8%,#42bdbd 56.5%,#46b9b9 58.1%,#49b6b6 59.7%,#4cb3b3 61.3%,#4eb1b1 62.9%,#51aeae 64.5%,#53acac 66.1%,#56a9a9 67.7%,#58a7a7 69.4%,#5ba4a4 71.0%,#5da2a2 72.6%,#609f9f 74.2%,#629d9d 75.8%,#659a9a 77.4%,#679898 79.0%,#699696 80.6%,#6b9494 82.3%,#6d9292 83.9%,#6f9090 85.5%,#718e8e 87.1%,#728d8d 88.7%,#748b8b 90.3%,#758a8a 91.9%,#778888 93.5%,#788787 95.2%,#798686 96.8%,#7a8585 98.4%,#7c8383 100.0%)"></i>
<i style="background:linear-gradient(90deg,#00ffff 0.0%,#01fefe 1.6%,#02fdfd 3.2%,#03fcfc 4.8%,#04fbfb 6.5%,#05fafa 8.1%,#05fafa 9.7%,#06f9f9 11.3%,#07f8f8 12.9%,#08f7f7 14.5%,#08f7f7 16.1%,#0af5f5 17.7%,#0bf4f4 19.4%,#0cf3f3 21.0%,#0ef1f1 22.6%,#10efef 24.2%,#12eded 25.8%,#15eaea 27.4%,#17e8e8 29.0%,#19e6e6 30.6%,#1ce3e3 32.3%,#1ee1e1 33.9%,#20dfdf 35.5%,#23dcdc 37.1%,#25dada 38.7%,#28d7d7 40.3%,#2ad5d5 41.9%,#2dd2d2 43.5%,#2fd0d0 45.2%,#32cdcd 46.8%,#34cbcb 48.4%,#37c8c8 50.0%,#39c6c6 51.6%,#3cc3c3 53.2%,#3fc0c0 54.8%,#43bcbc 56.5%,#46b9b9 58.1%,#49b6b6 59.7%,#4cb3b3 61.3%,#4fb0b0 62.9%,#51aeae 64.5%,#54abab 66.1%,#56a9a9 67.7%,#58a7a7 69.4%,#5ba4a4 71.0%,#5da2a2 72.6%,#609f9f 74.2%,#629d9d 75.8%,#659a9a 77.4%,#679898 79.0%,#699696 80.6%,#6b9494 82.3%,#6d9292 83.9%,#6f9090 85.5%,#708f8f 87.1%,#728d8d 88.7%,#748b8b 90.3%,#758a8a 91.9%,#778888 93.5%,#788787 95.2%,#798686 96.8%,#7a8585 98.4%,#7b8484 100.0%)"></i>
<i style="background:linear-gradient(90deg,#00ffff 0.0%,#01fefe 1.6%,#02fdfd 3.2%,#03fcfc 4.8%,#04fbfb 6.5%,#05fafa 8.1%,#05fafa 9.7%,#06f9f9 11.3%,#07f8f8 12.9%,#08f7f7 14.5%,#09f6f6 16.1%,#0af5f5 17.7%,#0bf4f4 19.4%,#0cf3f3 21.0%,#0ef1f1 22.6%,#10efef 24.2%,#12eded 25.8%,#15eaea 27.4%,#17e8e8 29.0%,#19e6e6 30.6%,#1ce3e3 32.3%,#1ee1e1 33.9%,#20dfdf 35.5%,#23dcdc 37.1%,#25dada 38.7%,#28d7d7 40.3%,#2bd4d4 41.9%,#2dd2d2 43.5%,#30cfcf 45.2%,#32cdcd 46.8%,#35caca 48.4%,#37c8c8 50.0%,#39c6c6 51.6%,#3cc3c3 53.2%,#3fc0c0 54.8%,#43bcbc 56.5%,#47b8b8 58.1%,#4ab5b5 59.7%,#4db2b2 61.3%,#4fb0b0 62.9%,#52adad 64.5%,#54abab 66.1%,#56a9a9 67.7%,#58a7a7 69.4%,#5ba4a4 71.0%,#5da2a2 72.6%,#609f9f 74.2%,#629d9d 75.8%,#659a9a 77.4%,#679898 79.0%,#699696 80.6%,#6b9494 82.3%,#6d9292 83.9%,#6f9090 85.5%,#708f8f 87.1%,#728d8d 88.7%,#738c8c 90.3%,#758a8a 91.9%,#768989 93.5%,#788787 95.2%,#798686 96.8%,#7a8585 98.4%,#7b8484 100.0%)"></i>
<i style="background:linear-gradient(90deg,#00ffff 0.0%,#01fefe 1.6%,#02fdfd 3.2%,#03fcfc 4.8%,#04fbfb 6.5%,#05fafa 8.1%,#05fafa 9.7%,#06f9f9 11.3%,#07f8f8 12.9%,#08f7f7 14.5%,#09f6f6 16.1%,#0af5f5 17.7%,#0bf4f4 19.4%,#0cf3f3 21.0%,#0ef1f1 22.6%,#10efef 24.2%,#13ecec 25.8%,#15eaea 27.4%,#17e8e8 29.0%,#1ae5e5 30.6%,#1ce3e3 32.3%,#1ee1e1 33.9%,#20dfdf 35.5%,#23dcdc 37.1%,#26d9d9 38.7%,#28d7d7 40.3%,#2bd4d4 41.9%,#2ed1d1 43.5%,#30cfcf 45.2%,#33cccc 46.8%,#35caca 48.4%,#37c8c8 50.0%,#3ac5c5 51.6%,#3dc2c2 53.2%,#40bfbf 54.8%,#43bcbc 56.5%,#47b8b8 58.1%,#4ab5b5 59.7%,#4db2b2 61.3%,#50afaf 62.9%,#52adad 64.5%,#54abab 66.1%,#56a9a9 67.7%,#59a6a6 69.4%,#5ba4a4 71.0%,#5da2a2 72.6%,#609f9f 74.2%,#629d9d 75.8%,#659a9a 77.4%,#679898 79.0%,#699696 80.6%,#6b9494 82.3%,#6d9292 83.9%,#6e9191 85.5%,#708f8f 87.1%,#728d8d 88.7%,#738c8c 90.3%,#758a8a 91.9%,#768989 93.5%,#778888 95.2%,#798686 96.8%,#7a8585 98.4%,#7b8484 100.0%)"></i>
<i style="background:linear-gradient(90deg,#00ffff 0.0%,#01fefe 1.6%,#02fdfd 3.2%,#03fcfc 4.8%,#04fbfb 6.5%,#05fafa 8.1%,#05fafa 9.7%,#06f9f9 11.3%,#07f8f8 12.9%,#08f7f7 14.5%,#09f6f6 16.1%,#0af5f5 17.7%,#0bf4f4 19.4%,#0cf3f3 21.0%,#0ef1f1 22.6%,#10efef 24.2%,#13ecec 25.8%,#15eaea 27.4%,#17e8e8 29.0%,#1ae5e5 30.6%,#1ce3e3 32.3%,#1ee1e1 33.9%,#21dede 35.5%,#23dcdc 37.1%,#26d9d9 38.7%,#29d6d6 40.3%,#2bd4d4 41.9%,#2ed1d1 43.5%,#31cece 45.2%,#33cccc 46.8%,#35caca 48.4%,#38c7c7 50.0%,#3ac5c5 51.6%,#3dc2c2 53.2%,#40bfbf 54.8%,#44bbbb 56.5%,#47b8b8 58.1%,#4bb4b4 59.7%,#4eb1b1 61.3%,#50afaf 62.9%,#52adad 64.5%,#54abab 66.1%,#57a8a8 67.7%,#59a6a6 69.4%,#5ba4a4 71.0%,#5ea1a1 72.6%,#609f9f 74.2%,#629d9d 75.8%,#659a9a 77.4%,#679898 79.0%,#699696 80.6%,#6b9494 82.3%,#6d9292 83.9%,#6e9191 85.5%,#708f8f 87.1%,#728d8d 88.7%,#738c8c 90.3%,#758a8a 91.9%,#768989 93.5%,#778888 95.2%,#788787 96.8%,#7a8585 98.4%,#7b8484 100.0%)"></i>
<i style="background:linear-gradient(90deg,#00ffff 0.0%,#01fefe 1.6%,#02fdfd 3.2%,#03fcfc 4.8%,#04fbfb 6.5%,#05fafa 8.1%,#06f9f9 9.7%,#06f9f9 11.3%,#07f8f8 12.9%,#08f7f7 14.5%,#09f6f6 16.1%,#0af5f5 17.7%,#0bf4f4 19.4%,#0cf3f3 21.0%,#0ef1f1 22.6%,#10efef 24.2%,#13ecec 25.8%,#15eaea 27.4%,#17e8e8 29.0%,#1ae5e5 30.6%,#1ce3e3 32.3%,#1ee1e1 33.9%,#21dede 35.5%,#23dcdc 37.1%,#26d9d9 38.7%,#29d6d6 40.3%,#2cd3d3 41.9%,#2fd0d0 43.5%,#31cece 45.2%,#34cbcb 46.8%,#36c9c9 48.4%,#38c7c7 50.0%,#3ac5c5 51.6%,#3dc2c2 53.2%,#40bfbf 54.8%,#44bbbb 56.5%,#48b7b7 58.1%,#4cb3b3 59.7%,#4eb1b1 61.3%,#51aeae 62.9%,#53acac 64.5%,#55aaaa 66.1%,#57a8a8 67.7%,#59a6a6 69.4%,#5ba4a4 71.0%,#5ea1a1 72.6%,#609f9f 74.2%,#639c9c 75.8%,#659a9a 77.4%,#679898 79.0%,#699696 80.6%,#6b9494 82.3%,#6d9292 83.9%,#6e9191 85.5%,#708f8f 87.1%,#718e8e 88.7%,#738c8c 90.3%,#748b8b 91.9%,#768989 93.5%,#778888 95.2%,#788787 96.8%,#798686 98.4%,#7b8484 100.0%)"></i>
<i style="background:linear-gradient(90deg,#00ffff 0.0%,#01fefe 1.6%,#02fdfd 3.2%,#03fcfc 4.8%,#04fbfb 6.5%,#05fafa 8.1%,#06f9f9 9.7%,#06f9f9 11.3%,#07f8f8 12.9%,#08f7f7 14.5%,#09f6f6 16.1%,#0af5f5 17.7%,#0bf4f4 19.4%,#0cf3f3 21.0%,#0ef1f1 22.6%,#10efef 24.2%,#13ecec 25.8%,#15eaea 27.4%,#17e8e8 29.0%,#1ae5e5 30.6%,#1ce3e3 32.3%,#1fe0e0 33.9%,#21dede 35.5%,#24dbdb 37.1%,#26d9d9 38.7%,#29d6d6 40.3%,#2cd3d3 41.9%,#2fd0d0 43.5%,#32cdcd 45.2%,#34cbcb 46.8%,#36c9c9 48.4%,#38c7c7 50.0%,#3ac5c5 51.6%,#3dc2c2 53.2%,#40bfbf 54.8%,#44bbbb 56.5%,#48b7b7 58.1%,#4cb3b3 59.7%,#4fb0b0 61.3%,#51aeae 62.9%,#53acac 64.5%,#55aaaa 66.1%,#57a8a8 67.7%,#59a6a6 69.4%,#5ba4a4 71.0%,#5ea1a1 72.6%,#609f9f 74.2%,#639c9c 75.8%,#659a9a 77.4%,#679898 79.0%,#699696 80.6%,#6b9494 82.3%,#6c9393 83.9%,#6e9191 85.5%,#708f8f 87.1%,#718e8e 88.7%,#738c8c 90.3%,#748b8b 91.9%,#768989 93.5%,#778888 95.2%,#788787 96.8%,#798686 98.4%,#7a8585 100.0%)"></i>
<i style="background:linear-gradient(90deg,#00ffff 0.0%,#01fefe 1.6%,#02fdfd 3.2%,#03fcfc 4.8%,#04fbfb 6.5%,#05fafa 8.1%,#06f9f9 9.7%,#06f9f9 11.3%,#07f8f8 12.9%,#08f7f7 14.5%,#09f6f6 16.1%,#0af5f5 17.7%,#0bf4f4 19.4%,#0cf3f3 21.0%,#0ef1f1 22.6%,#10efef 24.2%,#13ecec 25.8%,#15eaea 27.4%,#18e7e7 29.0%,#1ae5e5 30.6%,#1ce3e3 32.3%,#1fe0e0 33.9%,#21dede 35.5%,#24dbdb 37.1%,#26d9d9 38.7%,#29d6d6 40.3%,#2cd3d3 41.9%,#2fd0d0 43.5%,#32cdcd 45.2%,#34cbcb 46.8%,#36c9c9 48.4%,#38c7c7 50.0%,#3ac5c5 51.6%,#3dc2c2 53.2%,#41bebe 54.8%,#45baba 56.5%,#49b6b6 58.1%,#4cb3b3 59.7%,#4fb0b0 61.3%,#52adad 62.9%,#53acac 64.5%,#55aaaa 66.1%,#57a8a8 67.7%,#59a6a6 69.4%,#5ba4a4 71.0%,#5ea1a1 72.6%,#609f9f 74.2%,#639c9c 75.8%,#659a9a 77.4%,#679898 79.0%,#699696 80.6%,#6b9494 82.3%,#6c9393 83.9%,#6e9191 85.5%,#708f8f 87.1%,#718e8e 88.7%,#738c8c 90.3%,#748b8b 91.9%,#758a8a 93.5%,#778888 95.2%,#788787 96.8%,#798686 98.4%,#7a8585 100.0%)"></i>
<i style="background:linear-gradient(90deg,#00ffff 0.0%,#01fefe 1.6%,#02fdfd 3.2%,#03fcfc 4.8%,#04fbfb 6.5%,#05fafa 8.1%,#06f9f9 9.7%,#06f9f9 11.3%,#07f8f8 12.9%,#08f7f7 14.5%,#09f6f6 16.1%,#0af5f5 17.7%,#0bf4f4 19.4%,#0cf3f3 21.0%,#0ef1f1 22.6%,#10efef 24.2%,#13ecec 25.8%,#15eaea 27.4%,#18e7e7 29.0%,#1ae5e5 30.6%,#1ce3e3 32.3%,#1fe0e0 33.9%,#21dede 35.5%,#24dbdb 37.1%,#27d8d8 38.7%,#29d6d6 40.3%,#2cd3d3 41.9%,#2fd0d0 43.5%,#32cdcd 45.2%,#35caca 46.8%,#36c9c9 48.4%,#38c7c7 50.0%,#3bc4c4 51.6%,#3dc2c2 53.2%,#41bebe 54.8%,#45baba 56.5%,#49b6b6 58.1%,#4db2b2 59.7%,#50afaf 61.3%,#52adad 62.9%,#54abab 64.5%,#55aaaa 66.1%,#57a8a8 67.7%,#59a6a6 69.4%,#5ca3a3 71.0%,#5ea1a1 72.6%,#609f9f 74.2%,#639c9c 75.8%,#659a9a 77.4%,#679898 79.0%,#699696 80.6%,#6b9494 82.3%,#6c9393 83.9%,#6e9191 85.5%,#708f8f 87.1%,#718e8e 88.7%,#738c8c 90.3%,#748b8b 91.9%,#758a8a 93.5%,#778888 95.2%,#788787 96.8%,#798686 98.4%,#7a8585 100.0%)"></i>
<i style="background:linear-gradient(90deg,#00ffff 0.0%,#01fefe 1.6%,#02fdfd 3.2%,#03fcfc 4.8%,#04fbfb 6.5%,#05fafa 8.1%,#06f9f9 9.7%,#06f9f9 11.3%,#07f8f8 12.9%,#08f7f7 14.5%,#09f6f6 16.1%,#0af5f5 17.7%,#0bf4f4 19.4%,#0cf3f3 21.0%,#0ef1f1 22.6%,#10efef 24.2%,#13ecec 25.8%,#15eaea 27.4%,#18e7e7 29.0%,#1ae5e5 30.6%,#1ce3e3 32.3%,#1fe0e0 33.9%,#21dede 35.5%,#24dbdb 37.1%,#27d8d8 38.7%,#2ad5d5 40.3%,#2dd2d2 41.9%,#30cfcf 43.5%,#33cccc 45.2%,#35caca 46.8%,#37c8c8 48.4%,#39c6c6 50.0%,#3bc4c4 51.6%,#3dc2c2 53.2%,#41bebe 54.8%,#45baba 56.5%,#49b6b6 58.1%,#4db2b2 59.7%,#50afaf 61.3%,#52adad 62.9%,#54abab 64.5%,#56a9a9 66.1%,#57a8a8 67.7%,#59a6a6 69.4%,#5ca3a3 71.0%,#5ea1a1 72.6%,#609f9f 74.2%,#639c9c 75.8%,#659a9a 77.4%,#679898 79.0%,#699696 80.6%,#6b9494 82.3%,#6c9393 83.9%,#6e9191 85.5%,#708f8f 87.1%,#718e8e 88.7%,#738c8c 90.3%,#748b8b 91.9%,#758a8a 93.5%,#768989 95.2%,#788787 96.8%,#798686 98.4%,#7a8585 100.0%)"></i>
<i style="background:linear-gradient(90deg,#00ffff 0.0%,#01fefe 1.6%,#02fdfd 3.2%,#03fcfc 4.8%,#04fbfb 6.5%,#05fafa 8.1%,#06f9f9 9.7%,#06f9f9 11.3%,#07f8f8 12.9%,#08f7f7 14.5%,#09f6f6 16.1%,#0af5f5 17.7%,#0bf4f4 19.4%,#0cf3f3 21.0%,#0ef1f1 22.6%,#10efef 24.2%,#13ecec 25.8%,#15eaea 27.4%,#18e7e7 29.0%,#1ae5e5 30.6%,#1ce3e3 32.3%,#1fe0e0 33.9%,#21dede 35.5%,#24dbdb 37.1%,#27d8d8 38.7%,#2ad5d5 40.3%,#2dd2d2 41.9%,#30cfcf 43.5%,#33cccc 45.2%,#35caca 46.8%,#37c8c8 48.4%,#39c6c6 50.0%,#3bc4c4 51.6%,#3dc2c2 53.2%,#41bebe 54.8%,#45baba 56.5%,#4ab5b5 58.1%,#4eb1b1 59.7%,#51aeae 61.3%,#53acac 62.9%,#54abab 64.5%,#56a9a9 66.1%,#57a8a8 67.7%,#59a6a6 69.4%,#5ca3a3 71.0%,#5ea1a1 72.6%,#609f9f 74.2%,#639c9c 75.8%,#659a9a 77.4%,#679898 79.0%,#699696 80.6%,#6b9494 82.3%,#6c9393 83.9%,#6e9191 85.5%,#6f9090 87.1%,#718e8e 88.7%,#728d8d 90.3%,#748b8b 91.9%,#758a8a 93.5%,#768989 95.2%,#778888 96.8%,#798686 98.4%,#7a8585 100.0%)"></i>
<i style="background:linear-gradient(90deg,#00ffff 0.0%,#01fefe 1.6%,#02fdfd 3.2%,#03fcfc 4.8%,#04fbfb 6.5%,#05fafa 8.1%,#06f9f9 9.7%,#06f9f9 11.3%,#07f8f8 12.9%,#08f7f7 14.5%,#09f6f6 16.1%,#0af5f5 17.7%,#0bf4f4 19.4%,#0cf3f3 21.0%,#0ef1f1 22.6%,#10efef 24.2%,#13ecec 25.8%,#15eaea 27.4%,#18e7e7 29.0%,#1ae5e5 30.6%,#1de2e2 32.3%,#1fe0e0 33.9%,#21dede 35.5%,#24dbdb 37.1%,#27d8d8 38.7%,#2ad5d5 40.3%,#2dd2d2 41.9%,#30cfcf 43.5%,#33cccc 45.2%,#35caca 46.8%,#37c8c8 48.4%,#39c6c6 50.0%,#3bc4c4 51.6%,#3dc2c2 53.2%,#40bfbf 54.8%,#45baba 56.5%,#4ab5b5 58.1%,#4eb1b1 59.7%,#51aeae 61.3%,#53acac 62.9%,#54abab 64.5%,#56a9a9 66.1%,#58a7a7 67.7%,#59a6a6 69.4%,#5ca3a3 71.0%,#5ea1a1 72.6%,#619e9e 74.2%,#639c9c 75.8%,#659a9a 77.4%,#679898 79.0%,#699696 80.6%,#6b9494 82.3%,#6c9393 83.9%,#6e9191 85.5%,#6f9090 87.1%,#718e8e 88.7%,#728d8d 90.3%,#748b8b 91.9%,#758a8a 93.5%,#768989 95.2%,#778888 96.8%,#788787 98.4%,#798686 100.0%)"></i>
<i style="background:linear-gradient(90deg,#00ffff 0.0%,#01fefe 1.6%,#02fdfd 3.2%,#03fcfc 4.8%,#04fbfb 6.5%,#05fafa 8.1%,#06f9f9 9.7%,#07f8f8 11.3%,#07f8f8 12.9%,#08f7f7 14.5%,#09f6f6 16.1%,#09f6f6 17.7%,#0bf4f4 19.4%,#0cf3f3 21.0%,#0ef1f1 22.6%,#10efef 24.2%,#13ecec 25.8%,#15eaea 27.4%,#18e7e7 29.0%,#1ae5e5 30.6%,#1de2e2 32.3%,#1fe0e0 33.9%,#21dede 35.5%,#24dbdb 37.1%,#27d8d8 38.7%,#2ad5d5 40.3%,#2dd2d2 41.9%,#30cfcf 43.5%,#33cccc 45.2%,#35caca 46.8%,#37c8c8 48.4%,#39c6c6 50.0%,#3bc4c4 51.6%,#3dc2c2 53.2%,#40bfbf 54.8%,#45baba 56.5%,#4ab5b5 58.1%,#4fb0b0 59.7%,#51aeae 61.3%,#53acac 62.9%,#55aaaa 64.5%,#56a9a9 66.1%,#58a7a7 67.7%,#5aa5a5 69.4%,#5ca3a3 71.0%,#5ea1a1 72.6%,#619e9e 74.2%,#639c9c 75.8%,#659a9a 77.4%,#679898 79.0%,#699696 80.6%,#6b9494 82.3%,#6c9393 83.9%,#6e9191 85.5%,#6f9090 87.1%,#718e8e 88.7%,#728d8d 90.3%,#748b8b 91.9%,#758a8a 93.5%,#768989 95.2%,#778888 96.8%,#788787 98.4%,#798686 100.0%)"></i>
<i style="background:linear-gradient(90deg,#00ffff 0.0%,#01fefe 1.6%,#02fdfd 3.2%,#03fcfc 4.8%,#04fbfb 6.5%,#05fafa 8.1%,#06f9f9 9.7%,#07f8f8 11.3%,#07f8f8 12.9%,#08f7f7 14.5%,#09f6f6 16.1%,#09f6f6 17.7%,#0bf4f4 19.4%,#0cf3f3 21.0%,#0ef1f1 22.6%,#10efef 24.2%,#13ecec 25.8%,#15eaea 27.4%,#18e7e7 29.0%,#1ae5e5 30.6%,#1de2e2 32.3%,#1fe0e0 33.9%,#21dede 35.5%,#24dbdb 37.1%,#27d8d8 38.7%,#2ad5d5 40.3%,#2dd2d2 41.9%,#30cfcf 43.5%,#33cccc 45.2%,#36c9c9 46.8%,#37c8c8 48.4%,#39c6c6 50.0%,#3bc4c4 51.6%,#3dc2c2 53.2%,#40bfbf 54.8%,#45baba 56.5%,#4ab5b5 58.1%,#4fb0b0 59.7%,#52adad 61.3%,#53acac 62.9%,#55aaaa 64.5%,#56a9a9 66.1%,#58a7a7 67.7%,#5aa5a5 69.4%,#5ca3a3 71.0%,#5ea1a1 72.6%,#619e9e 74.2%,#639c9c 75.8%,#659a9a 77.4%,#679898 79.0%,#699696 80.6%,#6b9494 82.3%,#6c9393 83.9%,#6e9191 85.5%,#6f9090 87.1%,#718e8e 88.7%,#728d8d 90.3%,#748b8b 91.9%,#758a8a 93.5%,#768989 95.2%,#778888 96.8%,#788787 98.4%,#798686 100.0%)"></i>
<i style="background:linear-gradient(90deg,#00ffff 0.0%,#01fefe 1.6%,#02fdfd 3.2%,#03fcfc 4.8%,#04fbfb 6.5%,#05fafa 8.1%,#06f9f9 9.7%,#07f8f8 11.3%,#07f8f8 12.9%,#08f7f7 14.5%,#08f7f7 16.1%,#09f6f6 17.7%,#0bf4f4 19.4%,#0cf3f3 21.0%,#0ef1f1 22.6%,#10efef 24.2%,#13ecec 25.8%,#15eaea 27.4%,#18e7e7 29.0%,#1ae5e5 30.6%,#1de2e2 32.3%,#1fe0e0 33.9%,#21dede 35.5%,#24dbdb 37.1%,#27d8d8 38.7%,#2ad5d5 40.3%,#2dd2d2 41.9%,#31cece 43.5%,#33cccc 45.2%,#36c9c9 46.8%,#37c8c8 48.4%,#39c6c6 50.0%,#3ac5c5 51.6%,#3cc3c3 53.2%,#40bfbf 54.8%,#44bbbb 56.5%,#4ab5b5 58.1%,#4fb0b0 59.7%,#52adad 61.3%,#53acac 62.9%,#55aaaa 64.5%,#56a9a9 66.1%,#57a8a8 67.7%,#59a6a6 69.4%,#5ca3a3 71.0%,#5ea1a1 72.6%,#619e9e 74.2%,#639c9c 75.8%,#659a9a 77.4%,#679898 79.0%,#699696 80.6%,#6b9494 82.3%,#6c9393 83.9%,#6e9191 85.5%,#6f9090 87.1%,#718e8e 88.7%,#728d8d 90.3%,#748b8b 91.9%,#758a8a 93.5%,#768989 95.2%,#778888 96.8%,#788787 98.4%,#798686 100.0%)"></i>
<i style="background:linear-gradient(90deg,#00ffff 0.0%,#01fefe 1.6%,#02fdfd 3.2%,#03fcfc 4.8%,#04fbfb 6.5%,#05fafa 8.1%,#06f9f9 9.7%,#07f8f8 11.3%,#07f8f8 12.9%,#08f7f7 14.5%,#08f7f7 16.1%,#09f6f6 17.7%,#0af5f5 19.4%,#0cf3f3 21.0%,#0ef1f1 22.6%,#10efef 24.2%,#13ecec 25.8%,#15eaea 27.4%,#18e7e7 29.0%,#1ae5e5 30.6%,#1de2e2 32.3%,#1fe0e0 33.9%,#21dede 35.5%,#24dbdb 37.1%,#27d8d8 38.7%,#2ad5d5 40.3%,#2dd2d2 41.9%,#31cece 43.5%,#33cccc 45.2%,#36c9c9 46.8%,#38c7c7 48.4%,#39c6c6 50.0%,#3ac5c5 51.6%,#3cc3c3 53.2%,#3fc0c0 54.8%,#44bbbb 56.5%,#4ab5b5 58.1%,#4fb0b0 59.7%,#52adad 61.3%,#53acac 62.9%,#55aaaa 64.5%,#56a9a9 66.1%,#57a8a8 67.7%,#59a6a6 69.4%,#5ca3a3 71.0%,#5ea1a1 72.6%,#619e9e 74.2%,#639c9c 75.8%,#659a9a 77.4%,#679898 79.0%,#699696 80.6%,#6b9494 82.3%,#6c9393 83.9%,#6e9191 85.5%,#6f9090 87.1%,#718e8e 88.7%,#728d8d 90.3%,#738c8c 91.9%,#758a8a 93.5%,#768989 95.2%,#778888 96.8%,#788787 98.4%,#798686 100.0%)"></i>
<i style="background:linear-gradient(90deg,#00ffff 0.0%,#01fefe 1.6%,#02fdfd 3.2%,#03fcfc 4.8%,#04fbfb 6.5%,#05fafa 8.1%,#06f9f9 9.7%,#07f8f8 11.3%,#07f8f8 12.9%,#08f7f7 14.5%,#08f7f7 16.1%,#09f6f6 17.7%,#0af5f5 19.4%,#0cf3f3 21.0%,#0ef1f1 22.6%,#10efef 24.2%,#13ecec 25.8%,#15eaea 27.4%,#18e7e7 29.0%,#1ae5e5 30.6%,#1ce3e3 32.3%,#1fe0e0 33.9%,#21dede 35.5%,#24dbdb 37.1%,#27d8d8 38.7%,#2ad5d5 40.3%,#2ed1d1 41.9%,#31cece 43.5%,#34cbcb 45.2%,#36c9c9 46.8%,#38c7c7 48.4%,#39c6c6 50.0%,#3ac5c5 51.6%,#3cc3c3 53.2%,#3fc0c0 54.8%,#43bcbc 56.5%,#4ab5b5 58.1%,#4fb0b0 59.7%,#52adad 61.3%,#53acac 62.9%,#55aaaa 64.5%,#56a9a9 66.1%,#57a8a8 67.7%,#59a6a6 69.4%,#5ca3a3 71.0%,#5ea1a1 72.6%,#619e9e 74.2%,#639c9c 75.8%,#659a9a 77.4%,#679898 79.0%,#699696 80.6%,#6b9494 82.3%,#6c9393 83.9%,#6e9191 85.5%,#6f9090 87.1%,#718e8e 88.7%,#728d8d 90.3%,#738c8c 91.9%,#758a8a 93.5%,#768989 95.2%,#778888 96.8%,#788787 98.4%,#788787 100.0%)"></i>
<i style="background:linear-gradient(90deg,#00ffff 0.0%,#01fefe 1.6%,#02fdfd 3.2%,#03fcfc 4.8%,#04fbfb 6.5%,#05fafa 8.1%,#06f9f9 9.7%,#07f8f8 11.3%,#07f8f8 12.9%,#08f7f7 14.5%,#08f7f7 16.1%,#09f6f6 17.7%,#0af5f5 19.4%,#0cf3f3 21.0%,#0ef1f1 22.6%,#10efef 24.2%,#13ecec 25.8%,#15eaea 27.4%,#18e7e7 29.0%,#1ae5e5 30.6%,#1ce3e3 32.3%,#1fe0e0 33.9%,#21dede 35.5%,#24dbdb 37.1%,#27d8d8 38.7%,#2ad5d5 40.3%,#2ed1d1 41.9%,#31cece 43.5%,#34cbcb 45.2%,#36c9c9 46.8%,#38c7c7 48.4%,#39c6c6 50.0%,#3ac5c5 51.6%,#3bc4c4 53.2%,#3ec1c1 54.8%,#43bcbc 56.5%,#4ab5b5 58.1%,#4fb0b0 59.7%,#52adad 61.3%,#53acac 62.9%,#54abab 64.5%,#56a9a9 66.1%,#57a8a8 67.7%,#59a6a6 69.4%,#5ca3a3 71.0%,#5ea1a1 72.6%,#619e9e 74.2%,#639c9c 75.8%,#659a9a 77.4%,#679898 79.0%,#699696 80.6%,#6b9494 82.3%,#6c9393 83.9%,#6e9191 85.5%,#6f9090 87.1%,#718e8e 88.7%,#728d8d 90.3%,#738c8c 91.9%,#758a8a 93.5%,#768989 95.2%,#778888 96.8%,#778888 98.4%,#788787 100.0%)"></i>
<i style="background:linear-gradient(90deg,#00ffff 0.0%,#01fefe 1.6%,#02fdfd 3.2%,#03fcfc 4.8%,#04fbfb 6.5%,#05fafa 8.1%,#06f9f9 9.7%,#07f8f8 11.3%,#07f8f8 12.9%,#08f7f7 14.5%,#08f7f7 16.1%,#09f6f6 17.7%,#0af5f5 19.4%,#0cf3f3 21.0%,#0ef1f1 22.6%,#10efef 24.2%,#12eded 25.8%,#15eaea 27.4%,#18e7e7 29.0%,#1ae5e5 30.6%,#1ce3e3 32.3%,#1fe0e0 33.9%,#21dede 35.5%,#24dbdb 37.1%,#27d8d8 38.7%,#2ad5d5 40.3%,#2ed1d1 41.9%,#31cece 43.5%,#34cbcb 45.2%,#36c9c9 46.8%,#38c7c7 48.4%,#39c6c6 50.0%,#3ac5c5 51.6%,#3bc4c4 53.2%,#3dc2c2 54.8%,#42bdbd 56.5%,#4ab5b5 58.1%,#4fb0b0 59.7%,#52adad 61.3%,#53acac 62.9%,#54abab 64.5%,#55aaaa 66.1%,#57a8a8 67.7%,#59a6a6 69.4%,#5ca3a3 71.0%,#5ea1a1 72.6%,#619e9e 74.2%,#639c9c 75.8%,#659a9a 77.4%,#679898 79.0%,#699696 80.6%,#6a9595 82.3%,#6c9393 83.9%,#6e9191 85.5%,#6f9090 87.1%,#718e8e 88.7%,#728d8d 90.3%,#738c8c 91.9%,#758a8a 93.5%,#768989 95.2%,#768989 96.8%,#778888 98.4%,#788787 100.0%)"></i>
<i style="background:linear-gradient(90deg,#00ffff 0.0%,#01fefe 1.6%,#02fdfd 3.2%,#03fcfc 4.8%,#04fbfb 6.5%,#05fafa 8.1%,#06f9f9 9.7%,#07f8f8 11.3%,#07f8f8 12.9%,#08f7f7 14.5%,#08f7f7 16.1%,#09f6f6 17.7%,#0af5f5 19.4%,#0cf3f3 21.0%,#0ef1f1 22.6%,#10efef 24.2%,#12eded 25.8%,#15eaea 27.4%,#18e7e7 29.0%,#1ae5e5 30.6%,#1ce3e3 32.3%,#1fe0e0 33.9%,#21dede 35.5%,#24dbdb 37.1%,#27d8d8 38.7%,#2ad5d5 40.3%,#2ed1d1 41.9%,#31cece 43.5%,#34cbcb 45.2%,#36c9c9 46.8%,#38c7c7 48.4%,#39c6c6 50.0%,#3ac5c5 51.6%,#3bc4c4 53.2%,#3dc2c2 54.8%,#41bebe 56.5%,#49b6b6 58.1%,#4fb0b0 59.7%,#51aeae 61.3%,#53acac 62.9%,#54abab 64.5%,#55aaaa 66.1%,#57a8a8 67.7%,#59a6a6 69.4%,#5ca3a3 71.0%,#5ea1a1 72.6%,#619e9e 74.2%,#639c9c 75.8%,#659a9a 77.4%,#679898 79.0%,#699696 80.6%,#6a9595 82.3%,#6c9393 83.9%,#6d9292 85.5%,#6f9090 87.1%,#718e8e 88.7%,#728d8d 90.3%,#738c8c 91.9%,#748b8b 93.5%,#758a8a 95.2%,#768989 96.8%,#778888 98.4%,#788787 100.0%)"></i>
<i style="background:linear-gradient(90deg,#00ffff 0.0%,#01fefe 1.6%,#02fdfd 3.2%,#03fcfc 4.8%,#04fbfb 6.5%,#05fafa 8.1%,#06f9f9 9.7%,#07f8f8 11.3%,#07f8f8 12.9%,#08f7f7 14.5%,#08f7f7 16.1%,#09f6f6 17.7%,#0af5f5 19.4%,#0cf3f3 21.0%,#0ef1f1 22.6%,#10efef 24.2%,#12eded 25.8%,#15eaea 27.4%,#18e7e7 29.0%,#1ae5e5 30.6%,#1ce3e3 32.3%,#1fe0e0 33.9%,#21dede 35.5%,#24dbdb 37.1%,#27d8d8 38.7%,#2ad5d5 40.3%,#2ed1d1 41.9%,#31cece 43.5%,#34cbcb 45.2%,#36c9c9 46.8%,#38c7c7 48.4%,#39c6c6 50.0%,#3ac5c5 51.6%,#3ac5c5 53.2%,#3cc3c3 54.8%,#40bfbf 56.5%,#48b7b7 58.1%,#4eb1b1 59.7%,#51aeae 61.3%,#53acac 62.9%,#54abab 64.5%,#55aaaa 66.1%,#57a8a8 67.7%,#59a6a6 69.4%,#5ca3a3 71.0%,#5ea1a1 72.6%,#619e9e 74.2%,#639c9c 75.8%,#659a9a 77.4%,#679898 79.0%,#699696 80.6%,#6a9595 82.3%,#6c9393 83.9%,#6d9292 85.5%,#6f9090 87.1%,#708f8f 88.7%,#728d8d 90.3%,#738c8c 91.9%,#748b8b 93.5%,#758a8a 95.2%,#768989 96.8%,#778888 98.4%,#788787 100.0%)"></i>
<i style="background:linear-gradient(90deg,#00ffff 0.0%,#01fefe 1.6%,#02fdfd 3.2%,#03fcfc 4.8%,#05fafa 6.5%,#06f9f9 8.1%,#06f9f9 9.7%,#07f8f8 11.3%,#07f8f8 12.9%,#08f7f7 14.5%,#08f7f7 16.1%,#09f6f6 17.7%,#0af5f5 19.4%,#0bf4f4 21.0%,#0df2f2 22.6%,#10efef 24.2%,#12eded 25.8%,#15eaea 27.4%,#18e7e7 29.0%,#1ae5e5 30.6%,#1ce3e3 32.3%,#1fe0e0 33.9%,#21dede 35.5%,#24dbdb 37.1%,#27d8d8 38.7%,#2ad5d5 40.3%,#2dd2d2 41.9%,#31cece 43.5%,#34cbcb 45.2%,#36c9c9 46.8%,#38c7c7 48.4%,#39c6c6 50.0%,#39c6c6 51.6%,#3ac5c5 53.2%,#3cc3c3 54.8%,#3fc0c0 56.5%,#47b8b8 58.1%,#4db2b2 59.7%,#50afaf 61.3%,#52adad 62.9%,#53acac 64.5%,#55aaaa 66.1%,#57a8a8 67.7%,#59a6a6 69.4%,#5ba4a4 71.0%,#5ea1a1 72.6%,#619e9e 74.2%,#639c9c 75.8%,#659a9a 77.4%,#679898 79.0%,#699696 80.6%,#6a9595 82.3%,#6c9393 83.9%,#6d9292 85.5%,#6f9090 87.1%,#708f8f 88.7%,#728d8d 90.3%,#738c8c 91.9%,#748b8b 93.5%,#758a8a 95.2%,#768989 96.8%,#778888 98.4%,#788787 100.0%)"></i>
<i style="background:linear-gradient(90deg,#00ffff 0.0%,#01fefe 1.6%,#02fdfd 3.2%,#03fcfc 4.8%,#05fafa 6.5%,#06f9f9 8.1%,#06f9f9 9.7%,#07f8f8 11.3%,#07f8f8 12.9%,#08f7f7 14.5%,#08f7f7 16.1%,#09f6f6 17.7%,#0af5f5 19.4%,#0bf4f4 21.0%,#0df2f2 22.6%,#10efef 24.2%,#12eded 25.8%,#15eaea 27.4%,#17e8e8 29.0%,#1ae5e5 30.6%,#1ce3e3 32.3%,#1fe0e0 33.9%,#21dede 35.5%,#24dbdb 37.1%,#27d8d8 38.7%,#2ad5d5 40.3%,#2dd2d2 41.9%,#31cece 43.5%,#34cbcb 45.2%,#36c9c9 46.8%,#38c7c7 48.4%,#39c6c6 50.0%,#39c6c6 51.6%,#3ac5c5 53.2%,#3bc4c4 54.8%,#3ec1c1 56.5%,#46b9b9 58.1%,#4cb3b3 59.7%,#50afaf 61.3%,#52adad 62.9%,#53acac 64.5%,#55aaaa 66.1%,#56a9a9 67.7%,#59a6a6 69.4%,#5ba4a4 71.0%,#5ea1a1 72.6%,#619e9e 74.2%,#639c9c 75.8%,#659a9a 77.4%,#679898 79.0%,#699696 80.6%,#6a9595 82.3%,#6c9393 83.9%,#6d9292 85.5%,#6f9090 87.1%,#708f8f 88.7%,#728d8d 90.3%,#738c8c 91.9%,#748b8b 93.5%,#758a8a 95.2%,#768989 96.8%,#778888 98.4%,#788787 100.0%)"></i>
<i style="background:linear-gradient(90deg,#00ffff 0.0%,#01fefe 1.6%,#02fdfd 3.2%,#03fcfc 4.8%,#05fafa 6.5%,#06f9f9 8.1%,#06f9f9 9.7%,#07f8f8 11.3%,#07f8f8 12.9%,#08f7f7 14.5%,#08f7f7 16.1%,#09f6f6 17.7%,#0af5f5 19.4%,#0bf4f4 21.0%,#0df2f2 22.6%,#10efef 24.2%,#12eded 25.8%,#15eaea 27.4%,#17e8e8 29.0%,#1ae5e5 30.6%,#1ce3e3 32.3%,#1fe0e0 33.9%,#21dede 35.5%,#24dbdb 37.1%,#27d8d8 38.7%,#2ad5d5 40.3%,#2dd2d2 41.9%,#31cece 43.5%,#34cbcb 45.2%,#36c9c9 46.8%,#38c7c7 48.4%,#39c6c6 50.0%,#39c6c6 51.6%,#3ac5c5 53.2%,#3bc4c4 54.8%,#3ec1c1 56.5%,#45baba 58.1%,#4cb3b3 59.7%,#4fb0b0 61.3%,#51aeae 62.9%,#53acac 64.5%,#54abab 66.1%,#56a9a9 67.7%,#59a6a6 69.4%,#5ba4a4 71.0%,#5ea1a1 72.6%,#619e9e 74.2%,#639c9c 75.8%,#659a9a 77.4%,#679898 79.0%,#699696 80.6%,#6a9595 82.3%,#6c9393 83.9%,#6d9292 85.5%,#6f9090 87.1%,#708f8f 88.7%,#728d8d 90.3%,#738c8c 91.9%,#748b8b 93.5%,#758a8a 95.2%,#768989 96.8%,#778888 98.4%,#778888 100.0%)"></i>
<i style="background:linear-gradient(90deg,#00ffff 0.0%,#01fefe 1.6%,#02fdfd 3.2%,#03fcfc 4.8%,#05fafa 6.5%,#06f9f9 8.1%,#07f8f8 9.7%,#07f8f8 11.3%,#07f8f8 12.9%,#08f7f7 14.5%,#08f7f7 16.1%,#09f6f6 17.7%,#0af5f5 19.4%,#0bf4f4 21.0%,#0df2f2 22.6%,#10efef 24.2%,#12eded 25.8%,#15eaea 27.4%,#17e8e8 29.0%,#1ae5e5 30.6%,#1ce3e3 32.3%,#1ee1e1 33.9%,#21dede 35.5%,#24dbdb 37.1%,#26d9d9 38.7%,#2ad5d5 40.3%,#2dd2d2 41.9%,#31cece 43.5%,#34cbcb 45.2%,#36c9c9 46.8%,#38c7c7 48.4%,#39c6c6 50.0%,#39c6c6 51.6%,#39c6c6 53.2%,#3bc4c4 54.8%,#3ec1c1 56.5%,#44bbbb 58.1%,#4bb4b4 59.7%,#4fb0b0 61.3%,#51aeae 62.9%,#53acac 64.5%,#54abab 66.1%,#56a9a9 67.7%,#59a6a6 69.4%,#5ba4a4 71.0%,#5ea1a1 72.6%,#609f9f 74.2%,#639c9c 75.8%,#659a9a 77.4%,#679898 79.0%,#699696 80.6%,#6a9595 82.3%,#6c9393 83.9%,#6d9292 85.5%,#6f9090 87.1%,#708f8f 88.7%,#728d8d 90.3%,#738c8c 91.9%,#748b8b 93.5%,#758a8a 95.2%,#768989 96.8%,#768989 98.4%,#778888 100.0%)"></i>
<i style="background:linear-gradient(90deg,#00ffff 0.0%,#01fefe 1.6%,#02fdfd 3.2%,#03fcfc 4.8%,#05fafa 6.5%,#06f9f9 8.1%,#07f8f8 9.7%,#07f8f8 11.3%,#07f8f8 12.9%,#08f7f7 14.5%,#08f7f7 16.1%,#09f6f6 17.7%,#0af5f5 19.4%,#0bf4f4 21.0%,#0df2f2 22.6%,#10efef 24.2%,#12eded 25.8%,#15eaea 27.4%,#17e8e8 29.0%,#1ae5e5 30.6%,#1ce3e3 32.3%,#1ee1e1 33.9%,#21dede 35.5%,#23dcdc 37.1%,#26d9d9 38.7%,#2ad5d5 40.3%,#2dd2d2 41.9%,#31cece 43.5%,#34cbcb 45.2%,#36c9c9 46.8%,#38c7c7 48.4%,#39c6c6 50.0%,#39c6c6 51.6%,#39c6c6 53.2%,#3bc4c4 54.8%,#3dc2c2 56.5%,#44bbbb 58.1%,#4ab5b5 59.7%,#4eb1b1 61.3%,#50afaf 62.9%,#52adad 64.5%,#54abab 66.1%,#56a9a9 67.7%,#58a7a7 69.4%,#5ba4a4 71.0%,#5ea1a1 72.6%,#609f9f 74.2%,#639c9c 75.8%,#659a9a 77.4%,#679898 79.0%,#699696 80.6%,#6a9595 82.3%,#6c9393 83.9%,#6d9292 85.5%,#6f9090 87.1%,#708f8f 88.7%,#728d8d 90.3%,#738c8c 91.9%,#748b8b 93.5%,#758a8a 95.2%,#768989 96.8%,#768989 98.4%,#778888 100.0%)"></i>
<i style="background:linear-gradient(90deg,#00ffff 0.0%,#01fefe 1.6%,#02fdfd 3.2%,#03fcfc 4.8%,#05fafa 6.5%,#06f9f9 8.1%,#07f8f8 9.7%,#07f8f8 11.3%,#07f8f8 12.9%,#08f7f7 14.5%,#08f7f7 16.1%,#09f6f6 17.7%,#0af5f5 19.4%,#0bf4f4 21.0%,#0df2f2 22.6%,#10efef 24.2%,#12eded 25.8%,#15eaea 27.4%,#17e8e8 29.0%,#1ae5e5 30.6%,#1ce3e3 32.3%,#1ee1e1 33.9%,#21dede 35.5%,#23dcdc 37.1%,#26d9d9 38.7%,#2ad5d5 40.3%,#2dd2d2 41.9%,#31cece 43.5%,#34cbcb 45.2%,#36c9c9 46.8%,#38c7c7 48.4%,#39c6c6 50.0%,#39c6c6 51.6%,#39c6c6 53.2%,#3ac5c5 54.8%,#3dc2c2 56.5%,#43bcbc 58.1%,#49b6b6 59.7%,#4db2b2 61.3%,#50afaf 62.9%,#52adad 64.5%,#54abab 66.1%,#56a9a9 67.7%,#58a7a7 69.4%,#5ba4a4 71.0%,#5ea1a1 72.6%,#609f9f 74.2%,#639c9c 75.8%,#659a9a 77.4%,#679898 79.0%,#689797 80.6%,#6a9595 82.3%,#6c9393 83.9%,#6d9292 85.5%,#6f9090 87.1%,#708f8f 88.7%,#728d8d 90.3%,#738c8c 91.9%,#748b8b 93.5%,#758a8a 95.2%,#768989 96.8%,#768989 98.4%,#778888 100.0%)"></i>
<i style="background:linear-gradient(90deg,#00ffff 0.0%,#01fefe 1.6%,#02fdfd 3.2%,#03fcfc 4.8%,#05fafa 6.5%,#06f9f9 8.1%,#07f8f8 9.7%,#07f8f8 11.3%,#08f7f7 12.9%,#08f7f7 14.5%,#08f7f7 16.1%,#09f6f6 17.7%,#0af5f5 19.4%,#0bf4f4 21.0%,#0df2f2 22.6%,#10efef 24.2%,#12eded 25.8%,#15eaea 27.4%,#17e8e8 29.0%,#1ae5e5 30.6%,#1ce3e3 32.3%,#1ee1e1 33.9%,#21dede 35.5%,#23dcdc 37.1%,#26d9d9 38.7%,#2ad5d5 40.3%,#2dd2d2 41.9%,#30cfcf 43.5%,#34cbcb 45.2%,#36c9c9 46.8%,#38c7c7 48.4%,#39c6c6 50.0%,#39c6c6 51.6%,#39c6c6 53.2%,#3ac5c5 54.8%,#3dc2c2 56.5%,#43bcbc 58.1%,#48b7b7 59.7%,#4db2b2 61.3%,#4fb0b0 62.9%,#52adad 64.5%,#54abab 66.1%,#56a9a9 67.7%,#58a7a7 69.4%,#5ba4a4 71.0%,#5da2a2 72.6%,#609f9f 74.2%,#639c9c 75.8%,#659a9a 77.4%,#679898 79.0%,#689797 80.6%,#6a9595 82.3%,#6c9393 83.9%,#6d9292 85.5%,#6f9090 87.1%,#708f8f 88.7%,#728d8d 90.3%,#738c8c 91.9%,#748b8b 93.5%,#758a8a 95.2%,#768989 96.8%,#768989 98.4%,#778888 100.0%)"></i>
</div>
<svg width="658" height="469" viewBox="0 0 658 469" style="position:absolute;left:0;top:0" font-family='"Liberation Sans", sans-serif' fill="#000">
<defs><clipPath id="ax"><rect x="60.5" y="30.5" width="496" height="385"/></clipPath><clipPath id="lc"><polygon points="211.0,30.0 211.0,32.0 220.6,34.4 231.8,36.8 235.0,42.4 238.2,52.0 240.6,61.6 247.8,68.0 255.7,73.6 257.3,79.2 254.9,84.0 254.9,92.0 253.7,98.2 243.3,109.4 234.6,119.0 213.8,140.6 209.0,142.6 202.6,145.4 196.2,151.7 192.2,156.5 193.0,164.5 195.4,160.9 200.2,158.9 207.4,154.5 212.2,148.5 213.7,144.4 214.9,142.7 235.7,121.1 244.5,110.5 255.3,103.0 257.7,114.2 263.3,122.2 268.1,133.4 272.1,147.7 274.2,160.0 278.7,174.0 282.3,190.5 284.6,206.9 288.3,219.5 288.9,237.0 288.7,253.7 288.7,262.6 298.2,261.3 304.3,258.9 316.5,255.3 328.6,253.4 331.0,254.0 331.9,257.2 333.5,255.3 334.1,252.2 345.7,250.5 352.8,247.8 365.6,245.7 376.3,245.7 384.8,248.9 393.3,253.6 401.8,254.9 409.3,251.0 414.2,245.1 412.5,241.4 409.3,239.8 407.3,237.5 407.0,225.4 405.3,220.0 402.5,215.0 401.0,210.0 394.0,194.8 387.8,173.9 385.7,152.6 380.4,133.4 374.0,118.5 363.3,107.8 351.6,101.4 352.9,90.9 350.0,85.1 354.3,75.1 356.1,70.2 359.0,56.8 361.9,50.0 367.6,46.2 369.0,40.5 366.7,35.7 368.0,30.0"/></clipPath><clipPath id="g1c"><polygon points="297.9,30.0 297.9,70.9 308.6,70.9 315.7,68.7 320.7,63.7 327.1,66.6 326.4,75.1 328.6,83.0 332.9,83.0 337.9,75.1 338.6,70.9 344.3,69.4 350.0,63.7 352.9,52.3 351.3,52.0 355.6,50.0 357.6,40.5 359.5,33.8 360.0,30.0"/></clipPath><clipPath id="spc"><polygon points="331.3,107.8 348.4,105.7 363.3,111.0 374.0,122.7 381.4,144.0 384.6,159.0 382.5,165.4 371.8,165.4 361.2,169.6 337.7,156.8 327.0,154.7 326.0,141.9 330.3,124.9"/></clipPath><filter id="b1" x="-10%" y="-10%" width="120%" height="120%"><feGaussianBlur stdDeviation="1"/></filter><filter id="b2" x="-30%" y="-30%" width="160%" height="160%"><feGaussianBlur stdDeviation="2.4"/></filter><filter id="b4" x="-40%" y="-40%" width="180%" height="180%"><feGaussianBlur stdDeviation="4"/></filter><filter id="b7" x="-50%" y="-50%" width="200%" height="200%"><feGaussianBlur stdDeviation="7"/></filter><filter id="b5" x="-40%" y="-40%" width="180%" height="180%"><feGaussianBlur stdDeviation="5.5"/></filter></defs>
<g clip-path="url(#ax)">
<defs><linearGradient id="sg" gradientUnits="userSpaceOnUse" x1="350" y1="95" x2="412" y2="32"><stop offset="0" stop-color="#0064ff"/><stop offset="0.25" stop-color="#008cff"/><stop offset="0.55" stop-color="#00b4ff"/><stop offset="1" stop-color="#00dcff"/></linearGradient></defs>
<path d="M345.5,102 L350.3,92 L358,78.6 L370.2,64.8 L384.2,51 L397.6,40.5 L411,32.8 L420,28" fill="none" stroke="url(#sg)" stroke-width="6.5" stroke-linecap="round" stroke-linejoin="round" filter="url(#b2)"/>
<path d="M414.5,247L420,243.3" stroke="#3fd6d8" stroke-width="1.3" opacity="0.65" filter="url(#b1)"/>
<polygon points="202.0,30.0 191.3,44.7 167.4,69.8 153.0,86.6 143.5,99.7 137.5,106.4 135.1,104.5 124.8,104.5 114.8,121.2 115.3,126.0 133.9,136.8 143.5,137.5 163.8,108.1 164.5,105.0 159.0,105.7 154.2,104.5 150.6,103.3 154.2,97.3 157.8,86.6 179.3,63.9 205.6,37.6 211.0,32.0 211.0,30.0" fill="#7cad06"/>
<path d="M211.4 137h2.4v1.5h-2.4z" fill="#80b200"/><path d="M126 123h2v1h-2zM129 125h1v2h-1zM131 122h1v1h-1zM133 127h2v1h-2zM128 129h1v1h-1zM136 125h1v2h-1zM138 130h2v1h-2zM131 131h1v1h-1z" fill="#5c8f24"/>
<polygon points="211.0,30.0 211.0,32.0 220.6,34.4 231.8,36.8 235.0,42.4 238.2,52.0 240.6,61.6 247.8,68.0 255.7,73.6 257.3,79.2 254.9,84.0 254.9,92.0 253.7,98.2 243.3,109.4 234.6,119.0 213.8,140.6 209.0,142.6 202.6,145.4 196.2,151.7 192.2,156.5 193.0,164.5 195.4,160.9 200.2,158.9 207.4,154.5 212.2,148.5 213.7,144.4 214.9,142.7 235.7,121.1 244.5,110.5 255.3,103.0 257.7,114.2 263.3,122.2 268.1,133.4 272.1,147.7 274.2,160.0 278.7,174.0 282.3,190.5 284.6,206.9 288.3,219.5 288.9,237.0 288.7,253.7 288.7,262.6 298.2,261.3 304.3,258.9 316.5,255.3 328.6,253.4 331.0,254.0 331.9,257.2 333.5,255.3 334.1,252.2 345.7,250.5 352.8,247.8 365.6,245.7 376.3,245.7 384.8,248.9 393.3,253.6 401.8,254.9 409.3,251.0 414.2,245.1 412.5,241.4 409.3,239.8 407.3,237.5 407.0,225.4 405.3,220.0 402.5,215.0 401.0,210.0 394.0,194.8 387.8,173.9 385.7,152.6 380.4,133.4 374.0,118.5 363.3,107.8 351.6,101.4 352.9,90.9 350.0,85.1 354.3,75.1 356.1,70.2 359.0,56.8 361.9,50.0 367.6,46.2 369.0,40.5 366.7,35.7 368.0,30.0" fill="#80b200"/>
<g clip-path="url(#lc)">
<polygon points="256.7,102.3 261.5,99.4 278.8,98.4 288.4,95.6 298.0,91.7 302.5,86.0 306.5,80.5 312.5,78.5 318.0,80.5 321.5,87.0 328.0,96.0 332.0,110.0 333.0,135.0 332.5,150.0 328.5,158.0 326.0,162.0 331.0,168.3 337.0,171.0 342.8,171.8 355.6,175.6 368.4,180.7 381.2,185.8 387.6,189.7 390.8,194.0 395.8,201.6 398.5,210.8 400.2,216.5 403.5,222.5 404.0,238.3 406.0,241.5 408.5,244.0 407.3,250.3 402.0,253.8 393.0,252.5 385.0,248.0 376.0,245.0 359.0,245.0 352.0,247.0 346.0,250.0 326.0,241.0 310.0,229.0 296.0,219.0 284.0,213.0 284.5,191.0 281.0,175.0 276.5,161.0 274.0,148.0 270.0,135.0 265.0,124.0 258.5,112.0" fill="#338033" filter="url(#b1)"/>
<polygon points="328.0,66.0 352.0,66.0 352.0,100.0 340.0,125.0 338.0,156.0 336.0,166.0 331.0,164.5 327.5,157.0 324.5,138.0 323.5,116.0 324.5,100.0 328.0,90.0" fill="#80b200" filter="url(#b5)"/>
<polygon points="304,94 334,90 334,152 322,154 312,130 305,108" fill="#80b200" opacity="0.6" filter="url(#b7)"/>
<polygon points="276.0,200.0 286.0,204.5 299.8,210.4 313.9,220.9 330.3,232.7 350.0,242.0 364.0,248.0 340.0,270.0 272.0,276.0" fill="#80b200" filter="url(#b5)"/>
<path d="M281,72 Q283,63 291,60" stroke="#6ea414" stroke-width="4" fill="none" stroke-linecap="round" filter="url(#b1)"/>
<path d="M317.5,243 Q317.5,238.5 322,238.3 Q327.5,238.5 328,243.5 L331,249.5 L329.5,250.5 L326,247 Q318,248 317.5,243Z" fill="#12e6ea"/>
<polygon points="278.1,30.0 297.9,30.0 297.9,48.8 278.1,48.8" fill="#659b9c"/>
<polygon points="297.9,30.0 297.9,70.9 308.6,70.9 315.7,68.7 320.7,63.7 327.1,66.6 326.4,75.1 328.6,83.0 332.9,83.0 337.9,75.1 338.6,70.9 344.3,69.4 350.0,63.7 352.9,52.3 351.3,52.0 355.6,50.0 357.6,40.5 359.5,33.8 360.0,30.0" fill="#6f9799"/>
<g clip-path="url(#g1c)">
<rect x="304" y="45" width="11" height="9.5" fill="#66adb0"/>
<rect x="328.6" y="56.6" width="26" height="27" fill="#5cbcc2"/>
<rect x="338" y="30" width="24" height="23" fill="#75949a"/>
<rect x="321.4" y="49.4" width="7.4" height="13" fill="#96736f"/>
<rect x="329" y="31" width="10" height="18" fill="#808488"/>
<path d="M318 38h1v1h-1zM349 37h1v1h-1zM334 33h1v1h-1zM351 45h1v1h-1zM340 53h2v2h-2zM355 49h1v1h-1zM343 45h1v1h-1zM307 56h1v1h-1zM333 76h2v2h-2zM352 45h2v2h-2zM307 58h2v1h-2zM328 47h1v1h-1zM307 59h1v2h-1zM331 71h2v1h-2zM311 63h1v2h-1zM319 64h1v2h-1zM344 55h1v2h-1zM335 55h1v2h-1zM329 70h2v2h-2zM324 37h2v2h-2zM334 78h2v1h-2zM307 57h2v1h-2zM340 58h2v1h-2zM301 40h1v1h-1zM329 73h1v2h-1zM302 65h1v1h-1zM323 56h1v1h-1zM354 40h1v2h-1zM349 44h1v2h-1zM314 40h2v2h-2zM356 36h2v2h-2zM301 65h2v2h-2zM315 30h2v2h-2zM317 63h1v1h-1zM343 64h1v2h-1zM314 54h1v1h-1zM350 42h1v1h-1zM328 56h1v1h-1zM356 31h2v1h-2zM315 41h1v1h-1zM335 63h2v1h-2zM316 50h2v2h-2zM347 53h1v2h-1zM314 65h2v2h-2zM332 47h2v2h-2z" fill="#5cbcc2"/><path d="M304 61h1v1h-1zM325 34h1v2h-1zM309 61h1v2h-1zM320 56h2v1h-2zM320 62h2v1h-2zM307 39h1v1h-1zM328 61h2v2h-2zM323 35h2v1h-2zM336 34h1v2h-1zM319 44h1v1h-1zM314 49h1v2h-1zM312 57h2v1h-2zM343 39h1v1h-1zM356 38h1v1h-1zM304 70h1v2h-1zM325 57h2v2h-2zM330 46h1v1h-1zM358 36h2v2h-2zM318 45h1v2h-1zM315 31h1v2h-1zM337 32h1v1h-1zM300 31h1v2h-1zM350 51h2v1h-2zM342 64h2v2h-2zM350 31h2v2h-2zM313 46h2v1h-2zM349 38h1v2h-1zM341 57h1v1h-1zM331 70h2v2h-2zM354 45h1v1h-1zM335 48h2v1h-2zM327 36h1v2h-1zM304 70h2v2h-2zM321 56h2v2h-2zM315 33h2v1h-2zM336 37h2v2h-2zM339 36h1v1h-1zM344 41h2v2h-2z" fill="#22e2e6"/><path d="M332 33h1v1h-1zM346 34h2v2h-2zM339 33h2v2h-2zM346 37h1v2h-1zM308 51h2v1h-2zM339 69h2v2h-2zM302 41h1v1h-1zM335 35h1v1h-1zM335 55h1v2h-1zM347 55h1v2h-1zM303 35h2v1h-2zM349 41h2v1h-2zM309 55h1v1h-1zM326 31h1v2h-1zM336 57h1v2h-1zM353 41h2v1h-2zM305 53h1v1h-1zM338 49h2v1h-2zM320 35h2v1h-2zM332 53h1v2h-1zM336 42h2v1h-2zM345 45h1v2h-1zM318 32h2v1h-2zM309 48h1v2h-1zM329 41h1v1h-1zM335 71h2v1h-2zM300 37h2v1h-2zM350 60h1v1h-1zM338 54h2v1h-2zM328 68h2v2h-2zM340 51h1v2h-1zM321 36h2v1h-2zM332 68h1v2h-1zM309 52h2v2h-2zM329 73h1v2h-1zM307 40h1v1h-1zM310 31h2v2h-2z" fill="#49cfd4"/>
<path d="M329 60h2v1h-2zM322 64h2v2h-2zM306 53h2v2h-2zM327 54h1v1h-1zM353 35h1v1h-1zM338 46h1v2h-1zM341 36h1v2h-1zM322 42h1v1h-1zM313 58h1v1h-1zM342 46h1v1h-1zM303 42h2v2h-2zM329 67h2v2h-2zM344 57h1v2h-1zM312 42h2v1h-2zM328 78h1v1h-1zM301 31h1v2h-1zM342 40h2v2h-2zM318 40h2v1h-2zM339 50h2v2h-2zM308 30h2v1h-2zM333 70h2v2h-2zM349 53h1v2h-1zM310 49h2v1h-2zM313 63h2v1h-2zM300 33h1v2h-1zM319 44h1v2h-1zM355 46h1v1h-1zM305 68h2v2h-2zM306 56h1v2h-1zM336 47h2v2h-2zM347 62h1v2h-1zM313 33h1v2h-1zM308 53h1v1h-1zM337 41h2v2h-2zM309 37h2v1h-2zM346 46h2v2h-2zM314 44h2v1h-2zM313 38h1v2h-1zM329 42h1v2h-1zM304 55h1v2h-1z" fill="#80b200"/>
<path d="M300.7,63.7L320.7,49.4L335,36" stroke="#2be0e4" stroke-width="1.2" fill="none"/>
<path d="M338.6,31.6L321.4,49.4" stroke="#80b200" stroke-width="2.2" fill="none"/>
<path d="M318.6,43L320,64" stroke="#80b200" stroke-width="1.8" fill="none"/>
<path d="M315.7 35h5v8.7h-5zM332.9 53h4.2v3.6h-4.2zM342.9 53h4.2v3.6h-4.2zM298 33h5v3h-5zM300 38h4v4h-4z" fill="#80b200"/>
</g>
<polygon points="237.4,37.6 243.0,44.0 252.5,50.4 258.9,60.0 261.3,72.8 260.5,80.8 258.1,79.2 257.3,72.8 249.3,66.4 242.2,60.0 240.6,52.0 238.2,42.4" fill="#19ecee"/>
<path d="M252,52L259.5,63L260.5,78" stroke="#55c8cf" stroke-width="1.6" fill="none"/>
<path d="M263.7 31h12v1.8h-12zM268.5 80h4v1.6h-4zM279 78h4v1h-4zM286 78h5v1h-5zM293 78h4v1h-4z" fill="#19ecee"/>
<polygon points="331.3,107.8 348.4,105.7 363.3,111.0 374.0,122.7 381.4,144.0 384.6,159.0 382.5,165.4 371.8,165.4 361.2,169.6 337.7,156.8 327.0,154.7 326.0,141.9 330.3,124.9" fill="#94746f"/>
<g clip-path="url(#spc)">
<rect x="337.7" y="155.8" width="18.5" height="13" fill="#57b5ba"/>
<path d="M333 118h1v1h-1zM361 147h1v1h-1zM363 112h1v2h-1zM375 145h2v1h-2zM362 167h2v2h-2zM339 124h2v2h-2zM334 118h2v1h-2zM341 109h2v2h-2zM338 113h1v1h-1zM354 114h1v2h-1zM346 122h2v2h-2zM329 154h2v2h-2zM371 137h1v2h-1zM378 153h2v1h-2zM361 150h1v2h-1zM337 115h1v2h-1zM366 147h2v2h-2zM353 125h1v2h-1zM380 160h1v1h-1zM340 116h1v1h-1zM346 122h1v2h-1zM368 162h1v2h-1zM377 133h1v1h-1zM339 113h2v1h-2zM368 121h1v1h-1zM371 151h1v1h-1zM327 147h1v2h-1zM382 159h1v2h-1zM373 136h2v2h-2zM345 123h1v1h-1zM337 118h1v2h-1zM353 111h2v1h-2zM332 119h2v1h-2zM340 113h2v1h-2zM350 116h2v2h-2zM378 148h1v2h-1zM356 134h2v1h-2zM330 153h2v1h-2zM339 117h1v2h-1zM347 112h1v1h-1zM363 157h1v1h-1zM380 146h1v1h-1zM340 108h1v2h-1zM364 119h2v2h-2zM352 110h2v2h-2zM362 113h2v2h-2zM368 124h2v2h-2zM366 139h1v2h-1zM330 126h1v1h-1zM366 158h2v1h-2zM374 145h1v1h-1zM379 158h2v2h-2zM375 157h1v2h-1zM365 150h1v2h-1zM338 125h2v1h-2zM363 166h1v2h-1zM358 122h1v1h-1zM375 132h1v1h-1zM327 137h1v1h-1zM364 167h2v1h-2zM334 107h2v1h-2zM357 163h1v1h-1zM370 127h1v2h-1zM328 145h2v1h-2zM365 158h1v2h-1zM366 142h2v1h-2zM366 145h2v2h-2zM347 121h2v2h-2zM327 144h1v2h-1zM380 161h1v2h-1zM357 129h2v1h-2zM377 148h1v2h-1zM367 134h1v1h-1zM371 146h1v2h-1zM372 121h1v1h-1zM360 111h1v2h-1zM371 133h1v2h-1zM377 147h1v1h-1zM381 162h1v2h-1zM359 129h2v1h-2zM377 160h1v1h-1zM372 121h2v1h-2zM340 119h2v2h-2zM378 138h1v2h-1zM361 135h1v1h-1zM383 160h1v1h-1zM345 108h2v2h-2zM377 152h2v2h-2zM378 157h1v1h-1zM363 140h1v2h-1z" fill="#6aa7ab"/><path d="M356 117h2v1h-2zM363 151h2v1h-2zM348 115h1v2h-1zM362 111h1v2h-1zM350 124h2v2h-2zM347 118h2v1h-2zM351 116h1v1h-1zM360 129h1v1h-1zM346 116h1v1h-1zM372 157h2v1h-2zM362 158h1v1h-1zM378 160h1v2h-1zM374 159h2v2h-2zM330 129h2v1h-2zM356 148h1v1h-1zM370 163h1v1h-1zM382 164h1v1h-1zM372 123h1v2h-1zM359 143h1v2h-1zM360 148h2v1h-2zM347 112h2v1h-2zM360 143h1v2h-1zM335 107h1v1h-1zM377 156h2v2h-2zM330 146h2v1h-2zM375 153h2v1h-2zM364 167h1v1h-1zM361 130h2v2h-2zM359 117h1v1h-1zM346 115h1v1h-1zM371 128h1v1h-1zM360 116h1v1h-1zM345 118h1v1h-1zM352 120h2v2h-2zM376 139h1v2h-1zM358 116h1v2h-1zM376 135h1v2h-1zM363 159h2v2h-2zM347 109h2v2h-2zM380 146h2v2h-2zM368 158h1v2h-1zM367 150h2v1h-2zM342 121h2v2h-2zM371 128h1v1h-1zM355 119h1v2h-1zM359 123h1v1h-1zM355 109h2v1h-2zM365 159h2v2h-2zM329 153h2v1h-2zM354 163h1v1h-1zM363 127h2v2h-2zM372 141h1v2h-1zM333 118h2v1h-2zM332 109h2v1h-2zM362 146h1v1h-1zM359 143h1v2h-1zM374 155h2v2h-2zM330 149h1v2h-1zM363 133h1v1h-1zM363 151h2v2h-2zM361 125h2v1h-2zM371 121h2v2h-2zM375 158h1v2h-1zM372 152h1v2h-1zM366 135h1v2h-1zM372 135h1v2h-1zM360 129h1v1h-1zM361 145h1v2h-1zM348 107h1v2h-1zM355 160h1v2h-1zM379 159h1v2h-1zM366 125h2v1h-2zM345 122h1v2h-1zM362 130h1v2h-1zM339 109h2v1h-2zM373 122h1v2h-1zM341 121h1v1h-1zM329 152h2v1h-2zM367 158h2v1h-2zM346 159h2v1h-2zM367 142h1v2h-1zM347 121h2v2h-2zM343 113h2v2h-2zM357 140h1v1h-1zM363 135h1v2h-1zM355 124h1v1h-1zM365 135h2v1h-2zM351 159h1v2h-1zM372 127h1v2h-1zM375 142h2v2h-2zM345 115h2v1h-2zM364 113h2v1h-2zM346 118h2v2h-2zM345 123h1v2h-1zM366 145h2v1h-2zM363 151h2v1h-2zM373 134h2v1h-2zM352 158h2v2h-2zM355 147h1v1h-1zM330 142h1v2h-1zM358 164h2v1h-2zM356 138h1v1h-1zM334 121h2v1h-2zM341 109h1v2h-1zM331 117h2v1h-2zM359 113h2v2h-2zM331 123h1v2h-1zM374 131h2v2h-2zM328 149h2v2h-2zM343 123h1v1h-1zM380 149h2v1h-2zM375 155h2v1h-2zM372 128h1v2h-1zM367 143h1v2h-1zM358 154h1v1h-1zM344 113h2v2h-2zM359 124h1v1h-1zM354 153h2v2h-2zM364 146h2v1h-2zM368 163h1v2h-1zM356 133h1v2h-1zM354 147h2v2h-2zM369 150h1v2h-1zM358 120h1v1h-1zM366 157h1v1h-1zM362 132h1v2h-1zM333 114h1v1h-1zM373 153h1v2h-1zM346 115h2v1h-2zM326 143h2v1h-2zM362 146h1v2h-1zM347 160h1v2h-1zM335 119h2v2h-2zM361 111h2v1h-2zM364 132h2v1h-2zM377 157h1v2h-1zM329 145h2v1h-2zM357 159h2v2h-2zM374 136h1v2h-1zM338 156h1v1h-1zM330 147h2v2h-2zM365 161h1v2h-1zM361 142h1v1h-1zM363 141h1v2h-1zM338 109h2v2h-2zM358 130h1v2h-1zM367 152h1v1h-1zM328 151h2v2h-2zM358 126h1v2h-1zM356 144h2v1h-2zM347 110h2v2h-2z" fill="#58bdc4"/><path d="M373 131h2v1h-2zM362 118h2v1h-2zM376 155h2v2h-2zM327 145h2v2h-2zM355 164h1v2h-1zM345 108h1v2h-1zM363 123h2v2h-2zM369 129h2v2h-2zM347 155h2v1h-2zM378 144h2v2h-2zM337 116h1v1h-1zM376 134h1v2h-1zM365 162h2v1h-2zM360 124h2v1h-2zM329 128h1v2h-1zM338 123h1v2h-1zM357 161h2v2h-2zM341 120h2v2h-2zM356 123h1v1h-1zM368 144h2v1h-2zM351 118h1v2h-1zM360 154h2v1h-2zM339 157h2v2h-2zM354 146h1v2h-1zM375 146h1v1h-1zM341 112h1v1h-1zM378 145h1v2h-1zM365 135h1v1h-1zM358 111h2v1h-2zM382 152h2v1h-2zM343 110h2v1h-2zM346 111h2v2h-2zM379 162h2v2h-2zM345 121h1v2h-1zM352 116h1v1h-1zM373 164h1v2h-1zM352 164h1v2h-1zM334 117h1v1h-1zM361 159h2v2h-2zM359 167h1v1h-1zM378 140h1v1h-1zM332 118h2v2h-2zM361 165h2v1h-2zM378 164h2v2h-2zM369 153h2v2h-2zM362 136h2v1h-2zM374 127h1v2h-1zM355 134h2v1h-2zM365 118h2v2h-2zM360 132h1v1h-1zM342 112h1v2h-1zM360 167h2v1h-2zM339 125h2v1h-2zM364 167h2v2h-2zM342 107h1v1h-1zM363 143h2v2h-2zM360 129h1v2h-1zM376 153h2v1h-2zM331 117h1v2h-1zM365 113h2v2h-2zM330 126h1v2h-1zM371 162h1v2h-1zM355 150h2v1h-2zM367 157h2v1h-2zM346 112h2v1h-2zM366 137h2v1h-2zM339 114h2v2h-2zM363 115h1v1h-1zM331 108h2v2h-2zM333 117h1v1h-1zM380 149h2v2h-2zM372 137h1v2h-1zM330 145h2v2h-2zM345 120h1v1h-1zM357 167h1v1h-1zM365 162h2v2h-2zM349 155h1v1h-1zM344 125h2v1h-2zM341 107h1v2h-1zM367 120h2v2h-2zM355 112h1v1h-1zM327 136h2v1h-2zM381 146h1v1h-1zM359 117h2v1h-2zM344 111h1v2h-1zM366 157h1v1h-1zM380 151h2v1h-2zM355 114h2v1h-2zM368 139h2v1h-2z" fill="#3fd0d6"/>
<path d="M330 154h2v3h-2zM357 158h1v3h-1zM376 147h1v2h-1zM347 161h2v1h-2zM335 122h1v2h-1zM365 139h2v2h-2zM342 124h2v3h-2zM373 154h1v1h-1zM342 126h1v2h-1zM351 156h3v2h-3zM368 130h1v3h-1zM362 122h1v2h-1zM345 110h2v2h-2zM357 137h3v1h-3zM361 135h2v3h-2zM355 138h1v3h-1zM369 131h1v3h-1zM358 155h2v1h-2zM339 111h1v1h-1zM366 151h2v1h-2zM350 109h3v1h-3zM342 122h2v2h-2zM365 125h2v3h-2zM366 125h1v2h-1zM338 109h3v3h-3zM381 148h3v3h-3zM347 157h1v2h-1zM338 119h3v3h-3zM338 119h1v2h-1zM330 144h1v1h-1zM355 149h3v3h-3zM373 140h1v1h-1zM356 135h1v1h-1zM366 116h1v3h-1zM343 121h3v2h-3zM344 122h3v1h-3zM381 148h1v2h-1zM345 116h2v1h-2zM338 115h1v2h-1zM370 137h1v1h-1zM342 125h3v3h-3zM371 155h1v3h-1zM328 144h1v2h-1zM381 148h1v1h-1zM373 152h2v1h-2zM372 144h2v1h-2zM328 143h2v3h-2zM350 159h1v2h-1zM364 159h2v1h-2zM357 113h2v1h-2zM369 140h1v1h-1zM332 109h3v3h-3zM366 120h1v1h-1zM363 113h3v1h-3zM365 120h1v3h-1zM346 112h1v3h-1zM374 128h2v3h-2zM331 121h3v3h-3zM334 118h1v3h-1zM328 139h2v1h-2zM376 156h1v3h-1zM360 157h2v3h-2zM381 164h3v2h-3zM352 158h3v2h-3zM373 154h1v1h-1zM360 142h2v3h-2zM349 156h3v3h-3zM374 132h1v1h-1zM365 163h2v2h-2zM382 162h2v2h-2zM361 135h2v3h-2zM353 108h2v1h-2zM340 120h3v1h-3zM347 120h3v2h-3zM373 122h2v3h-2zM370 148h1v2h-1zM330 146h2v2h-2zM363 130h3v3h-3zM366 141h2v2h-2zM369 154h1v2h-1zM360 143h1v2h-1zM370 147h2v3h-2zM364 157h3v3h-3zM345 159h2v1h-2zM366 164h3v2h-3zM372 129h3v1h-3zM338 126h2v2h-2zM366 129h2v2h-2zM342 119h3v2h-3zM363 155h2v1h-2zM365 160h2v1h-2zM349 158h3v1h-3zM357 150h2v2h-2zM342 121h1v3h-1zM370 149h2v3h-2zM350 159h3v2h-3zM349 157h2v1h-2zM357 139h3v2h-3zM326 142h1v3h-1zM372 159h1v1h-1zM355 163h1v3h-1zM367 151h3v2h-3zM371 144h3v2h-3zM327 139h1v2h-1zM326 146h1v2h-1zM361 144h1v1h-1zM332 120h3v2h-3zM357 120h3v1h-3zM375 157h3v3h-3zM339 117h3v2h-3zM342 111h1v2h-1zM356 143h1v3h-1zM330 136h1v2h-1zM362 118h3v1h-3zM350 124h1v1h-1zM352 118h3v3h-3zM370 159h2v3h-2zM380 152h3v1h-3zM375 147h3v3h-3zM359 146h3v3h-3zM373 135h1v2h-1zM378 137h1v2h-1zM354 158h1v1h-1zM356 119h2v3h-2zM342 158h3v2h-3zM352 115h1v1h-1zM360 164h2v2h-2zM354 147h1v1h-1zM380 149h2v1h-2zM364 161h1v3h-1zM367 136h1v1h-1zM361 110h1v1h-1zM349 156h1v3h-1zM359 143h2v2h-2zM335 107h1v3h-1zM378 164h1v1h-1zM359 158h3v3h-3zM367 148h3v2h-3zM349 106h3v1h-3zM367 153h3v2h-3zM362 111h3v2h-3zM331 121h1v1h-1zM342 125h2v1h-2zM362 168h1v1h-1zM367 144h3v2h-3zM360 119h3v1h-3zM375 151h1v3h-1zM376 133h1v1h-1zM341 125h2v1h-2zM348 116h1v3h-1zM371 159h2v2h-2zM327 140h2v1h-2zM371 155h2v1h-2zM357 147h3v1h-3zM371 146h3v1h-3zM366 150h3v2h-3zM341 122h1v1h-1zM364 145h3v3h-3zM364 144h3v2h-3zM357 110h1v1h-1zM368 147h3v3h-3zM377 161h2v2h-2zM376 157h3v2h-3zM363 160h1v1h-1zM372 148h2v3h-2zM337 115h1v1h-1zM341 111h3v1h-3zM372 122h2v1h-2zM377 164h1v2h-1zM364 162h2v2h-2zM364 136h1v1h-1zM365 159h1v2h-1zM354 137h1v2h-1zM331 113h2v1h-2zM351 110h1v1h-1zM370 142h2v1h-2zM340 117h2v1h-2zM331 123h2v3h-2zM330 135h2v1h-2zM342 156h1v1h-1zM354 117h1v3h-1zM364 150h1v3h-1zM371 148h1v3h-1zM381 153h2v3h-2zM352 160h2v2h-2zM344 118h1v2h-1zM354 138h3v2h-3zM362 120h2v1h-2zM326 145h2v3h-2zM354 141h2v1h-2zM340 113h2v1h-2zM372 122h3v3h-3zM350 109h1v1h-1zM330 154h1v1h-1zM330 130h2v3h-2zM357 149h2v3h-2zM364 132h3v2h-3zM366 119h2v1h-2zM354 149h3v3h-3zM353 126h1v2h-1zM369 129h3v2h-3zM333 120h1v2h-1zM352 117h2v3h-2zM366 156h2v2h-2zM382 155h3v3h-3zM363 151h1v2h-1zM364 116h1v3h-1zM376 162h3v1h-3zM379 144h2v3h-2zM341 117h1v2h-1zM357 126h2v3h-2zM342 110h1v3h-1zM370 159h2v2h-2zM368 120h1v2h-1zM373 135h2v1h-2zM374 136h2v1h-2zM340 122h2v3h-2zM368 120h2v1h-2zM362 163h1v2h-1zM334 110h2v2h-2zM344 155h2v1h-2zM329 139h1v1h-1zM353 118h1v3h-1zM366 136h2v1h-2zM365 146h2v2h-2zM339 126h2v3h-2zM371 129h2v3h-2zM362 112h2v1h-2zM330 149h1v2h-1zM376 148h2v2h-2zM368 153h1v2h-1zM357 150h2v1h-2zM336 117h2v3h-2zM381 152h2v2h-2zM368 153h1v3h-1zM377 138h1v1h-1zM356 158h3v1h-3zM376 149h3v2h-3zM374 161h3v2h-3zM372 122h1v1h-1zM339 126h2v2h-2zM348 113h1v1h-1zM370 155h3v1h-3zM370 158h2v3h-2zM348 159h1v1h-1zM345 155h3v3h-3zM373 160h2v2h-2zM372 156h1v3h-1zM347 110h1v2h-1zM355 109h2v3h-2zM378 143h2v2h-2zM369 128h1v3h-1zM354 132h3v1h-3zM380 148h1v3h-1zM373 144h1v1h-1zM368 165h1v2h-1zM377 144h2v3h-2zM358 154h3v2h-3zM327 138h3v3h-3zM356 165h3v1h-3zM366 144h1v2h-1zM356 136h1v1h-1zM372 140h1v3h-1zM340 117h1v3h-1zM370 151h3v1h-3zM375 133h3v1h-3zM331 110h3v3h-3zM346 155h1v1h-1zM362 125h1v3h-1zM352 115h3v2h-3zM356 117h2v2h-2zM354 123h3v1h-3zM361 115h1v1h-1zM369 127h3v3h-3zM364 135h3v3h-3zM354 138h3v3h-3zM366 146h3v2h-3zM361 149h2v1h-2zM364 124h1v1h-1zM373 134h2v2h-2zM380 147h2v1h-2zM359 160h1v2h-1zM348 111h1v1h-1zM335 120h1v2h-1zM383 155h1v2h-1zM328 137h3v2h-3zM370 144h2v1h-2zM327 151h3v1h-3zM353 113h1v3h-1zM341 121h1v3h-1zM373 146h3v1h-3zM357 149h1v2h-1zM352 162h3v3h-3zM365 138h1v1h-1zM355 150h1v3h-1zM355 165h3v3h-3zM375 129h3v3h-3zM359 152h2v2h-2zM362 126h2v1h-2zM365 145h1v3h-1zM355 123h1v2h-1zM360 164h3v3h-3zM361 114h2v2h-2zM362 134h3v2h-3zM369 147h1v1h-1zM330 122h2v1h-2zM371 150h3v2h-3zM364 126h3v3h-3zM375 158h2v1h-2zM347 160h1v2h-1zM352 107h1v1h-1zM368 152h2v3h-2zM370 147h3v2h-3zM339 122h1v1h-1zM379 145h1v3h-1zM357 160h2v1h-2zM344 110h2v1h-2zM354 140h1v2h-1zM357 113h2v2h-2zM380 163h2v2h-2zM359 112h2v3h-2zM360 167h2v3h-2zM344 108h1v2h-1zM348 155h3v3h-3zM354 165h1v3h-1zM358 119h3v3h-3zM370 121h1v3h-1zM366 151h1v2h-1zM367 139h2v3h-2zM356 126h2v2h-2zM370 123h1v2h-1zM347 114h2v2h-2zM336 115h1v3h-1zM360 142h2v2h-2zM369 121h1v1h-1zM340 112h2v3h-2zM338 122h2v1h-2zM364 133h2v1h-2zM340 116h2v2h-2zM356 165h3v1h-3zM364 116h3v1h-3zM356 127h1v3h-1zM356 116h3v1h-3zM367 148h1v1h-1zM366 133h1v1h-1zM341 112h2v3h-2zM374 136h1v1h-1zM372 156h1v1h-1zM340 120h3v2h-3zM350 159h1v2h-1zM337 114h3v3h-3zM377 146h1v3h-1zM379 156h3v2h-3zM344 119h3v2h-3zM360 120h2v3h-2zM356 132h3v3h-3zM354 151h3v3h-3zM358 124h3v1h-3zM354 152h1v3h-1zM377 151h2v2h-2zM370 153h1v1h-1zM364 149h3v2h-3zM342 110h2v2h-2zM378 161h2v1h-2zM346 113h3v3h-3zM355 129h2v2h-2zM368 163h2v2h-2zM351 126h3v1h-3zM347 110h3v1h-3zM329 133h1v2h-1zM333 123h3v2h-3zM337 156h3v2h-3zM371 127h3v1h-3zM360 121h1v1h-1zM360 126h1v3h-1zM356 160h1v3h-1zM333 119h2v2h-2zM364 133h2v3h-2zM348 108h3v2h-3zM354 151h2v1h-2zM365 135h3v3h-3zM372 160h3v2h-3zM331 112h2v1h-2zM333 124h3v1h-3zM359 124h1v3h-1zM375 129h3v3h-3zM333 116h1v2h-1zM350 116h3v1h-3zM347 122h1v3h-1zM348 162h2v3h-2zM366 137h2v1h-2zM355 151h1v3h-1zM368 153h1v1h-1zM358 145h3v1h-3zM370 126h1v2h-1zM374 147h1v1h-1zM361 150h3v3h-3zM375 150h3v1h-3zM346 107h2v2h-2zM367 149h2v3h-2zM352 157h2v3h-2zM374 152h1v2h-1zM354 144h1v2h-1zM348 157h1v1h-1zM356 114h2v2h-2zM339 120h2v2h-2zM370 153h3v2h-3zM369 148h2v1h-2zM351 117h3v1h-3zM364 122h3v1h-3zM354 130h3v1h-3zM373 122h1v3h-1zM367 117h3v1h-3zM374 134h3v3h-3zM337 112h2v1h-2zM351 123h1v1h-1zM354 112h1v2h-1zM378 147h1v3h-1zM339 156h2v3h-2zM346 112h1v3h-1z" fill="#80b200"/>
<path d="M340,107L344,125L352,140L356,170M352,106L362,128L372,150L380,166M331,125L352,127M352,127L353,154L330,156M353,154L384,158M362,128L350,140" stroke="#80b200" stroke-width="2.2" fill="none"/>
</g>
<path d="M364 42h1v1h-1zM353 89h2v2h-2zM352 92h2v1h-2zM353 88h2v1h-2zM361 63h1v1h-1zM357 32h2v2h-2zM351 75h1v2h-1zM356 81h1v2h-1zM354 69h1v1h-1zM358 65h2v2h-2zM353 42h1v2h-1zM352 70h2v1h-2zM349 86h2v2h-2zM367 37h1v1h-1zM353 65h1v2h-1zM353 71h2v2h-2zM356 43h1v2h-1zM351 75h2v1h-2zM355 72h1v1h-1zM352 63h2v2h-2zM348 96h2v2h-2zM359 48h2v1h-2z" fill="#22e2e6"/><path d="M353 52h2v1h-2zM368 39h1v2h-1zM354 36h2v2h-2zM349 77h2v1h-2zM365 36h2v1h-2zM357 47h1v2h-1zM353 39h1v2h-1zM361 53h1v1h-1zM354 35h1v1h-1zM355 56h2v2h-2zM356 59h2v1h-2zM361 36h1v2h-1zM364 45h2v2h-2zM359 44h1v2h-1zM364 36h1v2h-1zM348 93h1v2h-1zM368 32h2v1h-2zM353 59h1v1h-1z" fill="#49cfd4"/>
</g>
<polygon points="359.8,35 362.6,38.6 361.5,47.5 358.2,50 358.6,42" fill="#50c8cd"/>
<path d="M371.5 31.5h8.5v2.2h-8.5zM376.3 38h3.8v4h-3.8zM370.5 39.5h1.6v2h-1.6zM384 31.4h3.8v2h-3.8z" fill="#80b200"/>
</g>
<defs><linearGradient id="cb" x1="0" y1="0" x2="0" y2="1"><stop offset="0" stop-color="#ff0000"/><stop offset="0.5" stop-color="#00ffff"/><stop offset="1" stop-color="#0000ff"/></linearGradient></defs>
<rect x="587.40" y="34.50" width="18.20" height="377.00" fill="url(#cb)" stroke="#000" stroke-width="0.9"/>
<rect x="60.50" y="30.50" width="496.00" height="385.00" fill="none" stroke="#000" stroke-width="1.1"/>
<g opacity="0.999">
<text x="49.50" y="65.80" font-size="14.30" text-anchor="end" textLength="39.50" lengthAdjust="spacingAndGlyphs">49.04</text>
<text x="49.50" y="124.80" font-size="14.30" text-anchor="end" textLength="39.50" lengthAdjust="spacingAndGlyphs">49.02</text>
<text x="49.50" y="183.80" font-size="14.30" text-anchor="end" textLength="39.50" lengthAdjust="spacingAndGlyphs">49.00</text>
<text x="49.50" y="242.80" font-size="14.30" text-anchor="end" textLength="39.50" lengthAdjust="spacingAndGlyphs">48.98</text>
<text x="49.50" y="302.80" font-size="14.30" text-anchor="end" textLength="39.50" lengthAdjust="spacingAndGlyphs">48.96</text>
<text x="49.50" y="361.80" font-size="14.30" text-anchor="end" textLength="39.50" lengthAdjust="spacingAndGlyphs">48.94</text>
<text x="49.50" y="420.80" font-size="14.30" text-anchor="end" textLength="39.50" lengthAdjust="spacingAndGlyphs">48.92</text>
<text x="58.60" y="446.20" font-size="14.30" text-anchor="middle" textLength="60.20" lengthAdjust="spacingAndGlyphs" transform="rotate(-20 58.60 441.20)">−123.20</text>
<text x="158.60" y="446.20" font-size="14.30" text-anchor="middle" textLength="60.20" lengthAdjust="spacingAndGlyphs" transform="rotate(-20 158.60 441.20)">−123.15</text>
<text x="257.60" y="446.20" font-size="14.30" text-anchor="middle" textLength="60.20" lengthAdjust="spacingAndGlyphs" transform="rotate(-20 257.60 441.20)">−123.10</text>
<text x="356.60" y="446.20" font-size="14.30" text-anchor="middle" textLength="60.20" lengthAdjust="spacingAndGlyphs" transform="rotate(-20 356.60 441.20)">−123.05</text>
<text x="455.60" y="446.20" font-size="14.30" text-anchor="middle" textLength="60.20" lengthAdjust="spacingAndGlyphs" transform="rotate(-20 455.60 441.20)">−123.00</text>
<text x="554.60" y="446.20" font-size="14.30" text-anchor="middle" textLength="60.20" lengthAdjust="spacingAndGlyphs" transform="rotate(-20 554.60 441.20)">−122.95</text>
<text x="616.00" y="39.80" font-size="14.30" text-anchor="start" textLength="21.40" lengthAdjust="spacingAndGlyphs">1.5</text>
<text x="616.00" y="102.80" font-size="14.30" text-anchor="start" textLength="21.40" lengthAdjust="spacingAndGlyphs">1.0</text>
<text x="616.00" y="165.80" font-size="14.30" text-anchor="start" textLength="21.40" lengthAdjust="spacingAndGlyphs">0.5</text>
<text x="616.00" y="228.80" font-size="14.30" text-anchor="start" textLength="21.40" lengthAdjust="spacingAndGlyphs">0.0</text>
<text x="616.30" y="291.30" font-size="14.30" text-anchor="start" textLength="32.70" lengthAdjust="spacingAndGlyphs">−0.5</text>
<text x="616.30" y="354.30" font-size="14.30" text-anchor="start" textLength="32.70" lengthAdjust="spacingAndGlyphs">−1.0</text>
<text x="616.30" y="416.80" font-size="14.30" text-anchor="start" textLength="32.70" lengthAdjust="spacingAndGlyphs">−1.5</text>
<text x="307.40" y="22.00" font-size="17.10" text-anchor="middle" textLength="211.50" lengthAdjust="spacingAndGlyphs">4:30:00 after earthquake</text>
</g>
<path d="M60.50 60.50h-4.9M60.50 119.50h-4.9M60.50 178.50h-4.9M60.50 237.50h-4.9M60.50 297.50h-4.9M60.50 356.50h-4.9M60.50 415.50h-4.9M59.50 415.50v4.9M159.50 415.50v4.9M258.50 415.50v4.9M357.50 415.50v4.9M456.50 415.50v4.9M555.50 415.50v4.9M605.60 34.50h4.9M605.60 97.50h4.9M605.60 160.50h4.9M605.60 223.50h4.9M605.60 286.00h4.9M605.60 349.00h4.9M605.60 411.50h4.9" stroke="#000" stroke-width="1.1" fill="none"/>
</svg>
</body></html>
